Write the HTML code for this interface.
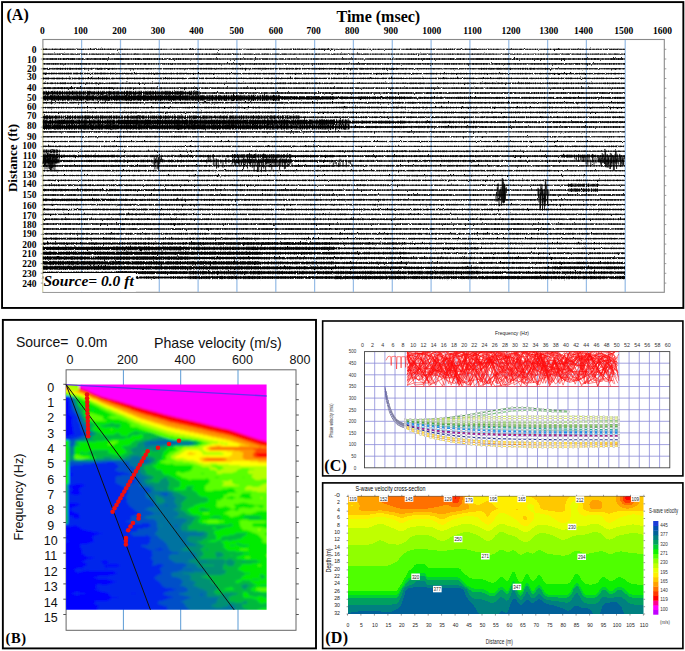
<!DOCTYPE html>
<html><head><meta charset="utf-8"><title>figure</title>
<style>html,body{margin:0;padding:0;background:#fff}body{width:685px;height:651px;overflow:hidden}svg{display:block}</style>
</head><body>
<svg width="685" height="651" viewBox="0 0 685 651">
<rect x="2.05" y="2.1" width="681.3" height="305.85" fill="none" stroke="#000" stroke-width="1.9"/>
<text x="6.5" y="20.3" font-family='"Liberation Serif",serif' font-weight="bold" font-size="16">(A)</text>
<text x="336.5" y="21.9" font-family='"Liberation Serif",serif' font-weight="bold" font-size="16">Time (msec)</text>
<text x="42.3" y="33.8" text-anchor="middle" font-family='"Liberation Serif",serif' font-weight="bold" font-size="9.5">0</text>
<text x="80.5" y="33.8" text-anchor="middle" font-family='"Liberation Serif",serif' font-weight="bold" font-size="9.5">100</text>
<text x="119.4" y="33.8" text-anchor="middle" font-family='"Liberation Serif",serif' font-weight="bold" font-size="9.5">200</text>
<text x="157.9" y="33.8" text-anchor="middle" font-family='"Liberation Serif",serif' font-weight="bold" font-size="9.5">300</text>
<text x="196.3" y="33.8" text-anchor="middle" font-family='"Liberation Serif",serif' font-weight="bold" font-size="9.5">400</text>
<text x="236.5" y="33.8" text-anchor="middle" font-family='"Liberation Serif",serif' font-weight="bold" font-size="9.5">500</text>
<text x="275.9" y="33.8" text-anchor="middle" font-family='"Liberation Serif",serif' font-weight="bold" font-size="9.5">600</text>
<text x="313.7" y="33.8" text-anchor="middle" font-family='"Liberation Serif",serif' font-weight="bold" font-size="9.5">700</text>
<text x="352" y="33.8" text-anchor="middle" font-family='"Liberation Serif",serif' font-weight="bold" font-size="9.5">800</text>
<text x="390.8" y="33.8" text-anchor="middle" font-family='"Liberation Serif",serif' font-weight="bold" font-size="9.5">900</text>
<text x="431.7" y="33.8" text-anchor="middle" font-family='"Liberation Serif",serif' font-weight="bold" font-size="9.5">1000</text>
<text x="472.4" y="33.8" text-anchor="middle" font-family='"Liberation Serif",serif' font-weight="bold" font-size="9.5">1100</text>
<text x="511" y="33.8" text-anchor="middle" font-family='"Liberation Serif",serif' font-weight="bold" font-size="9.5">1200</text>
<text x="548.8" y="33.8" text-anchor="middle" font-family='"Liberation Serif",serif' font-weight="bold" font-size="9.5">1300</text>
<text x="583.5" y="33.8" text-anchor="middle" font-family='"Liberation Serif",serif' font-weight="bold" font-size="9.5">1400</text>
<text x="623.8" y="33.8" text-anchor="middle" font-family='"Liberation Serif",serif' font-weight="bold" font-size="9.5">1500</text>
<text x="662.5" y="33.8" text-anchor="middle" font-family='"Liberation Serif",serif' font-weight="bold" font-size="9.5">1600</text>
<rect x="42.9" y="39.5" width="621.4" height="252.8" fill="#fff" stroke="#8a8a8a" stroke-width="1.1"/>
<line x1="81.6" y1="40" x2="81.6" y2="292" stroke="#98bde6" stroke-width="1.25"/>
<line x1="120.5" y1="40" x2="120.5" y2="292" stroke="#98bde6" stroke-width="1.25"/>
<line x1="159.3" y1="40" x2="159.3" y2="292" stroke="#98bde6" stroke-width="1.25"/>
<line x1="198.1" y1="40" x2="198.1" y2="292" stroke="#98bde6" stroke-width="1.25"/>
<line x1="236.9" y1="40" x2="236.9" y2="292" stroke="#98bde6" stroke-width="1.25"/>
<line x1="275.8" y1="40" x2="275.8" y2="292" stroke="#98bde6" stroke-width="1.25"/>
<line x1="314.6" y1="40" x2="314.6" y2="292" stroke="#98bde6" stroke-width="1.25"/>
<line x1="353.4" y1="40" x2="353.4" y2="292" stroke="#98bde6" stroke-width="1.25"/>
<line x1="392.3" y1="40" x2="392.3" y2="292" stroke="#98bde6" stroke-width="1.25"/>
<line x1="431.1" y1="40" x2="431.1" y2="292" stroke="#98bde6" stroke-width="1.25"/>
<line x1="469.9" y1="40" x2="469.9" y2="292" stroke="#98bde6" stroke-width="1.25"/>
<line x1="508.8" y1="40" x2="508.8" y2="292" stroke="#98bde6" stroke-width="1.25"/>
<line x1="547.6" y1="40" x2="547.6" y2="292" stroke="#98bde6" stroke-width="1.25"/>
<line x1="586.4" y1="40" x2="586.4" y2="292" stroke="#98bde6" stroke-width="1.25"/>
<line x1="625.2" y1="40" x2="625.2" y2="292" stroke="#98bde6" stroke-width="1.25"/>
<line x1="42.9" y1="48" x2="42.9" y2="292" stroke="#f2eeb0" stroke-width="1"/>
<text x="36.5" y="53.2" text-anchor="end" font-family='"Liberation Serif",serif' font-weight="bold" font-size="9.5">0</text>
<line x1="40.8" y1="49.3" x2="42.9" y2="49.3" stroke="#888" stroke-width="0.8"/>
<line x1="664.3" y1="49.3" x2="666.3" y2="49.3" stroke="#888" stroke-width="0.8"/>
<text x="36.5" y="63.3" text-anchor="end" font-family='"Liberation Serif",serif' font-weight="bold" font-size="9.5">10</text>
<line x1="40.8" y1="59" x2="42.9" y2="59" stroke="#888" stroke-width="0.8"/>
<line x1="664.3" y1="59" x2="666.3" y2="59" stroke="#888" stroke-width="0.8"/>
<text x="36.5" y="71.6" text-anchor="end" font-family='"Liberation Serif",serif' font-weight="bold" font-size="9.5">20</text>
<line x1="40.8" y1="68.8" x2="42.9" y2="68.8" stroke="#888" stroke-width="0.8"/>
<line x1="664.3" y1="68.8" x2="666.3" y2="68.8" stroke="#888" stroke-width="0.8"/>
<text x="36.5" y="80.4" text-anchor="end" font-family='"Liberation Serif",serif' font-weight="bold" font-size="9.5">30</text>
<line x1="40.8" y1="78.5" x2="42.9" y2="78.5" stroke="#888" stroke-width="0.8"/>
<line x1="664.3" y1="78.5" x2="666.3" y2="78.5" stroke="#888" stroke-width="0.8"/>
<text x="36.5" y="91" text-anchor="end" font-family='"Liberation Serif",serif' font-weight="bold" font-size="9.5">40</text>
<line x1="40.8" y1="88.3" x2="42.9" y2="88.3" stroke="#888" stroke-width="0.8"/>
<line x1="664.3" y1="88.3" x2="666.3" y2="88.3" stroke="#888" stroke-width="0.8"/>
<text x="36.5" y="100.8" text-anchor="end" font-family='"Liberation Serif",serif' font-weight="bold" font-size="9.5">50</text>
<line x1="40.8" y1="98" x2="42.9" y2="98" stroke="#888" stroke-width="0.8"/>
<line x1="664.3" y1="98" x2="666.3" y2="98" stroke="#888" stroke-width="0.8"/>
<text x="36.5" y="110.1" text-anchor="end" font-family='"Liberation Serif",serif' font-weight="bold" font-size="9.5">60</text>
<line x1="40.8" y1="107.7" x2="42.9" y2="107.7" stroke="#888" stroke-width="0.8"/>
<line x1="664.3" y1="107.7" x2="666.3" y2="107.7" stroke="#888" stroke-width="0.8"/>
<text x="36.5" y="119.3" text-anchor="end" font-family='"Liberation Serif",serif' font-weight="bold" font-size="9.5">70</text>
<line x1="40.8" y1="117.5" x2="42.9" y2="117.5" stroke="#888" stroke-width="0.8"/>
<line x1="664.3" y1="117.5" x2="666.3" y2="117.5" stroke="#888" stroke-width="0.8"/>
<text x="36.5" y="128.5" text-anchor="end" font-family='"Liberation Serif",serif' font-weight="bold" font-size="9.5">80</text>
<line x1="40.8" y1="127.2" x2="42.9" y2="127.2" stroke="#888" stroke-width="0.8"/>
<line x1="664.3" y1="127.2" x2="666.3" y2="127.2" stroke="#888" stroke-width="0.8"/>
<text x="36.5" y="139.6" text-anchor="end" font-family='"Liberation Serif",serif' font-weight="bold" font-size="9.5">90</text>
<line x1="40.8" y1="137" x2="42.9" y2="137" stroke="#888" stroke-width="0.8"/>
<line x1="664.3" y1="137" x2="666.3" y2="137" stroke="#888" stroke-width="0.8"/>
<text x="36.5" y="148.8" text-anchor="end" font-family='"Liberation Serif",serif' font-weight="bold" font-size="9.5">100</text>
<line x1="40.8" y1="146.7" x2="42.9" y2="146.7" stroke="#888" stroke-width="0.8"/>
<line x1="664.3" y1="146.7" x2="666.3" y2="146.7" stroke="#888" stroke-width="0.8"/>
<text x="36.5" y="159.1" text-anchor="end" font-family='"Liberation Serif",serif' font-weight="bold" font-size="9.5">110</text>
<line x1="40.8" y1="156.4" x2="42.9" y2="156.4" stroke="#888" stroke-width="0.8"/>
<line x1="664.3" y1="156.4" x2="666.3" y2="156.4" stroke="#888" stroke-width="0.8"/>
<text x="36.5" y="168.3" text-anchor="end" font-family='"Liberation Serif",serif' font-weight="bold" font-size="9.5">120</text>
<line x1="40.8" y1="166.2" x2="42.9" y2="166.2" stroke="#888" stroke-width="0.8"/>
<line x1="664.3" y1="166.2" x2="666.3" y2="166.2" stroke="#888" stroke-width="0.8"/>
<text x="36.5" y="178" text-anchor="end" font-family='"Liberation Serif",serif' font-weight="bold" font-size="9.5">130</text>
<line x1="40.8" y1="175.9" x2="42.9" y2="175.9" stroke="#888" stroke-width="0.8"/>
<line x1="664.3" y1="175.9" x2="666.3" y2="175.9" stroke="#888" stroke-width="0.8"/>
<text x="36.5" y="187.2" text-anchor="end" font-family='"Liberation Serif",serif' font-weight="bold" font-size="9.5">140</text>
<line x1="40.8" y1="185.7" x2="42.9" y2="185.7" stroke="#888" stroke-width="0.8"/>
<line x1="664.3" y1="185.7" x2="666.3" y2="185.7" stroke="#888" stroke-width="0.8"/>
<text x="36.5" y="198.3" text-anchor="end" font-family='"Liberation Serif",serif' font-weight="bold" font-size="9.5">150</text>
<line x1="40.8" y1="195.4" x2="42.9" y2="195.4" stroke="#888" stroke-width="0.8"/>
<line x1="664.3" y1="195.4" x2="666.3" y2="195.4" stroke="#888" stroke-width="0.8"/>
<text x="36.5" y="209.2" text-anchor="end" font-family='"Liberation Serif",serif' font-weight="bold" font-size="9.5">160</text>
<line x1="40.8" y1="205.1" x2="42.9" y2="205.1" stroke="#888" stroke-width="0.8"/>
<line x1="664.3" y1="205.1" x2="666.3" y2="205.1" stroke="#888" stroke-width="0.8"/>
<text x="36.5" y="218.7" text-anchor="end" font-family='"Liberation Serif",serif' font-weight="bold" font-size="9.5">170</text>
<line x1="40.8" y1="214.9" x2="42.9" y2="214.9" stroke="#888" stroke-width="0.8"/>
<line x1="664.3" y1="214.9" x2="666.3" y2="214.9" stroke="#888" stroke-width="0.8"/>
<text x="36.5" y="228.4" text-anchor="end" font-family='"Liberation Serif",serif' font-weight="bold" font-size="9.5">180</text>
<line x1="40.8" y1="224.6" x2="42.9" y2="224.6" stroke="#888" stroke-width="0.8"/>
<line x1="664.3" y1="224.6" x2="666.3" y2="224.6" stroke="#888" stroke-width="0.8"/>
<text x="36.5" y="237.4" text-anchor="end" font-family='"Liberation Serif",serif' font-weight="bold" font-size="9.5">190</text>
<line x1="40.8" y1="234.4" x2="42.9" y2="234.4" stroke="#888" stroke-width="0.8"/>
<line x1="664.3" y1="234.4" x2="666.3" y2="234.4" stroke="#888" stroke-width="0.8"/>
<text x="36.5" y="247.7" text-anchor="end" font-family='"Liberation Serif",serif' font-weight="bold" font-size="9.5">200</text>
<line x1="40.8" y1="244.1" x2="42.9" y2="244.1" stroke="#888" stroke-width="0.8"/>
<line x1="664.3" y1="244.1" x2="666.3" y2="244.1" stroke="#888" stroke-width="0.8"/>
<text x="36.5" y="256.7" text-anchor="end" font-family='"Liberation Serif",serif' font-weight="bold" font-size="9.5">210</text>
<line x1="40.8" y1="253.8" x2="42.9" y2="253.8" stroke="#888" stroke-width="0.8"/>
<line x1="664.3" y1="253.8" x2="666.3" y2="253.8" stroke="#888" stroke-width="0.8"/>
<text x="36.5" y="267.4" text-anchor="end" font-family='"Liberation Serif",serif' font-weight="bold" font-size="9.5">220</text>
<line x1="40.8" y1="263.6" x2="42.9" y2="263.6" stroke="#888" stroke-width="0.8"/>
<line x1="664.3" y1="263.6" x2="666.3" y2="263.6" stroke="#888" stroke-width="0.8"/>
<text x="36.5" y="276.8" text-anchor="end" font-family='"Liberation Serif",serif' font-weight="bold" font-size="9.5">230</text>
<line x1="40.8" y1="273.3" x2="42.9" y2="273.3" stroke="#888" stroke-width="0.8"/>
<line x1="664.3" y1="273.3" x2="666.3" y2="273.3" stroke="#888" stroke-width="0.8"/>
<text x="36.5" y="286.5" text-anchor="end" font-family='"Liberation Serif",serif' font-weight="bold" font-size="9.5">240</text>
<line x1="40.8" y1="283.1" x2="42.9" y2="283.1" stroke="#888" stroke-width="0.8"/>
<line x1="664.3" y1="283.1" x2="666.3" y2="283.1" stroke="#888" stroke-width="0.8"/>
<text transform="translate(17.2,158) rotate(-90)" text-anchor="middle" font-family='"Liberation Serif",serif' font-weight="bold" font-size="13">Distance (ft)</text>
<style>.tA{stroke-dasharray:0.43 1.03 1.09 0.77 0.50 1.15 1.33 0.81 0.91 0.48 0.20 0.65 1.02 0.28 1.31 0.48 0.53 0.25 1.60 1.09 1.43 0.94 0.25 0.59 0.90 0.34 1.53 0.64 0.42 1.18 0.37 1.31 0.83 0.86 0.68 0.78 0.46 0.24 1.41 0.48 1.29 0.45 1.56 1.27 1.26 1.12 1.01 1.08 0.37 0.77 1.36 0.44 1.49 1.27 0.77 0.64 0.83 0.66 1.59 0.66 0.24 0.31 1.21 1.39 0.89 0.79 0.97 1.10 0.51 0.93 0.98 0.95 0.45 0.40 0.69 1.31 0.69 0.92 0.63 0.32 0.29 1.18 1.29 0.65 1.16 1.01 1.46 1.35 0.77 1.39 1.55 0.91 1.44 0.79 0.73 0.50 1.43 0.39 0.30 1.17}.tB{stroke-dasharray:0.82 1.61 0.87 0.62 0.41 1.17 0.54 0.89 0.26 1.28 0.92 2.76 0.80 1.60 0.40 2.71 0.62 2.18 0.22 0.99 0.87 2.33 0.91 1.88 0.54 1.84 0.88 1.21 0.63 1.13 0.81 0.52 0.75 2.69 0.22 1.87 0.72 2.46 0.67 1.09 0.52 2.71 0.92 0.81 0.28 0.72 0.22 1.53 0.31 2.49 0.72 0.79 0.63 1.25 0.60 1.01 0.33 0.92 0.50 2.13 0.64 0.61 0.77 2.51 0.82 2.32 0.21 1.57 0.25 2.26 0.34 2.14 0.40 2.10 0.45 0.60 0.51 1.21 0.92 1.18 0.60 1.76 0.96 0.73 0.68 1.67 0.79 2.72 0.45 2.11 0.62 1.79 0.25 2.37 0.98 1.32 0.45 2.78 0.29 0.68}.tC{stroke-dasharray:0.27 1.68 0.96 1.06 0.82 0.33 0.84 1.05 0.72 0.96 0.60 0.68 0.25 1.04 0.45 1.50 1.02 1.53 0.66 0.70 0.59 1.13 0.83 1.94 0.29 1.12 0.69 1.52 1.09 1.63 0.83 1.59 0.87 1.76 0.90 1.46 0.45 1.86 0.59 1.35 1.02 1.94 1.19 0.31 0.51 0.83 0.59 0.55 0.75 0.44 0.50 1.90 0.94 1.09 0.31 1.93 0.90 0.65 0.54 1.39 0.88 0.74 1.15 0.85 0.45 1.74 0.35 1.46 0.40 1.32 0.48 0.94 1.14 1.09 0.64 1.35 0.48 0.60 0.58 0.76 0.39 1.93 0.23 1.68 1.13 1.50 0.22 1.15 0.24 1.33 0.90 0.71 0.21 1.23 0.29 0.83 0.65 1.82 0.57 0.53}</style>
<filter id="blA" x="30" y="30" width="650" height="270" filterUnits="userSpaceOnUse"><feTurbulence type="fractalNoise" baseFrequency="0.7 0.25" numOctaves="2" seed="4" result="tb"/><feDisplacementMap in="SourceGraphic" in2="tb" scale="2.0" xChannelSelector="R" yChannelSelector="G" result="dm"/><feGaussianBlur in="dm" stdDeviation="0.35"/></filter>
<g stroke="#000" filter="url(#blA)">
<path d="M42.9 49.30H115.7" stroke-width="0.71"/><path class="tA" d="M42.9 49.30H115.7" stroke-width="0.97" stroke-dashoffset="32.9"/><path class="tB" d="M42.9 49.30H115.7" stroke-width="1.40" stroke-dashoffset="31.8"/>
<path d="M115.7 49.30H188.4" stroke-width="0.60"/><path class="tA" d="M115.7 49.30H188.4" stroke-width="0.79" stroke-dashoffset="7.5"/><path class="tB" d="M115.7 49.30H188.4" stroke-width="1.16" stroke-dashoffset="24.2"/>
<path d="M188.4 49.30H261.2" stroke-width="0.68"/><path class="tA" d="M188.4 49.30H261.2" stroke-width="0.91" stroke-dashoffset="9.0"/><path class="tB" d="M188.4 49.30H261.2" stroke-width="1.33" stroke-dashoffset="48.1"/>
<path d="M261.2 49.30H333.9" stroke-width="0.72"/><path class="tA" d="M261.2 49.30H333.9" stroke-width="0.98" stroke-dashoffset="37.0"/><path class="tB" d="M261.2 49.30H333.9" stroke-width="1.42" stroke-dashoffset="53.0"/>
<path d="M333.9 49.30H406.7" stroke-width="0.60"/><path class="tA" d="M333.9 49.30H406.7" stroke-width="0.78" stroke-dashoffset="23.3"/><path class="tB" d="M333.9 49.30H406.7" stroke-width="1.15" stroke-dashoffset="4.8"/>
<path d="M406.7 49.30H479.5" stroke-width="0.73"/><path class="tA" d="M406.7 49.30H479.5" stroke-width="1.00" stroke-dashoffset="29.9"/><path class="tB" d="M406.7 49.30H479.5" stroke-width="1.44" stroke-dashoffset="45.6"/>
<path d="M479.5 49.30H552.2" stroke-width="0.62"/><path class="tA" d="M479.5 49.30H552.2" stroke-width="0.82" stroke-dashoffset="2.4"/><path class="tB" d="M479.5 49.30H552.2" stroke-width="1.21" stroke-dashoffset="48.9"/>
<path d="M552.2 49.30H625.0" stroke-width="0.69"/><path class="tA" d="M552.2 49.30H625.0" stroke-width="0.93" stroke-dashoffset="24.8"/><path class="tB" d="M552.2 49.30H625.0" stroke-width="1.34" stroke-dashoffset="28.3"/>
<path d="M42.9 54.16H115.7" stroke-width="0.72"/><path class="tA" d="M42.9 54.16H115.7" stroke-width="0.97" stroke-dashoffset="13.5"/><path class="tB" d="M42.9 54.16H115.7" stroke-width="1.41" stroke-dashoffset="16.2"/>
<path d="M115.7 54.16H188.4" stroke-width="0.65"/><path class="tA" d="M115.7 54.16H188.4" stroke-width="0.86" stroke-dashoffset="11.9"/><path class="tB" d="M115.7 54.16H188.4" stroke-width="1.26" stroke-dashoffset="37.6"/>
<path d="M188.4 54.16H261.2" stroke-width="0.73"/><path class="tA" d="M188.4 54.16H261.2" stroke-width="1.00" stroke-dashoffset="2.8"/><path class="tB" d="M188.4 54.16H261.2" stroke-width="1.44" stroke-dashoffset="4.1"/>
<path d="M261.2 54.16H333.9" stroke-width="0.67"/><path class="tA" d="M261.2 54.16H333.9" stroke-width="0.90" stroke-dashoffset="27.1"/><path class="tB" d="M261.2 54.16H333.9" stroke-width="1.31" stroke-dashoffset="11.4"/>
<path d="M333.9 54.16H406.7" stroke-width="0.63"/><path class="tA" d="M333.9 54.16H406.7" stroke-width="0.84" stroke-dashoffset="2.4"/><path class="tB" d="M333.9 54.16H406.7" stroke-width="1.24" stroke-dashoffset="2.2"/>
<path d="M406.7 54.16H479.5" stroke-width="0.67"/><path class="tA" d="M406.7 54.16H479.5" stroke-width="0.90" stroke-dashoffset="27.2"/><path class="tB" d="M406.7 54.16H479.5" stroke-width="1.31" stroke-dashoffset="39.2"/>
<path d="M479.5 54.16H552.2" stroke-width="0.62"/><path class="tA" d="M479.5 54.16H552.2" stroke-width="0.82" stroke-dashoffset="4.2"/><path class="tB" d="M479.5 54.16H552.2" stroke-width="1.20" stroke-dashoffset="55.9"/>
<path d="M552.2 54.16H625.0" stroke-width="0.68"/><path class="tA" d="M552.2 54.16H625.0" stroke-width="0.91" stroke-dashoffset="16.3"/><path class="tB" d="M552.2 54.16H625.0" stroke-width="1.32" stroke-dashoffset="41.5"/>
<path d="M42.9 59.01H115.7" stroke-width="0.93"/><path class="tA" d="M42.9 59.01H115.7" stroke-width="1.31" stroke-dashoffset="21.0"/><path class="tB" d="M42.9 59.01H115.7" stroke-width="1.84" stroke-dashoffset="4.7"/>
<path d="M115.7 59.01H188.4" stroke-width="0.94"/><path class="tA" d="M115.7 59.01H188.4" stroke-width="1.33" stroke-dashoffset="8.5"/><path class="tB" d="M115.7 59.01H188.4" stroke-width="1.88" stroke-dashoffset="2.4"/>
<path d="M188.4 59.01H261.2" stroke-width="0.87"/><path class="tA" d="M188.4 59.01H261.2" stroke-width="1.21" stroke-dashoffset="21.3"/><path class="tB" d="M188.4 59.01H261.2" stroke-width="1.72" stroke-dashoffset="37.7"/>
<path d="M261.2 59.01H333.9" stroke-width="0.84"/><path class="tA" d="M261.2 59.01H333.9" stroke-width="1.17" stroke-dashoffset="28.4"/><path class="tB" d="M261.2 59.01H333.9" stroke-width="1.67" stroke-dashoffset="29.6"/>
<path d="M333.9 59.01H406.7" stroke-width="0.84"/><path class="tA" d="M333.9 59.01H406.7" stroke-width="1.17" stroke-dashoffset="34.0"/><path class="tB" d="M333.9 59.01H406.7" stroke-width="1.66" stroke-dashoffset="48.4"/>
<path d="M406.7 59.01H479.5" stroke-width="0.95"/><path class="tA" d="M406.7 59.01H479.5" stroke-width="1.35" stroke-dashoffset="27.2"/><path class="tB" d="M406.7 59.01H479.5" stroke-width="1.90" stroke-dashoffset="13.0"/>
<path d="M479.5 59.01H552.2" stroke-width="0.93"/><path class="tA" d="M479.5 59.01H552.2" stroke-width="1.32" stroke-dashoffset="36.1"/><path class="tB" d="M479.5 59.01H552.2" stroke-width="1.86" stroke-dashoffset="32.0"/>
<path d="M552.2 59.01H625.0" stroke-width="0.95"/><path class="tA" d="M552.2 59.01H625.0" stroke-width="1.35" stroke-dashoffset="38.8"/><path class="tB" d="M552.2 59.01H625.0" stroke-width="1.90" stroke-dashoffset="23.4"/>
<path d="M42.9 63.86H115.7" stroke-width="0.96"/><path class="tA" d="M42.9 63.86H115.7" stroke-width="1.36" stroke-dashoffset="37.5"/><path class="tB" d="M42.9 63.86H115.7" stroke-width="1.91" stroke-dashoffset="47.6"/>
<path d="M115.7 63.86H188.4" stroke-width="0.81"/><path class="tA" d="M115.7 63.86H188.4" stroke-width="1.13" stroke-dashoffset="14.1"/><path class="tB" d="M115.7 63.86H188.4" stroke-width="1.61" stroke-dashoffset="36.8"/>
<path d="M188.4 63.86H261.2" stroke-width="0.91"/><path class="tA" d="M188.4 63.86H261.2" stroke-width="1.28" stroke-dashoffset="30.2"/><path class="tB" d="M188.4 63.86H261.2" stroke-width="1.80" stroke-dashoffset="38.8"/>
<path d="M261.2 63.86H333.9" stroke-width="0.84"/><path class="tA" d="M261.2 63.86H333.9" stroke-width="1.17" stroke-dashoffset="37.2"/><path class="tB" d="M261.2 63.86H333.9" stroke-width="1.66" stroke-dashoffset="32.2"/>
<path d="M333.9 63.86H406.7" stroke-width="0.95"/><path class="tA" d="M333.9 63.86H406.7" stroke-width="1.34" stroke-dashoffset="8.3"/><path class="tB" d="M333.9 63.86H406.7" stroke-width="1.89" stroke-dashoffset="59.9"/>
<path d="M406.7 63.86H479.5" stroke-width="0.90"/><path class="tA" d="M406.7 63.86H479.5" stroke-width="1.26" stroke-dashoffset="31.0"/><path class="tB" d="M406.7 63.86H479.5" stroke-width="1.79" stroke-dashoffset="44.4"/>
<path d="M479.5 63.86H552.2" stroke-width="0.95"/><path class="tA" d="M479.5 63.86H552.2" stroke-width="1.34" stroke-dashoffset="14.5"/><path class="tB" d="M479.5 63.86H552.2" stroke-width="1.89" stroke-dashoffset="5.0"/>
<path d="M552.2 63.86H625.0" stroke-width="0.88"/><path class="tA" d="M552.2 63.86H625.0" stroke-width="1.23" stroke-dashoffset="7.1"/><path class="tB" d="M552.2 63.86H625.0" stroke-width="1.74" stroke-dashoffset="32.4"/>
<path d="M42.9 68.72H115.7" stroke-width="0.94"/><path class="tA" d="M42.9 68.72H115.7" stroke-width="1.33" stroke-dashoffset="14.5"/><path class="tB" d="M42.9 68.72H115.7" stroke-width="1.87" stroke-dashoffset="7.9"/>
<path d="M115.7 68.72H188.4" stroke-width="0.84"/><path class="tA" d="M115.7 68.72H188.4" stroke-width="1.18" stroke-dashoffset="16.9"/><path class="tB" d="M115.7 68.72H188.4" stroke-width="1.67" stroke-dashoffset="34.8"/>
<path d="M188.4 68.72H261.2" stroke-width="0.90"/><path class="tA" d="M188.4 68.72H261.2" stroke-width="1.26" stroke-dashoffset="26.6"/><path class="tB" d="M188.4 68.72H261.2" stroke-width="1.79" stroke-dashoffset="12.7"/>
<path d="M261.2 68.72H333.9" stroke-width="0.92"/><path class="tA" d="M261.2 68.72H333.9" stroke-width="1.29" stroke-dashoffset="37.1"/><path class="tB" d="M261.2 68.72H333.9" stroke-width="1.82" stroke-dashoffset="31.4"/>
<path d="M333.9 68.72H406.7" stroke-width="0.98"/><path class="tA" d="M333.9 68.72H406.7" stroke-width="1.40" stroke-dashoffset="20.6"/><path class="tB" d="M333.9 68.72H406.7" stroke-width="1.97" stroke-dashoffset="7.4"/>
<path d="M406.7 68.72H479.5" stroke-width="0.85"/><path class="tA" d="M406.7 68.72H479.5" stroke-width="1.19" stroke-dashoffset="17.0"/><path class="tB" d="M406.7 68.72H479.5" stroke-width="1.69" stroke-dashoffset="38.5"/>
<path d="M479.5 68.72H552.2" stroke-width="0.93"/><path class="tA" d="M479.5 68.72H552.2" stroke-width="1.32" stroke-dashoffset="30.1"/><path class="tB" d="M479.5 68.72H552.2" stroke-width="1.86" stroke-dashoffset="39.0"/>
<path d="M552.2 68.72H625.0" stroke-width="0.85"/><path class="tA" d="M552.2 68.72H625.0" stroke-width="1.19" stroke-dashoffset="17.2"/><path class="tB" d="M552.2 68.72H625.0" stroke-width="1.69" stroke-dashoffset="22.7"/>
<path d="M42.9 73.58H115.7" stroke-width="1.00"/><path class="tA" d="M42.9 73.58H115.7" stroke-width="1.42" stroke-dashoffset="10.6"/><path class="tB" d="M42.9 73.58H115.7" stroke-width="2.00" stroke-dashoffset="32.3"/>
<path d="M115.7 73.58H188.4" stroke-width="0.97"/><path class="tA" d="M115.7 73.58H188.4" stroke-width="1.37" stroke-dashoffset="1.4"/><path class="tB" d="M115.7 73.58H188.4" stroke-width="1.93" stroke-dashoffset="49.4"/>
<path d="M188.4 73.58H261.2" stroke-width="0.93"/><path class="tA" d="M188.4 73.58H261.2" stroke-width="1.32" stroke-dashoffset="32.1"/><path class="tB" d="M188.4 73.58H261.2" stroke-width="1.86" stroke-dashoffset="44.2"/>
<path d="M261.2 73.58H333.9" stroke-width="0.93"/><path class="tA" d="M261.2 73.58H333.9" stroke-width="1.31" stroke-dashoffset="39.7"/><path class="tB" d="M261.2 73.58H333.9" stroke-width="1.84" stroke-dashoffset="22.6"/>
<path d="M333.9 73.58H406.7" stroke-width="0.87"/><path class="tA" d="M333.9 73.58H406.7" stroke-width="1.22" stroke-dashoffset="0.1"/><path class="tB" d="M333.9 73.58H406.7" stroke-width="1.74" stroke-dashoffset="39.9"/>
<path d="M406.7 73.58H479.5" stroke-width="0.90"/><path class="tA" d="M406.7 73.58H479.5" stroke-width="1.27" stroke-dashoffset="23.1"/><path class="tB" d="M406.7 73.58H479.5" stroke-width="1.80" stroke-dashoffset="59.9"/>
<path d="M479.5 73.58H552.2" stroke-width="0.84"/><path class="tA" d="M479.5 73.58H552.2" stroke-width="1.18" stroke-dashoffset="9.1"/><path class="tB" d="M479.5 73.58H552.2" stroke-width="1.67" stroke-dashoffset="44.0"/>
<path d="M552.2 73.58H625.0" stroke-width="0.94"/><path class="tA" d="M552.2 73.58H625.0" stroke-width="1.33" stroke-dashoffset="19.3"/><path class="tB" d="M552.2 73.58H625.0" stroke-width="1.87" stroke-dashoffset="3.3"/>
<path d="M42.9 78.43H115.7" stroke-width="0.98"/><path class="tA" d="M42.9 78.43H115.7" stroke-width="1.39" stroke-dashoffset="33.1"/><path class="tB" d="M42.9 78.43H115.7" stroke-width="1.96" stroke-dashoffset="30.0"/>
<path d="M115.7 78.43H188.4" stroke-width="0.97"/><path class="tA" d="M115.7 78.43H188.4" stroke-width="1.37" stroke-dashoffset="15.6"/><path class="tB" d="M115.7 78.43H188.4" stroke-width="1.93" stroke-dashoffset="37.7"/>
<path d="M188.4 78.43H261.2" stroke-width="0.93"/><path class="tA" d="M188.4 78.43H261.2" stroke-width="1.32" stroke-dashoffset="27.7"/><path class="tB" d="M188.4 78.43H261.2" stroke-width="1.86" stroke-dashoffset="51.9"/>
<path d="M261.2 78.43H333.9" stroke-width="0.93"/><path class="tA" d="M261.2 78.43H333.9" stroke-width="1.31" stroke-dashoffset="15.0"/><path class="tB" d="M261.2 78.43H333.9" stroke-width="1.85" stroke-dashoffset="15.0"/>
<path d="M333.9 78.43H406.7" stroke-width="0.93"/><path class="tA" d="M333.9 78.43H406.7" stroke-width="1.32" stroke-dashoffset="31.7"/><path class="tB" d="M333.9 78.43H406.7" stroke-width="1.86" stroke-dashoffset="55.7"/>
<path d="M406.7 78.43H479.5" stroke-width="0.84"/><path class="tA" d="M406.7 78.43H479.5" stroke-width="1.18" stroke-dashoffset="33.9"/><path class="tB" d="M406.7 78.43H479.5" stroke-width="1.67" stroke-dashoffset="53.4"/>
<path d="M479.5 78.43H552.2" stroke-width="0.82"/><path class="tA" d="M479.5 78.43H552.2" stroke-width="1.15" stroke-dashoffset="12.3"/><path class="tB" d="M479.5 78.43H552.2" stroke-width="1.63" stroke-dashoffset="38.0"/>
<path d="M552.2 78.43H625.0" stroke-width="0.84"/><path class="tA" d="M552.2 78.43H625.0" stroke-width="1.16" stroke-dashoffset="33.2"/><path class="tB" d="M552.2 78.43H625.0" stroke-width="1.66" stroke-dashoffset="15.9"/>
<path d="M42.9 83.28H115.7" stroke-width="0.92"/><path class="tA" d="M42.9 83.28H115.7" stroke-width="1.29" stroke-dashoffset="11.8"/><path class="tB" d="M42.9 83.28H115.7" stroke-width="1.83" stroke-dashoffset="13.1"/>
<path d="M115.7 83.28H188.4" stroke-width="0.84"/><path class="tA" d="M115.7 83.28H188.4" stroke-width="1.18" stroke-dashoffset="19.9"/><path class="tB" d="M115.7 83.28H188.4" stroke-width="1.68" stroke-dashoffset="42.8"/>
<path d="M188.4 83.28H261.2" stroke-width="0.85"/><path class="tA" d="M188.4 83.28H261.2" stroke-width="1.18" stroke-dashoffset="27.5"/><path class="tB" d="M188.4 83.28H261.2" stroke-width="1.68" stroke-dashoffset="20.1"/>
<path d="M261.2 83.28H333.9" stroke-width="0.91"/><path class="tA" d="M261.2 83.28H333.9" stroke-width="1.29" stroke-dashoffset="14.7"/><path class="tB" d="M261.2 83.28H333.9" stroke-width="1.82" stroke-dashoffset="11.6"/>
<path d="M333.9 83.28H406.7" stroke-width="0.83"/><path class="tA" d="M333.9 83.28H406.7" stroke-width="1.16" stroke-dashoffset="2.3"/><path class="tB" d="M333.9 83.28H406.7" stroke-width="1.65" stroke-dashoffset="41.8"/>
<path d="M406.7 83.28H479.5" stroke-width="0.88"/><path class="tA" d="M406.7 83.28H479.5" stroke-width="1.23" stroke-dashoffset="4.9"/><path class="tB" d="M406.7 83.28H479.5" stroke-width="1.74" stroke-dashoffset="52.8"/>
<path d="M479.5 83.28H552.2" stroke-width="0.91"/><path class="tA" d="M479.5 83.28H552.2" stroke-width="1.29" stroke-dashoffset="0.8"/><path class="tB" d="M479.5 83.28H552.2" stroke-width="1.82" stroke-dashoffset="43.5"/>
<path d="M552.2 83.28H625.0" stroke-width="0.90"/><path class="tA" d="M552.2 83.28H625.0" stroke-width="1.27" stroke-dashoffset="17.8"/><path class="tB" d="M552.2 83.28H625.0" stroke-width="1.80" stroke-dashoffset="30.0"/>
<path d="M42.9 88.14H115.7" stroke-width="1.07"/><path class="tA" d="M42.9 88.14H115.7" stroke-width="1.54" stroke-dashoffset="15.0"/><path class="tB" d="M42.9 88.14H115.7" stroke-width="2.15" stroke-dashoffset="38.2"/>
<path d="M115.7 88.14H188.4" stroke-width="0.99"/><path class="tA" d="M115.7 88.14H188.4" stroke-width="1.42" stroke-dashoffset="14.6"/><path class="tB" d="M115.7 88.14H188.4" stroke-width="1.99" stroke-dashoffset="20.8"/>
<path d="M188.4 88.14H261.2" stroke-width="0.96"/><path class="tA" d="M188.4 88.14H261.2" stroke-width="1.36" stroke-dashoffset="25.4"/><path class="tB" d="M188.4 88.14H261.2" stroke-width="1.91" stroke-dashoffset="27.4"/>
<path d="M261.2 88.14H333.9" stroke-width="0.92"/><path class="tA" d="M261.2 88.14H333.9" stroke-width="1.29" stroke-dashoffset="8.9"/><path class="tB" d="M261.2 88.14H333.9" stroke-width="1.82" stroke-dashoffset="47.4"/>
<path d="M333.9 88.14H406.7" stroke-width="0.89"/><path class="tA" d="M333.9 88.14H406.7" stroke-width="1.26" stroke-dashoffset="25.7"/><path class="tB" d="M333.9 88.14H406.7" stroke-width="1.78" stroke-dashoffset="27.3"/>
<path d="M406.7 88.14H479.5" stroke-width="0.94"/><path class="tA" d="M406.7 88.14H479.5" stroke-width="1.32" stroke-dashoffset="23.5"/><path class="tB" d="M406.7 88.14H479.5" stroke-width="1.86" stroke-dashoffset="35.0"/>
<path d="M479.5 88.14H552.2" stroke-width="0.86"/><path class="tA" d="M479.5 88.14H552.2" stroke-width="1.20" stroke-dashoffset="19.6"/><path class="tB" d="M479.5 88.14H552.2" stroke-width="1.70" stroke-dashoffset="9.9"/>
<path d="M552.2 88.14H625.0" stroke-width="0.94"/><path class="tA" d="M552.2 88.14H625.0" stroke-width="1.32" stroke-dashoffset="13.1"/><path class="tB" d="M552.2 88.14H625.0" stroke-width="1.87" stroke-dashoffset="19.7"/>
<path d="M42.9 93.00H115.7" stroke-width="1.45"/><path class="tA" d="M42.9 93.00H115.7" stroke-width="1.98" stroke-dashoffset="1.9"/><path class="tB" d="M42.9 93.00H115.7" stroke-width="2.61" stroke-dashoffset="11.2"/>
<path d="M115.7 93.00H188.4" stroke-width="1.26"/><path class="tA" d="M115.7 93.00H188.4" stroke-width="1.77" stroke-dashoffset="25.0"/><path class="tB" d="M115.7 93.00H188.4" stroke-width="2.40" stroke-dashoffset="50.8"/>
<path d="M188.4 93.00H261.2" stroke-width="1.10"/><path class="tA" d="M188.4 93.00H261.2" stroke-width="1.58" stroke-dashoffset="4.5"/><path class="tB" d="M188.4 93.00H261.2" stroke-width="2.20" stroke-dashoffset="32.1"/>
<path d="M261.2 93.00H333.9" stroke-width="1.03"/><path class="tA" d="M261.2 93.00H333.9" stroke-width="1.47" stroke-dashoffset="16.2"/><path class="tB" d="M261.2 93.00H333.9" stroke-width="2.06" stroke-dashoffset="45.7"/>
<path d="M333.9 93.00H406.7" stroke-width="0.99"/><path class="tA" d="M333.9 93.00H406.7" stroke-width="1.40" stroke-dashoffset="28.0"/><path class="tB" d="M333.9 93.00H406.7" stroke-width="1.97" stroke-dashoffset="32.3"/>
<path d="M406.7 93.00H479.5" stroke-width="0.94"/><path class="tA" d="M406.7 93.00H479.5" stroke-width="1.32" stroke-dashoffset="9.7"/><path class="tB" d="M406.7 93.00H479.5" stroke-width="1.87" stroke-dashoffset="36.0"/>
<path d="M479.5 93.00H552.2" stroke-width="0.94"/><path class="tA" d="M479.5 93.00H552.2" stroke-width="1.33" stroke-dashoffset="8.1"/><path class="tB" d="M479.5 93.00H552.2" stroke-width="1.87" stroke-dashoffset="34.6"/>
<path d="M552.2 93.00H625.0" stroke-width="1.05"/><path class="tA" d="M552.2 93.00H625.0" stroke-width="1.50" stroke-dashoffset="20.8"/><path class="tB" d="M552.2 93.00H625.0" stroke-width="2.10" stroke-dashoffset="39.8"/>
<path d="M42.9 97.85H115.7" stroke-width="2.97"/><path class="tA" d="M42.9 97.85H115.7" stroke-width="3.67" stroke-dashoffset="12.1"/><path class="tB" d="M42.9 97.85H115.7" stroke-width="4.32" stroke-dashoffset="19.1"/>
<path d="M115.7 97.85H188.4" stroke-width="3.54"/><path class="tA" d="M115.7 97.85H188.4" stroke-width="4.31" stroke-dashoffset="14.3"/><path class="tB" d="M115.7 97.85H188.4" stroke-width="4.96" stroke-dashoffset="47.1"/>
<path d="M188.4 97.85H261.2" stroke-width="2.58"/><path class="tA" d="M188.4 97.85H261.2" stroke-width="3.24" stroke-dashoffset="19.9"/><path class="tB" d="M188.4 97.85H261.2" stroke-width="3.88" stroke-dashoffset="53.5"/>
<path d="M261.2 97.85H333.9" stroke-width="2.64"/><path class="tA" d="M261.2 97.85H333.9" stroke-width="3.31" stroke-dashoffset="23.2"/><path class="tB" d="M261.2 97.85H333.9" stroke-width="3.95" stroke-dashoffset="10.9"/>
<path d="M333.9 97.85H406.7" stroke-width="1.94"/><path class="tA" d="M333.9 97.85H406.7" stroke-width="2.53" stroke-dashoffset="3.2"/><path class="tB" d="M333.9 97.85H406.7" stroke-width="3.17" stroke-dashoffset="57.9"/>
<path d="M406.7 97.85H479.5" stroke-width="1.33"/><path class="tA" d="M406.7 97.85H479.5" stroke-width="1.84" stroke-dashoffset="28.8"/><path class="tB" d="M406.7 97.85H479.5" stroke-width="2.47" stroke-dashoffset="31.8"/>
<path d="M479.5 97.85H552.2" stroke-width="1.06"/><path class="tA" d="M479.5 97.85H552.2" stroke-width="1.52" stroke-dashoffset="13.6"/><path class="tB" d="M479.5 97.85H552.2" stroke-width="2.12" stroke-dashoffset="39.8"/>
<path d="M552.2 97.85H625.0" stroke-width="1.23"/><path class="tA" d="M552.2 97.85H625.0" stroke-width="1.74" stroke-dashoffset="15.6"/><path class="tB" d="M552.2 97.85H625.0" stroke-width="2.37" stroke-dashoffset="48.1"/>
<path d="M42.9 102.70H115.7" stroke-width="0.93"/><path class="tA" d="M42.9 102.70H115.7" stroke-width="1.32" stroke-dashoffset="11.5"/><path class="tB" d="M42.9 102.70H115.7" stroke-width="1.86" stroke-dashoffset="5.4"/>
<path d="M115.7 102.70H188.4" stroke-width="0.97"/><path class="tA" d="M115.7 102.70H188.4" stroke-width="1.38" stroke-dashoffset="31.7"/><path class="tB" d="M115.7 102.70H188.4" stroke-width="1.94" stroke-dashoffset="45.2"/>
<path d="M188.4 102.70H261.2" stroke-width="0.95"/><path class="tA" d="M188.4 102.70H261.2" stroke-width="1.34" stroke-dashoffset="12.3"/><path class="tB" d="M188.4 102.70H261.2" stroke-width="1.89" stroke-dashoffset="6.7"/>
<path d="M261.2 102.70H333.9" stroke-width="1.02"/><path class="tA" d="M261.2 102.70H333.9" stroke-width="1.46" stroke-dashoffset="17.7"/><path class="tB" d="M261.2 102.70H333.9" stroke-width="2.05" stroke-dashoffset="13.9"/>
<path d="M333.9 102.70H406.7" stroke-width="0.98"/><path class="tA" d="M333.9 102.70H406.7" stroke-width="1.39" stroke-dashoffset="34.6"/><path class="tB" d="M333.9 102.70H406.7" stroke-width="1.96" stroke-dashoffset="25.5"/>
<path d="M406.7 102.70H479.5" stroke-width="1.03"/><path class="tA" d="M406.7 102.70H479.5" stroke-width="1.47" stroke-dashoffset="25.1"/><path class="tB" d="M406.7 102.70H479.5" stroke-width="2.06" stroke-dashoffset="28.4"/>
<path d="M479.5 102.70H552.2" stroke-width="1.01"/><path class="tA" d="M479.5 102.70H552.2" stroke-width="1.44" stroke-dashoffset="14.6"/><path class="tB" d="M479.5 102.70H552.2" stroke-width="2.02" stroke-dashoffset="11.9"/>
<path d="M552.2 102.70H625.0" stroke-width="1.00"/><path class="tA" d="M552.2 102.70H625.0" stroke-width="1.42" stroke-dashoffset="12.2"/><path class="tB" d="M552.2 102.70H625.0" stroke-width="2.00" stroke-dashoffset="19.8"/>
<path d="M42.9 107.56H115.7" stroke-width="0.84"/><path class="tA" d="M42.9 107.56H115.7" stroke-width="1.17" stroke-dashoffset="36.5"/><path class="tB" d="M42.9 107.56H115.7" stroke-width="1.67" stroke-dashoffset="25.5"/>
<path d="M115.7 107.56H188.4" stroke-width="0.84"/><path class="tA" d="M115.7 107.56H188.4" stroke-width="1.18" stroke-dashoffset="1.3"/><path class="tB" d="M115.7 107.56H188.4" stroke-width="1.67" stroke-dashoffset="12.9"/>
<path d="M188.4 107.56H261.2" stroke-width="0.95"/><path class="tA" d="M188.4 107.56H261.2" stroke-width="1.34" stroke-dashoffset="13.5"/><path class="tB" d="M188.4 107.56H261.2" stroke-width="1.89" stroke-dashoffset="40.0"/>
<path d="M261.2 107.56H333.9" stroke-width="0.87"/><path class="tA" d="M261.2 107.56H333.9" stroke-width="1.22" stroke-dashoffset="26.0"/><path class="tB" d="M261.2 107.56H333.9" stroke-width="1.73" stroke-dashoffset="27.0"/>
<path d="M333.9 107.56H406.7" stroke-width="1.00"/><path class="tA" d="M333.9 107.56H406.7" stroke-width="1.43" stroke-dashoffset="21.1"/><path class="tB" d="M333.9 107.56H406.7" stroke-width="2.01" stroke-dashoffset="22.5"/>
<path d="M406.7 107.56H479.5" stroke-width="0.94"/><path class="tA" d="M406.7 107.56H479.5" stroke-width="1.34" stroke-dashoffset="23.8"/><path class="tB" d="M406.7 107.56H479.5" stroke-width="1.88" stroke-dashoffset="49.9"/>
<path d="M479.5 107.56H552.2" stroke-width="0.95"/><path class="tA" d="M479.5 107.56H552.2" stroke-width="1.35" stroke-dashoffset="19.2"/><path class="tB" d="M479.5 107.56H552.2" stroke-width="1.90" stroke-dashoffset="19.7"/>
<path d="M552.2 107.56H625.0" stroke-width="0.95"/><path class="tA" d="M552.2 107.56H625.0" stroke-width="1.35" stroke-dashoffset="33.8"/><path class="tB" d="M552.2 107.56H625.0" stroke-width="1.90" stroke-dashoffset="8.7"/>
<path d="M42.9 112.42H115.7" stroke-width="0.92"/><path class="tA" d="M42.9 112.42H115.7" stroke-width="1.29" stroke-dashoffset="30.9"/><path class="tB" d="M42.9 112.42H115.7" stroke-width="1.83" stroke-dashoffset="40.5"/>
<path d="M115.7 112.42H188.4" stroke-width="0.96"/><path class="tA" d="M115.7 112.42H188.4" stroke-width="1.36" stroke-dashoffset="35.2"/><path class="tB" d="M115.7 112.42H188.4" stroke-width="1.92" stroke-dashoffset="14.8"/>
<path d="M188.4 112.42H261.2" stroke-width="0.97"/><path class="tA" d="M188.4 112.42H261.2" stroke-width="1.37" stroke-dashoffset="13.1"/><path class="tB" d="M188.4 112.42H261.2" stroke-width="1.93" stroke-dashoffset="22.8"/>
<path d="M261.2 112.42H333.9" stroke-width="0.99"/><path class="tA" d="M261.2 112.42H333.9" stroke-width="1.40" stroke-dashoffset="6.7"/><path class="tB" d="M261.2 112.42H333.9" stroke-width="1.97" stroke-dashoffset="23.7"/>
<path d="M333.9 112.42H406.7" stroke-width="0.99"/><path class="tA" d="M333.9 112.42H406.7" stroke-width="1.40" stroke-dashoffset="10.9"/><path class="tB" d="M333.9 112.42H406.7" stroke-width="1.97" stroke-dashoffset="16.0"/>
<path d="M406.7 112.42H479.5" stroke-width="1.02"/><path class="tA" d="M406.7 112.42H479.5" stroke-width="1.46" stroke-dashoffset="24.5"/><path class="tB" d="M406.7 112.42H479.5" stroke-width="2.05" stroke-dashoffset="44.6"/>
<path d="M479.5 112.42H552.2" stroke-width="0.97"/><path class="tA" d="M479.5 112.42H552.2" stroke-width="1.37" stroke-dashoffset="34.9"/><path class="tB" d="M479.5 112.42H552.2" stroke-width="1.93" stroke-dashoffset="53.6"/>
<path d="M552.2 112.42H625.0" stroke-width="0.94"/><path class="tA" d="M552.2 112.42H625.0" stroke-width="1.33" stroke-dashoffset="39.1"/><path class="tB" d="M552.2 112.42H625.0" stroke-width="1.87" stroke-dashoffset="30.0"/>
<path d="M42.9 117.27H115.7" stroke-width="1.03"/><path class="tA" d="M42.9 117.27H115.7" stroke-width="1.47" stroke-dashoffset="20.6"/><path class="tB" d="M42.9 117.27H115.7" stroke-width="2.06" stroke-dashoffset="58.2"/>
<path d="M115.7 117.27H188.4" stroke-width="1.02"/><path class="tA" d="M115.7 117.27H188.4" stroke-width="1.46" stroke-dashoffset="17.2"/><path class="tB" d="M115.7 117.27H188.4" stroke-width="2.05" stroke-dashoffset="39.8"/>
<path d="M188.4 117.27H261.2" stroke-width="0.97"/><path class="tA" d="M188.4 117.27H261.2" stroke-width="1.37" stroke-dashoffset="5.2"/><path class="tB" d="M188.4 117.27H261.2" stroke-width="1.93" stroke-dashoffset="23.2"/>
<path d="M261.2 117.27H333.9" stroke-width="0.94"/><path class="tA" d="M261.2 117.27H333.9" stroke-width="1.34" stroke-dashoffset="0.2"/><path class="tB" d="M261.2 117.27H333.9" stroke-width="1.88" stroke-dashoffset="5.6"/>
<path d="M333.9 117.27H406.7" stroke-width="0.99"/><path class="tA" d="M333.9 117.27H406.7" stroke-width="1.41" stroke-dashoffset="30.5"/><path class="tB" d="M333.9 117.27H406.7" stroke-width="1.99" stroke-dashoffset="2.9"/>
<path d="M406.7 117.27H479.5" stroke-width="1.02"/><path class="tA" d="M406.7 117.27H479.5" stroke-width="1.46" stroke-dashoffset="4.5"/><path class="tB" d="M406.7 117.27H479.5" stroke-width="2.04" stroke-dashoffset="30.6"/>
<path d="M479.5 117.27H552.2" stroke-width="0.97"/><path class="tA" d="M479.5 117.27H552.2" stroke-width="1.37" stroke-dashoffset="17.8"/><path class="tB" d="M479.5 117.27H552.2" stroke-width="1.93" stroke-dashoffset="42.7"/>
<path d="M552.2 117.27H625.0" stroke-width="0.99"/><path class="tA" d="M552.2 117.27H625.0" stroke-width="1.40" stroke-dashoffset="15.7"/><path class="tB" d="M552.2 117.27H625.0" stroke-width="1.97" stroke-dashoffset="43.7"/>
<path d="M42.9 122.12H115.7" stroke-width="2.49"/><path class="tA" d="M42.9 122.12H115.7" stroke-width="3.14" stroke-dashoffset="14.0"/><path class="tB" d="M42.9 122.12H115.7" stroke-width="3.78" stroke-dashoffset="42.1"/>
<path d="M115.7 122.12H188.4" stroke-width="3.05"/><path class="tA" d="M115.7 122.12H188.4" stroke-width="3.77" stroke-dashoffset="39.2"/><path class="tB" d="M115.7 122.12H188.4" stroke-width="4.42" stroke-dashoffset="15.4"/>
<path d="M188.4 122.12H261.2" stroke-width="2.89"/><path class="tA" d="M188.4 122.12H261.2" stroke-width="3.58" stroke-dashoffset="12.5"/><path class="tB" d="M188.4 122.12H261.2" stroke-width="4.23" stroke-dashoffset="42.1"/>
<path d="M261.2 122.12H333.9" stroke-width="2.70"/><path class="tA" d="M261.2 122.12H333.9" stroke-width="3.37" stroke-dashoffset="5.4"/><path class="tB" d="M261.2 122.12H333.9" stroke-width="4.01" stroke-dashoffset="20.7"/>
<path d="M333.9 122.12H406.7" stroke-width="1.95"/><path class="tA" d="M333.9 122.12H406.7" stroke-width="2.54" stroke-dashoffset="14.1"/><path class="tB" d="M333.9 122.12H406.7" stroke-width="3.18" stroke-dashoffset="37.9"/>
<path d="M406.7 122.12H479.5" stroke-width="1.36"/><path class="tA" d="M406.7 122.12H479.5" stroke-width="1.88" stroke-dashoffset="11.1"/><path class="tB" d="M406.7 122.12H479.5" stroke-width="2.51" stroke-dashoffset="47.0"/>
<path d="M479.5 122.12H552.2" stroke-width="1.03"/><path class="tA" d="M479.5 122.12H552.2" stroke-width="1.48" stroke-dashoffset="13.6"/><path class="tB" d="M479.5 122.12H552.2" stroke-width="2.07" stroke-dashoffset="10.0"/>
<path d="M552.2 122.12H625.0" stroke-width="1.09"/><path class="tA" d="M552.2 122.12H625.0" stroke-width="1.56" stroke-dashoffset="8.5"/><path class="tB" d="M552.2 122.12H625.0" stroke-width="2.18" stroke-dashoffset="1.5"/>
<path d="M42.9 126.98H115.7" stroke-width="3.03"/><path class="tA" d="M42.9 126.98H115.7" stroke-width="3.74" stroke-dashoffset="6.9"/><path class="tB" d="M42.9 126.98H115.7" stroke-width="4.39" stroke-dashoffset="34.4"/>
<path d="M115.7 126.98H188.4" stroke-width="2.83"/><path class="tA" d="M115.7 126.98H188.4" stroke-width="3.52" stroke-dashoffset="34.0"/><path class="tB" d="M115.7 126.98H188.4" stroke-width="4.17" stroke-dashoffset="50.8"/>
<path d="M188.4 126.98H261.2" stroke-width="2.89"/><path class="tA" d="M188.4 126.98H261.2" stroke-width="3.58" stroke-dashoffset="6.8"/><path class="tB" d="M188.4 126.98H261.2" stroke-width="4.23" stroke-dashoffset="45.7"/>
<path d="M261.2 126.98H333.9" stroke-width="2.11"/><path class="tA" d="M261.2 126.98H333.9" stroke-width="2.72" stroke-dashoffset="37.1"/><path class="tB" d="M261.2 126.98H333.9" stroke-width="3.35" stroke-dashoffset="18.5"/>
<path d="M333.9 126.98H406.7" stroke-width="1.42"/><path class="tA" d="M333.9 126.98H406.7" stroke-width="1.94" stroke-dashoffset="8.7"/><path class="tB" d="M333.9 126.98H406.7" stroke-width="2.57" stroke-dashoffset="23.8"/>
<path d="M406.7 126.98H479.5" stroke-width="1.23"/><path class="tA" d="M406.7 126.98H479.5" stroke-width="1.73" stroke-dashoffset="34.2"/><path class="tB" d="M406.7 126.98H479.5" stroke-width="2.36" stroke-dashoffset="44.8"/>
<path d="M479.5 126.98H552.2" stroke-width="1.07"/><path class="tA" d="M479.5 126.98H552.2" stroke-width="1.53" stroke-dashoffset="9.8"/><path class="tB" d="M479.5 126.98H552.2" stroke-width="2.14" stroke-dashoffset="19.3"/>
<path d="M552.2 126.98H625.0" stroke-width="0.97"/><path class="tA" d="M552.2 126.98H625.0" stroke-width="1.38" stroke-dashoffset="17.3"/><path class="tB" d="M552.2 126.98H625.0" stroke-width="1.94" stroke-dashoffset="52.5"/>
<path d="M42.9 131.84H115.7" stroke-width="0.97"/><path class="tA" d="M42.9 131.84H115.7" stroke-width="1.37" stroke-dashoffset="3.4"/><path class="tB" d="M42.9 131.84H115.7" stroke-width="1.93" stroke-dashoffset="57.9"/>
<path d="M115.7 131.84H188.4" stroke-width="0.95"/><path class="tA" d="M115.7 131.84H188.4" stroke-width="1.35" stroke-dashoffset="18.4"/><path class="tB" d="M115.7 131.84H188.4" stroke-width="1.90" stroke-dashoffset="41.6"/>
<path d="M188.4 131.84H261.2" stroke-width="0.93"/><path class="tA" d="M188.4 131.84H261.2" stroke-width="1.32" stroke-dashoffset="7.5"/><path class="tB" d="M188.4 131.84H261.2" stroke-width="1.86" stroke-dashoffset="37.0"/>
<path d="M261.2 131.84H333.9" stroke-width="0.94"/><path class="tA" d="M261.2 131.84H333.9" stroke-width="1.33" stroke-dashoffset="35.2"/><path class="tB" d="M261.2 131.84H333.9" stroke-width="1.88" stroke-dashoffset="54.7"/>
<path d="M333.9 131.84H406.7" stroke-width="0.75"/><path class="tA" d="M333.9 131.84H406.7" stroke-width="1.03" stroke-dashoffset="28.6"/><path class="tB" d="M333.9 131.84H406.7" stroke-width="1.47" stroke-dashoffset="29.2"/>
<path d="M406.7 131.84H479.5" stroke-width="0.84"/><path class="tA" d="M406.7 131.84H479.5" stroke-width="1.18" stroke-dashoffset="6.7"/><path class="tB" d="M406.7 131.84H479.5" stroke-width="1.67" stroke-dashoffset="32.9"/>
<path d="M479.5 131.84H552.2" stroke-width="0.72"/><path class="tA" d="M479.5 131.84H552.2" stroke-width="0.98" stroke-dashoffset="32.2"/><path class="tB" d="M479.5 131.84H552.2" stroke-width="1.42" stroke-dashoffset="43.4"/>
<path d="M552.2 131.84H625.0" stroke-width="0.71"/><path class="tA" d="M552.2 131.84H625.0" stroke-width="0.96" stroke-dashoffset="12.4"/><path class="tB" d="M552.2 131.84H625.0" stroke-width="1.39" stroke-dashoffset="8.5"/>
<path d="M42.9 136.69H115.7" stroke-width="0.80"/><path class="tA" d="M42.9 136.69H115.7" stroke-width="1.11" stroke-dashoffset="25.2"/><path class="tB" d="M42.9 136.69H115.7" stroke-width="1.58" stroke-dashoffset="3.8"/>
<path d="M115.7 136.69H188.4" stroke-width="0.85"/><path class="tA" d="M115.7 136.69H188.4" stroke-width="1.19" stroke-dashoffset="38.6"/><path class="tB" d="M115.7 136.69H188.4" stroke-width="1.69" stroke-dashoffset="26.4"/>
<path d="M188.4 136.69H261.2" stroke-width="0.79"/><path class="tA" d="M188.4 136.69H261.2" stroke-width="1.09" stroke-dashoffset="14.5"/><path class="tB" d="M188.4 136.69H261.2" stroke-width="1.56" stroke-dashoffset="36.4"/>
<path d="M261.2 136.69H333.9" stroke-width="0.76"/><path class="tA" d="M261.2 136.69H333.9" stroke-width="1.05" stroke-dashoffset="17.6"/><path class="tB" d="M261.2 136.69H333.9" stroke-width="1.51" stroke-dashoffset="45.0"/>
<path d="M333.9 136.69H406.7" stroke-width="0.73"/><path class="tA" d="M333.9 136.69H406.7" stroke-width="1.00" stroke-dashoffset="11.9"/><path class="tB" d="M333.9 136.69H406.7" stroke-width="1.44" stroke-dashoffset="45.8"/>
<path d="M406.7 136.69H479.5" stroke-width="0.74"/><path class="tA" d="M406.7 136.69H479.5" stroke-width="1.01" stroke-dashoffset="2.8"/><path class="tB" d="M406.7 136.69H479.5" stroke-width="1.45" stroke-dashoffset="54.7"/>
<path d="M479.5 136.69H552.2" stroke-width="0.73"/><path class="tA" d="M479.5 136.69H552.2" stroke-width="0.99" stroke-dashoffset="16.4"/><path class="tB" d="M479.5 136.69H552.2" stroke-width="1.43" stroke-dashoffset="18.8"/>
<path d="M552.2 136.69H625.0" stroke-width="0.74"/><path class="tA" d="M552.2 136.69H625.0" stroke-width="1.02" stroke-dashoffset="14.1"/><path class="tB" d="M552.2 136.69H625.0" stroke-width="1.46" stroke-dashoffset="32.2"/>
<path d="M42.9 141.55H115.7" stroke-width="0.72"/><path class="tA" d="M42.9 141.55H115.7" stroke-width="0.98" stroke-dashoffset="21.3"/><path class="tB" d="M42.9 141.55H115.7" stroke-width="1.42" stroke-dashoffset="3.1"/>
<path d="M115.7 141.55H188.4" stroke-width="0.72"/><path class="tA" d="M115.7 141.55H188.4" stroke-width="0.97" stroke-dashoffset="8.1"/><path class="tB" d="M115.7 141.55H188.4" stroke-width="1.40" stroke-dashoffset="14.4"/>
<path d="M188.4 141.55H261.2" stroke-width="0.76"/><path class="tA" d="M188.4 141.55H261.2" stroke-width="1.04" stroke-dashoffset="11.7"/><path class="tB" d="M188.4 141.55H261.2" stroke-width="1.49" stroke-dashoffset="50.2"/>
<path d="M261.2 141.55H333.9" stroke-width="0.80"/><path class="tA" d="M261.2 141.55H333.9" stroke-width="1.11" stroke-dashoffset="18.9"/><path class="tB" d="M261.2 141.55H333.9" stroke-width="1.59" stroke-dashoffset="46.3"/>
<path d="M333.9 141.55H406.7" stroke-width="0.81"/><path class="tA" d="M333.9 141.55H406.7" stroke-width="1.12" stroke-dashoffset="12.6"/><path class="tB" d="M333.9 141.55H406.7" stroke-width="1.60" stroke-dashoffset="37.0"/>
<path d="M406.7 141.55H479.5" stroke-width="0.82"/><path class="tA" d="M406.7 141.55H479.5" stroke-width="1.14" stroke-dashoffset="21.4"/><path class="tB" d="M406.7 141.55H479.5" stroke-width="1.62" stroke-dashoffset="45.2"/>
<path d="M479.5 141.55H552.2" stroke-width="0.80"/><path class="tA" d="M479.5 141.55H552.2" stroke-width="1.11" stroke-dashoffset="37.1"/><path class="tB" d="M479.5 141.55H552.2" stroke-width="1.58" stroke-dashoffset="15.8"/>
<path d="M552.2 141.55H625.0" stroke-width="0.81"/><path class="tA" d="M552.2 141.55H625.0" stroke-width="1.12" stroke-dashoffset="39.1"/><path class="tB" d="M552.2 141.55H625.0" stroke-width="1.60" stroke-dashoffset="31.7"/>
<path d="M42.9 146.40H115.7" stroke-width="0.84"/><path class="tA" d="M42.9 146.40H115.7" stroke-width="1.17" stroke-dashoffset="3.8"/><path class="tB" d="M42.9 146.40H115.7" stroke-width="1.67" stroke-dashoffset="43.4"/>
<path d="M115.7 146.40H188.4" stroke-width="0.74"/><path class="tA" d="M115.7 146.40H188.4" stroke-width="1.02" stroke-dashoffset="30.0"/><path class="tB" d="M115.7 146.40H188.4" stroke-width="1.46" stroke-dashoffset="25.4"/>
<path d="M188.4 146.40H261.2" stroke-width="0.79"/><path class="tA" d="M188.4 146.40H261.2" stroke-width="1.08" stroke-dashoffset="9.9"/><path class="tB" d="M188.4 146.40H261.2" stroke-width="1.55" stroke-dashoffset="15.4"/>
<path d="M261.2 146.40H333.9" stroke-width="0.84"/><path class="tA" d="M261.2 146.40H333.9" stroke-width="1.16" stroke-dashoffset="25.7"/><path class="tB" d="M261.2 146.40H333.9" stroke-width="1.66" stroke-dashoffset="37.7"/>
<path d="M333.9 146.40H406.7" stroke-width="0.72"/><path class="tA" d="M333.9 146.40H406.7" stroke-width="0.98" stroke-dashoffset="11.7"/><path class="tB" d="M333.9 146.40H406.7" stroke-width="1.42" stroke-dashoffset="58.1"/>
<path d="M406.7 146.40H479.5" stroke-width="0.73"/><path class="tA" d="M406.7 146.40H479.5" stroke-width="1.00" stroke-dashoffset="21.5"/><path class="tB" d="M406.7 146.40H479.5" stroke-width="1.44" stroke-dashoffset="41.8"/>
<path d="M479.5 146.40H552.2" stroke-width="0.78"/><path class="tA" d="M479.5 146.40H552.2" stroke-width="1.08" stroke-dashoffset="22.2"/><path class="tB" d="M479.5 146.40H552.2" stroke-width="1.54" stroke-dashoffset="58.2"/>
<path d="M552.2 146.40H625.0" stroke-width="0.82"/><path class="tA" d="M552.2 146.40H625.0" stroke-width="1.14" stroke-dashoffset="9.5"/><path class="tB" d="M552.2 146.40H625.0" stroke-width="1.63" stroke-dashoffset="25.8"/>
<path d="M42.9 151.25H115.7" stroke-width="0.88"/><path class="tA" d="M42.9 151.25H115.7" stroke-width="1.23" stroke-dashoffset="27.4"/><path class="tB" d="M42.9 151.25H115.7" stroke-width="1.74" stroke-dashoffset="40.5"/>
<path d="M115.7 151.25H188.4" stroke-width="0.85"/><path class="tA" d="M115.7 151.25H188.4" stroke-width="1.19" stroke-dashoffset="27.7"/><path class="tB" d="M115.7 151.25H188.4" stroke-width="1.69" stroke-dashoffset="25.9"/>
<path d="M188.4 151.25H261.2" stroke-width="0.82"/><path class="tA" d="M188.4 151.25H261.2" stroke-width="1.13" stroke-dashoffset="11.7"/><path class="tB" d="M188.4 151.25H261.2" stroke-width="1.61" stroke-dashoffset="22.6"/>
<path d="M261.2 151.25H333.9" stroke-width="0.84"/><path class="tA" d="M261.2 151.25H333.9" stroke-width="1.18" stroke-dashoffset="26.8"/><path class="tB" d="M261.2 151.25H333.9" stroke-width="1.67" stroke-dashoffset="59.5"/>
<path d="M333.9 151.25H406.7" stroke-width="0.96"/><path class="tA" d="M333.9 151.25H406.7" stroke-width="1.36" stroke-dashoffset="25.2"/><path class="tB" d="M333.9 151.25H406.7" stroke-width="1.91" stroke-dashoffset="51.4"/>
<path d="M406.7 151.25H479.5" stroke-width="0.89"/><path class="tA" d="M406.7 151.25H479.5" stroke-width="1.25" stroke-dashoffset="23.5"/><path class="tB" d="M406.7 151.25H479.5" stroke-width="1.77" stroke-dashoffset="53.6"/>
<path d="M479.5 151.25H552.2" stroke-width="0.82"/><path class="tA" d="M479.5 151.25H552.2" stroke-width="1.14" stroke-dashoffset="14.5"/><path class="tB" d="M479.5 151.25H552.2" stroke-width="1.63" stroke-dashoffset="22.4"/>
<path d="M552.2 151.25H625.0" stroke-width="0.87"/><path class="tA" d="M552.2 151.25H625.0" stroke-width="1.21" stroke-dashoffset="17.1"/><path class="tB" d="M552.2 151.25H625.0" stroke-width="1.72" stroke-dashoffset="3.4"/>
<path d="M42.9 156.11H115.7" stroke-width="1.81"/><path class="tA" d="M42.9 156.11H115.7" stroke-width="2.38" stroke-dashoffset="38.3"/><path class="tB" d="M42.9 156.11H115.7" stroke-width="3.02" stroke-dashoffset="14.1"/>
<path d="M115.7 156.11H188.4" stroke-width="1.42"/><path class="tA" d="M115.7 156.11H188.4" stroke-width="1.95" stroke-dashoffset="13.4"/><path class="tB" d="M115.7 156.11H188.4" stroke-width="2.58" stroke-dashoffset="47.8"/>
<path d="M188.4 156.11H261.2" stroke-width="1.46"/><path class="tA" d="M188.4 156.11H261.2" stroke-width="1.99" stroke-dashoffset="30.8"/><path class="tB" d="M188.4 156.11H261.2" stroke-width="2.62" stroke-dashoffset="10.4"/>
<path d="M261.2 156.11H333.9" stroke-width="1.62"/><path class="tA" d="M261.2 156.11H333.9" stroke-width="2.17" stroke-dashoffset="28.8"/><path class="tB" d="M261.2 156.11H333.9" stroke-width="2.81" stroke-dashoffset="40.4"/>
<path d="M333.9 156.11H406.7" stroke-width="1.08"/><path class="tA" d="M333.9 156.11H406.7" stroke-width="1.55" stroke-dashoffset="38.3"/><path class="tB" d="M333.9 156.11H406.7" stroke-width="2.16" stroke-dashoffset="50.9"/>
<path d="M406.7 156.11H479.5" stroke-width="1.11"/><path class="tA" d="M406.7 156.11H479.5" stroke-width="1.60" stroke-dashoffset="34.4"/><path class="tB" d="M406.7 156.11H479.5" stroke-width="2.22" stroke-dashoffset="36.1"/>
<path d="M479.5 156.11H552.2" stroke-width="1.06"/><path class="tA" d="M479.5 156.11H552.2" stroke-width="1.52" stroke-dashoffset="15.9"/><path class="tB" d="M479.5 156.11H552.2" stroke-width="2.12" stroke-dashoffset="49.2"/>
<path d="M552.2 156.11H625.0" stroke-width="1.10"/><path class="tA" d="M552.2 156.11H625.0" stroke-width="1.59" stroke-dashoffset="1.7"/><path class="tB" d="M552.2 156.11H625.0" stroke-width="2.22" stroke-dashoffset="9.9"/>
<path d="M42.9 160.97H115.7" stroke-width="1.42"/><path class="tA" d="M42.9 160.97H115.7" stroke-width="1.95" stroke-dashoffset="23.4"/><path class="tB" d="M42.9 160.97H115.7" stroke-width="2.58" stroke-dashoffset="38.6"/>
<path d="M115.7 160.97H188.4" stroke-width="1.63"/><path class="tA" d="M115.7 160.97H188.4" stroke-width="2.18" stroke-dashoffset="16.2"/><path class="tB" d="M115.7 160.97H188.4" stroke-width="2.81" stroke-dashoffset="57.8"/>
<path d="M188.4 160.97H261.2" stroke-width="1.55"/><path class="tA" d="M188.4 160.97H261.2" stroke-width="2.09" stroke-dashoffset="26.9"/><path class="tB" d="M188.4 160.97H261.2" stroke-width="2.72" stroke-dashoffset="12.3"/>
<path d="M261.2 160.97H333.9" stroke-width="1.56"/><path class="tA" d="M261.2 160.97H333.9" stroke-width="2.10" stroke-dashoffset="7.2"/><path class="tB" d="M261.2 160.97H333.9" stroke-width="2.74" stroke-dashoffset="6.8"/>
<path d="M333.9 160.97H406.7" stroke-width="1.15"/><path class="tA" d="M333.9 160.97H406.7" stroke-width="1.64" stroke-dashoffset="4.6"/><path class="tB" d="M333.9 160.97H406.7" stroke-width="2.27" stroke-dashoffset="22.9"/>
<path d="M406.7 160.97H479.5" stroke-width="1.23"/><path class="tA" d="M406.7 160.97H479.5" stroke-width="1.73" stroke-dashoffset="22.0"/><path class="tB" d="M406.7 160.97H479.5" stroke-width="2.36" stroke-dashoffset="47.7"/>
<path d="M479.5 160.97H552.2" stroke-width="1.11"/><path class="tA" d="M479.5 160.97H552.2" stroke-width="1.59" stroke-dashoffset="3.4"/><path class="tB" d="M479.5 160.97H552.2" stroke-width="2.22" stroke-dashoffset="43.6"/>
<path d="M552.2 160.97H625.0" stroke-width="1.09"/><path class="tA" d="M552.2 160.97H625.0" stroke-width="1.58" stroke-dashoffset="30.1"/><path class="tB" d="M552.2 160.97H625.0" stroke-width="2.20" stroke-dashoffset="58.5"/>
<path d="M42.9 165.82H115.7" stroke-width="1.13"/><path class="tA" d="M42.9 165.82H115.7" stroke-width="1.62" stroke-dashoffset="10.0"/><path class="tB" d="M42.9 165.82H115.7" stroke-width="2.25" stroke-dashoffset="21.5"/>
<path d="M115.7 165.82H188.4" stroke-width="1.11"/><path class="tA" d="M115.7 165.82H188.4" stroke-width="1.60" stroke-dashoffset="12.8"/><path class="tB" d="M115.7 165.82H188.4" stroke-width="2.23" stroke-dashoffset="6.1"/>
<path d="M188.4 165.82H261.2" stroke-width="1.09"/><path class="tA" d="M188.4 165.82H261.2" stroke-width="1.58" stroke-dashoffset="26.2"/><path class="tB" d="M188.4 165.82H261.2" stroke-width="2.20" stroke-dashoffset="49.0"/>
<path d="M261.2 165.82H333.9" stroke-width="1.19"/><path class="tA" d="M261.2 165.82H333.9" stroke-width="1.69" stroke-dashoffset="35.4"/><path class="tB" d="M261.2 165.82H333.9" stroke-width="2.32" stroke-dashoffset="48.1"/>
<path d="M333.9 165.82H406.7" stroke-width="1.02"/><path class="tA" d="M333.9 165.82H406.7" stroke-width="1.46" stroke-dashoffset="25.8"/><path class="tB" d="M333.9 165.82H406.7" stroke-width="2.04" stroke-dashoffset="3.2"/>
<path d="M406.7 165.82H479.5" stroke-width="1.02"/><path class="tA" d="M406.7 165.82H479.5" stroke-width="1.46" stroke-dashoffset="28.3"/><path class="tB" d="M406.7 165.82H479.5" stroke-width="2.05" stroke-dashoffset="15.9"/>
<path d="M479.5 165.82H552.2" stroke-width="0.92"/><path class="tA" d="M479.5 165.82H552.2" stroke-width="1.29" stroke-dashoffset="10.9"/><path class="tB" d="M479.5 165.82H552.2" stroke-width="1.83" stroke-dashoffset="47.7"/>
<path d="M552.2 165.82H625.0" stroke-width="0.88"/><path class="tA" d="M552.2 165.82H625.0" stroke-width="1.23" stroke-dashoffset="31.2"/><path class="tB" d="M552.2 165.82H625.0" stroke-width="1.75" stroke-dashoffset="55.4"/>
<path d="M42.9 170.68H115.7" stroke-width="0.93"/><path class="tA" d="M42.9 170.68H115.7" stroke-width="1.32" stroke-dashoffset="15.2"/><path class="tB" d="M42.9 170.68H115.7" stroke-width="1.86" stroke-dashoffset="20.5"/>
<path d="M115.7 170.68H188.4" stroke-width="0.96"/><path class="tA" d="M115.7 170.68H188.4" stroke-width="1.36" stroke-dashoffset="36.2"/><path class="tB" d="M115.7 170.68H188.4" stroke-width="1.91" stroke-dashoffset="11.4"/>
<path d="M188.4 170.68H261.2" stroke-width="0.87"/><path class="tA" d="M188.4 170.68H261.2" stroke-width="1.22" stroke-dashoffset="31.5"/><path class="tB" d="M188.4 170.68H261.2" stroke-width="1.73" stroke-dashoffset="45.4"/>
<path d="M261.2 170.68H333.9" stroke-width="0.86"/><path class="tA" d="M261.2 170.68H333.9" stroke-width="1.20" stroke-dashoffset="17.9"/><path class="tB" d="M261.2 170.68H333.9" stroke-width="1.70" stroke-dashoffset="57.7"/>
<path d="M333.9 170.68H406.7" stroke-width="0.83"/><path class="tA" d="M333.9 170.68H406.7" stroke-width="1.15" stroke-dashoffset="11.0"/><path class="tB" d="M333.9 170.68H406.7" stroke-width="1.64" stroke-dashoffset="39.9"/>
<path d="M406.7 170.68H479.5" stroke-width="0.93"/><path class="tA" d="M406.7 170.68H479.5" stroke-width="1.32" stroke-dashoffset="37.9"/><path class="tB" d="M406.7 170.68H479.5" stroke-width="1.86" stroke-dashoffset="28.2"/>
<path d="M479.5 170.68H552.2" stroke-width="0.86"/><path class="tA" d="M479.5 170.68H552.2" stroke-width="1.20" stroke-dashoffset="38.9"/><path class="tB" d="M479.5 170.68H552.2" stroke-width="1.70" stroke-dashoffset="19.8"/>
<path d="M552.2 170.68H625.0" stroke-width="0.74"/><path class="tA" d="M552.2 170.68H625.0" stroke-width="1.01" stroke-dashoffset="10.4"/><path class="tB" d="M552.2 170.68H625.0" stroke-width="1.45" stroke-dashoffset="46.9"/>
<path d="M42.9 175.53H115.7" stroke-width="0.72"/><path class="tA" d="M42.9 175.53H115.7" stroke-width="0.99" stroke-dashoffset="21.9"/><path class="tB" d="M42.9 175.53H115.7" stroke-width="1.42" stroke-dashoffset="55.8"/>
<path d="M115.7 175.53H188.4" stroke-width="0.73"/><path class="tA" d="M115.7 175.53H188.4" stroke-width="1.00" stroke-dashoffset="25.2"/><path class="tB" d="M115.7 175.53H188.4" stroke-width="1.44" stroke-dashoffset="31.8"/>
<path d="M188.4 175.53H261.2" stroke-width="0.85"/><path class="tA" d="M188.4 175.53H261.2" stroke-width="1.19" stroke-dashoffset="20.5"/><path class="tB" d="M188.4 175.53H261.2" stroke-width="1.69" stroke-dashoffset="29.5"/>
<path d="M261.2 175.53H333.9" stroke-width="0.84"/><path class="tA" d="M261.2 175.53H333.9" stroke-width="1.17" stroke-dashoffset="30.1"/><path class="tB" d="M261.2 175.53H333.9" stroke-width="1.67" stroke-dashoffset="8.7"/>
<path d="M333.9 175.53H406.7" stroke-width="0.83"/><path class="tA" d="M333.9 175.53H406.7" stroke-width="1.15" stroke-dashoffset="16.0"/><path class="tB" d="M333.9 175.53H406.7" stroke-width="1.64" stroke-dashoffset="58.1"/>
<path d="M406.7 175.53H479.5" stroke-width="0.85"/><path class="tA" d="M406.7 175.53H479.5" stroke-width="1.19" stroke-dashoffset="19.7"/><path class="tB" d="M406.7 175.53H479.5" stroke-width="1.69" stroke-dashoffset="25.0"/>
<path d="M479.5 175.53H552.2" stroke-width="0.74"/><path class="tA" d="M479.5 175.53H552.2" stroke-width="1.01" stroke-dashoffset="11.0"/><path class="tB" d="M479.5 175.53H552.2" stroke-width="1.45" stroke-dashoffset="12.4"/>
<path d="M552.2 175.53H625.0" stroke-width="0.73"/><path class="tA" d="M552.2 175.53H625.0" stroke-width="0.99" stroke-dashoffset="29.2"/><path class="tB" d="M552.2 175.53H625.0" stroke-width="1.43" stroke-dashoffset="3.1"/>
<path d="M42.9 180.38H115.7" stroke-width="0.84"/><path class="tA" d="M42.9 180.38H115.7" stroke-width="1.17" stroke-dashoffset="23.9"/><path class="tB" d="M42.9 180.38H115.7" stroke-width="1.66" stroke-dashoffset="44.1"/>
<path d="M115.7 180.38H188.4" stroke-width="0.83"/><path class="tA" d="M115.7 180.38H188.4" stroke-width="1.16" stroke-dashoffset="37.1"/><path class="tB" d="M115.7 180.38H188.4" stroke-width="1.65" stroke-dashoffset="16.9"/>
<path d="M188.4 180.38H261.2" stroke-width="0.76"/><path class="tA" d="M188.4 180.38H261.2" stroke-width="1.05" stroke-dashoffset="23.3"/><path class="tB" d="M188.4 180.38H261.2" stroke-width="1.50" stroke-dashoffset="16.2"/>
<path d="M261.2 180.38H333.9" stroke-width="0.90"/><path class="tA" d="M261.2 180.38H333.9" stroke-width="1.26" stroke-dashoffset="36.9"/><path class="tB" d="M261.2 180.38H333.9" stroke-width="1.79" stroke-dashoffset="41.3"/>
<path d="M333.9 180.38H406.7" stroke-width="0.88"/><path class="tA" d="M333.9 180.38H406.7" stroke-width="1.23" stroke-dashoffset="9.8"/><path class="tB" d="M333.9 180.38H406.7" stroke-width="1.74" stroke-dashoffset="29.1"/>
<path d="M406.7 180.38H479.5" stroke-width="0.81"/><path class="tA" d="M406.7 180.38H479.5" stroke-width="1.12" stroke-dashoffset="13.8"/><path class="tB" d="M406.7 180.38H479.5" stroke-width="1.59" stroke-dashoffset="22.4"/>
<path d="M479.5 180.38H552.2" stroke-width="0.82"/><path class="tA" d="M479.5 180.38H552.2" stroke-width="1.14" stroke-dashoffset="26.2"/><path class="tB" d="M479.5 180.38H552.2" stroke-width="1.62" stroke-dashoffset="1.5"/>
<path d="M552.2 180.38H625.0" stroke-width="0.83"/><path class="tA" d="M552.2 180.38H625.0" stroke-width="1.15" stroke-dashoffset="5.1"/><path class="tB" d="M552.2 180.38H625.0" stroke-width="1.64" stroke-dashoffset="58.1"/>
<path d="M42.9 185.24H115.7" stroke-width="0.94"/><path class="tA" d="M42.9 185.24H115.7" stroke-width="1.33" stroke-dashoffset="23.6"/><path class="tB" d="M42.9 185.24H115.7" stroke-width="1.88" stroke-dashoffset="18.9"/>
<path d="M115.7 185.24H188.4" stroke-width="0.97"/><path class="tA" d="M115.7 185.24H188.4" stroke-width="1.37" stroke-dashoffset="28.4"/><path class="tB" d="M115.7 185.24H188.4" stroke-width="1.93" stroke-dashoffset="54.6"/>
<path d="M188.4 185.24H261.2" stroke-width="0.95"/><path class="tA" d="M188.4 185.24H261.2" stroke-width="1.34" stroke-dashoffset="10.8"/><path class="tB" d="M188.4 185.24H261.2" stroke-width="1.89" stroke-dashoffset="37.7"/>
<path d="M261.2 185.24H333.9" stroke-width="0.84"/><path class="tA" d="M261.2 185.24H333.9" stroke-width="1.17" stroke-dashoffset="29.8"/><path class="tB" d="M261.2 185.24H333.9" stroke-width="1.67" stroke-dashoffset="18.4"/>
<path d="M333.9 185.24H406.7" stroke-width="0.89"/><path class="tA" d="M333.9 185.24H406.7" stroke-width="1.25" stroke-dashoffset="5.3"/><path class="tB" d="M333.9 185.24H406.7" stroke-width="1.77" stroke-dashoffset="35.9"/>
<path d="M406.7 185.24H479.5" stroke-width="0.77"/><path class="tA" d="M406.7 185.24H479.5" stroke-width="1.06" stroke-dashoffset="1.5"/><path class="tB" d="M406.7 185.24H479.5" stroke-width="1.53" stroke-dashoffset="15.8"/>
<path d="M479.5 185.24H552.2" stroke-width="0.88"/><path class="tA" d="M479.5 185.24H552.2" stroke-width="1.23" stroke-dashoffset="15.5"/><path class="tB" d="M479.5 185.24H552.2" stroke-width="1.74" stroke-dashoffset="31.4"/>
<path d="M552.2 185.24H625.0" stroke-width="0.87"/><path class="tA" d="M552.2 185.24H625.0" stroke-width="1.22" stroke-dashoffset="39.1"/><path class="tB" d="M552.2 185.24H625.0" stroke-width="1.73" stroke-dashoffset="15.5"/>
<path d="M42.9 190.10H115.7" stroke-width="1.49"/><path class="tA" d="M42.9 190.10H115.7" stroke-width="2.02" stroke-dashoffset="31.3"/><path class="tB" d="M42.9 190.10H115.7" stroke-width="2.65" stroke-dashoffset="47.6"/>
<path d="M115.7 190.10H188.4" stroke-width="1.10"/><path class="tA" d="M115.7 190.10H188.4" stroke-width="1.59" stroke-dashoffset="19.0"/><path class="tB" d="M115.7 190.10H188.4" stroke-width="2.22" stroke-dashoffset="47.0"/>
<path d="M188.4 190.10H261.2" stroke-width="1.04"/><path class="tA" d="M188.4 190.10H261.2" stroke-width="1.48" stroke-dashoffset="19.4"/><path class="tB" d="M188.4 190.10H261.2" stroke-width="2.07" stroke-dashoffset="38.0"/>
<path d="M261.2 190.10H333.9" stroke-width="1.07"/><path class="tA" d="M261.2 190.10H333.9" stroke-width="1.54" stroke-dashoffset="9.8"/><path class="tB" d="M261.2 190.10H333.9" stroke-width="2.16" stroke-dashoffset="39.9"/>
<path d="M333.9 190.10H406.7" stroke-width="0.92"/><path class="tA" d="M333.9 190.10H406.7" stroke-width="1.30" stroke-dashoffset="6.3"/><path class="tB" d="M333.9 190.10H406.7" stroke-width="1.84" stroke-dashoffset="28.6"/>
<path d="M406.7 190.10H479.5" stroke-width="0.96"/><path class="tA" d="M406.7 190.10H479.5" stroke-width="1.36" stroke-dashoffset="25.6"/><path class="tB" d="M406.7 190.10H479.5" stroke-width="1.91" stroke-dashoffset="56.9"/>
<path d="M479.5 190.10H552.2" stroke-width="0.88"/><path class="tA" d="M479.5 190.10H552.2" stroke-width="1.24" stroke-dashoffset="21.2"/><path class="tB" d="M479.5 190.10H552.2" stroke-width="1.75" stroke-dashoffset="28.8"/>
<path d="M552.2 190.10H625.0" stroke-width="0.90"/><path class="tA" d="M552.2 190.10H625.0" stroke-width="1.26" stroke-dashoffset="36.7"/><path class="tB" d="M552.2 190.10H625.0" stroke-width="1.78" stroke-dashoffset="8.6"/>
<path d="M42.9 194.95H115.7" stroke-width="1.01"/><path class="tA" d="M42.9 194.95H115.7" stroke-width="1.44" stroke-dashoffset="1.6"/><path class="tB" d="M42.9 194.95H115.7" stroke-width="2.01" stroke-dashoffset="38.6"/>
<path d="M115.7 194.95H188.4" stroke-width="1.07"/><path class="tA" d="M115.7 194.95H188.4" stroke-width="1.53" stroke-dashoffset="8.9"/><path class="tB" d="M115.7 194.95H188.4" stroke-width="2.14" stroke-dashoffset="55.3"/>
<path d="M188.4 194.95H261.2" stroke-width="1.06"/><path class="tA" d="M188.4 194.95H261.2" stroke-width="1.53" stroke-dashoffset="8.1"/><path class="tB" d="M188.4 194.95H261.2" stroke-width="2.14" stroke-dashoffset="56.5"/>
<path d="M261.2 194.95H333.9" stroke-width="1.07"/><path class="tA" d="M261.2 194.95H333.9" stroke-width="1.54" stroke-dashoffset="12.6"/><path class="tB" d="M261.2 194.95H333.9" stroke-width="2.16" stroke-dashoffset="51.9"/>
<path d="M333.9 194.95H406.7" stroke-width="0.91"/><path class="tA" d="M333.9 194.95H406.7" stroke-width="1.28" stroke-dashoffset="13.9"/><path class="tB" d="M333.9 194.95H406.7" stroke-width="1.81" stroke-dashoffset="25.1"/>
<path d="M406.7 194.95H479.5" stroke-width="1.00"/><path class="tA" d="M406.7 194.95H479.5" stroke-width="1.43" stroke-dashoffset="11.9"/><path class="tB" d="M406.7 194.95H479.5" stroke-width="2.01" stroke-dashoffset="23.1"/>
<path d="M479.5 194.95H552.2" stroke-width="0.89"/><path class="tA" d="M479.5 194.95H552.2" stroke-width="1.25" stroke-dashoffset="32.8"/><path class="tB" d="M479.5 194.95H552.2" stroke-width="1.77" stroke-dashoffset="11.0"/>
<path d="M552.2 194.95H625.0" stroke-width="0.99"/><path class="tA" d="M552.2 194.95H625.0" stroke-width="1.41" stroke-dashoffset="13.6"/><path class="tB" d="M552.2 194.95H625.0" stroke-width="1.97" stroke-dashoffset="33.0"/>
<path d="M42.9 199.81H115.7" stroke-width="1.63"/><path class="tA" d="M42.9 199.81H115.7" stroke-width="2.18" stroke-dashoffset="10.7"/><path class="tB" d="M42.9 199.81H115.7" stroke-width="2.81" stroke-dashoffset="31.7"/>
<path d="M115.7 199.81H188.4" stroke-width="1.31"/><path class="tA" d="M115.7 199.81H188.4" stroke-width="1.82" stroke-dashoffset="23.1"/><path class="tB" d="M115.7 199.81H188.4" stroke-width="2.45" stroke-dashoffset="24.4"/>
<path d="M188.4 199.81H261.2" stroke-width="1.10"/><path class="tA" d="M188.4 199.81H261.2" stroke-width="1.58" stroke-dashoffset="12.6"/><path class="tB" d="M188.4 199.81H261.2" stroke-width="2.20" stroke-dashoffset="9.3"/>
<path d="M261.2 199.81H333.9" stroke-width="0.94"/><path class="tA" d="M261.2 199.81H333.9" stroke-width="1.34" stroke-dashoffset="24.2"/><path class="tB" d="M261.2 199.81H333.9" stroke-width="1.88" stroke-dashoffset="34.5"/>
<path d="M333.9 199.81H406.7" stroke-width="1.01"/><path class="tA" d="M333.9 199.81H406.7" stroke-width="1.45" stroke-dashoffset="6.3"/><path class="tB" d="M333.9 199.81H406.7" stroke-width="2.03" stroke-dashoffset="40.4"/>
<path d="M406.7 199.81H479.5" stroke-width="0.93"/><path class="tA" d="M406.7 199.81H479.5" stroke-width="1.31" stroke-dashoffset="21.0"/><path class="tB" d="M406.7 199.81H479.5" stroke-width="1.85" stroke-dashoffset="49.9"/>
<path d="M479.5 199.81H552.2" stroke-width="0.94"/><path class="tA" d="M479.5 199.81H552.2" stroke-width="1.32" stroke-dashoffset="17.4"/><path class="tB" d="M479.5 199.81H552.2" stroke-width="1.87" stroke-dashoffset="38.7"/>
<path d="M552.2 199.81H625.0" stroke-width="0.88"/><path class="tA" d="M552.2 199.81H625.0" stroke-width="1.23" stroke-dashoffset="34.9"/><path class="tB" d="M552.2 199.81H625.0" stroke-width="1.75" stroke-dashoffset="31.0"/>
<path d="M42.9 204.66H115.7" stroke-width="0.86"/><path class="tA" d="M42.9 204.66H115.7" stroke-width="1.21" stroke-dashoffset="19.3"/><path class="tB" d="M42.9 204.66H115.7" stroke-width="1.71" stroke-dashoffset="56.7"/>
<path d="M115.7 204.66H188.4" stroke-width="1.01"/><path class="tA" d="M115.7 204.66H188.4" stroke-width="1.44" stroke-dashoffset="17.1"/><path class="tB" d="M115.7 204.66H188.4" stroke-width="2.02" stroke-dashoffset="15.9"/>
<path d="M188.4 204.66H261.2" stroke-width="1.00"/><path class="tA" d="M188.4 204.66H261.2" stroke-width="1.43" stroke-dashoffset="11.4"/><path class="tB" d="M188.4 204.66H261.2" stroke-width="2.00" stroke-dashoffset="1.1"/>
<path d="M261.2 204.66H333.9" stroke-width="0.90"/><path class="tA" d="M261.2 204.66H333.9" stroke-width="1.26" stroke-dashoffset="18.8"/><path class="tB" d="M261.2 204.66H333.9" stroke-width="1.78" stroke-dashoffset="40.4"/>
<path d="M333.9 204.66H406.7" stroke-width="0.87"/><path class="tA" d="M333.9 204.66H406.7" stroke-width="1.21" stroke-dashoffset="13.4"/><path class="tB" d="M333.9 204.66H406.7" stroke-width="1.72" stroke-dashoffset="43.7"/>
<path d="M406.7 204.66H479.5" stroke-width="0.91"/><path class="tA" d="M406.7 204.66H479.5" stroke-width="1.28" stroke-dashoffset="7.0"/><path class="tB" d="M406.7 204.66H479.5" stroke-width="1.81" stroke-dashoffset="42.7"/>
<path d="M479.5 204.66H552.2" stroke-width="0.92"/><path class="tA" d="M479.5 204.66H552.2" stroke-width="1.30" stroke-dashoffset="27.8"/><path class="tB" d="M479.5 204.66H552.2" stroke-width="1.84" stroke-dashoffset="29.1"/>
<path d="M552.2 204.66H625.0" stroke-width="0.98"/><path class="tA" d="M552.2 204.66H625.0" stroke-width="1.40" stroke-dashoffset="20.5"/><path class="tB" d="M552.2 204.66H625.0" stroke-width="1.96" stroke-dashoffset="58.5"/>
<path d="M42.9 209.51H115.7" stroke-width="0.98"/><path class="tA" d="M42.9 209.51H115.7" stroke-width="1.40" stroke-dashoffset="28.9"/><path class="tB" d="M42.9 209.51H115.7" stroke-width="1.96" stroke-dashoffset="29.4"/>
<path d="M115.7 209.51H188.4" stroke-width="0.95"/><path class="tA" d="M115.7 209.51H188.4" stroke-width="1.35" stroke-dashoffset="15.1"/><path class="tB" d="M115.7 209.51H188.4" stroke-width="1.90" stroke-dashoffset="4.6"/>
<path d="M188.4 209.51H261.2" stroke-width="0.99"/><path class="tA" d="M188.4 209.51H261.2" stroke-width="1.41" stroke-dashoffset="32.3"/><path class="tB" d="M188.4 209.51H261.2" stroke-width="1.99" stroke-dashoffset="46.0"/>
<path d="M261.2 209.51H333.9" stroke-width="0.99"/><path class="tA" d="M261.2 209.51H333.9" stroke-width="1.41" stroke-dashoffset="22.0"/><path class="tB" d="M261.2 209.51H333.9" stroke-width="1.98" stroke-dashoffset="59.7"/>
<path d="M333.9 209.51H406.7" stroke-width="0.93"/><path class="tA" d="M333.9 209.51H406.7" stroke-width="1.31" stroke-dashoffset="39.2"/><path class="tB" d="M333.9 209.51H406.7" stroke-width="1.85" stroke-dashoffset="4.8"/>
<path d="M406.7 209.51H479.5" stroke-width="0.92"/><path class="tA" d="M406.7 209.51H479.5" stroke-width="1.29" stroke-dashoffset="22.8"/><path class="tB" d="M406.7 209.51H479.5" stroke-width="1.82" stroke-dashoffset="49.1"/>
<path d="M479.5 209.51H552.2" stroke-width="0.94"/><path class="tA" d="M479.5 209.51H552.2" stroke-width="1.33" stroke-dashoffset="31.6"/><path class="tB" d="M479.5 209.51H552.2" stroke-width="1.87" stroke-dashoffset="22.4"/>
<path d="M552.2 209.51H625.0" stroke-width="0.96"/><path class="tA" d="M552.2 209.51H625.0" stroke-width="1.36" stroke-dashoffset="31.9"/><path class="tB" d="M552.2 209.51H625.0" stroke-width="1.92" stroke-dashoffset="36.0"/>
<path d="M42.9 214.37H115.7" stroke-width="0.97"/><path class="tA" d="M42.9 214.37H115.7" stroke-width="1.38" stroke-dashoffset="26.3"/><path class="tB" d="M42.9 214.37H115.7" stroke-width="1.94" stroke-dashoffset="0.0"/>
<path d="M115.7 214.37H188.4" stroke-width="1.01"/><path class="tA" d="M115.7 214.37H188.4" stroke-width="1.45" stroke-dashoffset="4.6"/><path class="tB" d="M115.7 214.37H188.4" stroke-width="2.03" stroke-dashoffset="45.8"/>
<path d="M188.4 214.37H261.2" stroke-width="0.99"/><path class="tA" d="M188.4 214.37H261.2" stroke-width="1.41" stroke-dashoffset="28.8"/><path class="tB" d="M188.4 214.37H261.2" stroke-width="1.99" stroke-dashoffset="4.3"/>
<path d="M261.2 214.37H333.9" stroke-width="0.97"/><path class="tA" d="M261.2 214.37H333.9" stroke-width="1.39" stroke-dashoffset="27.8"/><path class="tB" d="M261.2 214.37H333.9" stroke-width="1.95" stroke-dashoffset="55.5"/>
<path d="M333.9 214.37H406.7" stroke-width="0.90"/><path class="tA" d="M333.9 214.37H406.7" stroke-width="1.27" stroke-dashoffset="24.6"/><path class="tB" d="M333.9 214.37H406.7" stroke-width="1.79" stroke-dashoffset="23.8"/>
<path d="M406.7 214.37H479.5" stroke-width="0.95"/><path class="tA" d="M406.7 214.37H479.5" stroke-width="1.35" stroke-dashoffset="3.1"/><path class="tB" d="M406.7 214.37H479.5" stroke-width="1.90" stroke-dashoffset="1.0"/>
<path d="M479.5 214.37H552.2" stroke-width="0.87"/><path class="tA" d="M479.5 214.37H552.2" stroke-width="1.22" stroke-dashoffset="35.6"/><path class="tB" d="M479.5 214.37H552.2" stroke-width="1.73" stroke-dashoffset="29.4"/>
<path d="M552.2 214.37H625.0" stroke-width="0.95"/><path class="tA" d="M552.2 214.37H625.0" stroke-width="1.35" stroke-dashoffset="5.3"/><path class="tB" d="M552.2 214.37H625.0" stroke-width="1.90" stroke-dashoffset="41.1"/>
<path d="M42.9 219.23H115.7" stroke-width="1.00"/><path class="tA" d="M42.9 219.23H115.7" stroke-width="1.42" stroke-dashoffset="7.9"/><path class="tB" d="M42.9 219.23H115.7" stroke-width="1.99" stroke-dashoffset="46.8"/>
<path d="M115.7 219.23H188.4" stroke-width="0.99"/><path class="tA" d="M115.7 219.23H188.4" stroke-width="1.41" stroke-dashoffset="39.7"/><path class="tB" d="M115.7 219.23H188.4" stroke-width="1.97" stroke-dashoffset="33.9"/>
<path d="M188.4 219.23H261.2" stroke-width="0.96"/><path class="tA" d="M188.4 219.23H261.2" stroke-width="1.36" stroke-dashoffset="13.8"/><path class="tB" d="M188.4 219.23H261.2" stroke-width="1.91" stroke-dashoffset="46.9"/>
<path d="M261.2 219.23H333.9" stroke-width="0.90"/><path class="tA" d="M261.2 219.23H333.9" stroke-width="1.27" stroke-dashoffset="24.9"/><path class="tB" d="M261.2 219.23H333.9" stroke-width="1.80" stroke-dashoffset="37.6"/>
<path d="M333.9 219.23H406.7" stroke-width="1.01"/><path class="tA" d="M333.9 219.23H406.7" stroke-width="1.44" stroke-dashoffset="31.5"/><path class="tB" d="M333.9 219.23H406.7" stroke-width="2.02" stroke-dashoffset="5.8"/>
<path d="M406.7 219.23H479.5" stroke-width="0.88"/><path class="tA" d="M406.7 219.23H479.5" stroke-width="1.24" stroke-dashoffset="14.3"/><path class="tB" d="M406.7 219.23H479.5" stroke-width="1.76" stroke-dashoffset="23.8"/>
<path d="M479.5 219.23H552.2" stroke-width="0.97"/><path class="tA" d="M479.5 219.23H552.2" stroke-width="1.37" stroke-dashoffset="10.4"/><path class="tB" d="M479.5 219.23H552.2" stroke-width="1.93" stroke-dashoffset="33.5"/>
<path d="M552.2 219.23H625.0" stroke-width="0.93"/><path class="tA" d="M552.2 219.23H625.0" stroke-width="1.31" stroke-dashoffset="12.2"/><path class="tB" d="M552.2 219.23H625.0" stroke-width="1.85" stroke-dashoffset="38.5"/>
<path d="M42.9 224.08H115.7" stroke-width="1.03"/><path class="tA" d="M42.9 224.08H115.7" stroke-width="1.48" stroke-dashoffset="39.2"/><path class="tB" d="M42.9 224.08H115.7" stroke-width="2.07" stroke-dashoffset="7.8"/>
<path d="M115.7 224.08H188.4" stroke-width="1.11"/><path class="tA" d="M115.7 224.08H188.4" stroke-width="1.59" stroke-dashoffset="25.5"/><path class="tB" d="M115.7 224.08H188.4" stroke-width="2.22" stroke-dashoffset="27.5"/>
<path d="M188.4 224.08H261.2" stroke-width="0.98"/><path class="tA" d="M188.4 224.08H261.2" stroke-width="1.39" stroke-dashoffset="25.9"/><path class="tB" d="M188.4 224.08H261.2" stroke-width="1.96" stroke-dashoffset="48.2"/>
<path d="M261.2 224.08H333.9" stroke-width="1.00"/><path class="tA" d="M261.2 224.08H333.9" stroke-width="1.42" stroke-dashoffset="28.5"/><path class="tB" d="M261.2 224.08H333.9" stroke-width="1.99" stroke-dashoffset="31.9"/>
<path d="M333.9 224.08H406.7" stroke-width="0.90"/><path class="tA" d="M333.9 224.08H406.7" stroke-width="1.27" stroke-dashoffset="34.4"/><path class="tB" d="M333.9 224.08H406.7" stroke-width="1.80" stroke-dashoffset="18.7"/>
<path d="M406.7 224.08H479.5" stroke-width="0.93"/><path class="tA" d="M406.7 224.08H479.5" stroke-width="1.32" stroke-dashoffset="30.5"/><path class="tB" d="M406.7 224.08H479.5" stroke-width="1.86" stroke-dashoffset="52.6"/>
<path d="M479.5 224.08H552.2" stroke-width="0.99"/><path class="tA" d="M479.5 224.08H552.2" stroke-width="1.41" stroke-dashoffset="14.7"/><path class="tB" d="M479.5 224.08H552.2" stroke-width="1.98" stroke-dashoffset="50.8"/>
<path d="M552.2 224.08H625.0" stroke-width="0.88"/><path class="tA" d="M552.2 224.08H625.0" stroke-width="1.23" stroke-dashoffset="22.1"/><path class="tB" d="M552.2 224.08H625.0" stroke-width="1.75" stroke-dashoffset="25.9"/>
<path d="M42.9 228.94H115.7" stroke-width="0.99"/><path class="tA" d="M42.9 228.94H115.7" stroke-width="1.41" stroke-dashoffset="28.9"/><path class="tB" d="M42.9 228.94H115.7" stroke-width="1.98" stroke-dashoffset="39.5"/>
<path d="M115.7 228.94H188.4" stroke-width="1.01"/><path class="tA" d="M115.7 228.94H188.4" stroke-width="1.44" stroke-dashoffset="13.9"/><path class="tB" d="M115.7 228.94H188.4" stroke-width="2.02" stroke-dashoffset="26.6"/>
<path d="M188.4 228.94H261.2" stroke-width="0.95"/><path class="tA" d="M188.4 228.94H261.2" stroke-width="1.35" stroke-dashoffset="14.0"/><path class="tB" d="M188.4 228.94H261.2" stroke-width="1.90" stroke-dashoffset="12.0"/>
<path d="M261.2 228.94H333.9" stroke-width="1.06"/><path class="tA" d="M261.2 228.94H333.9" stroke-width="1.51" stroke-dashoffset="5.2"/><path class="tB" d="M261.2 228.94H333.9" stroke-width="2.12" stroke-dashoffset="54.9"/>
<path d="M333.9 228.94H406.7" stroke-width="0.98"/><path class="tA" d="M333.9 228.94H406.7" stroke-width="1.40" stroke-dashoffset="17.8"/><path class="tB" d="M333.9 228.94H406.7" stroke-width="1.96" stroke-dashoffset="7.2"/>
<path d="M406.7 228.94H479.5" stroke-width="0.93"/><path class="tA" d="M406.7 228.94H479.5" stroke-width="1.31" stroke-dashoffset="22.6"/><path class="tB" d="M406.7 228.94H479.5" stroke-width="1.84" stroke-dashoffset="8.6"/>
<path d="M479.5 228.94H552.2" stroke-width="1.01"/><path class="tA" d="M479.5 228.94H552.2" stroke-width="1.44" stroke-dashoffset="14.4"/><path class="tB" d="M479.5 228.94H552.2" stroke-width="2.02" stroke-dashoffset="26.1"/>
<path d="M552.2 228.94H625.0" stroke-width="0.90"/><path class="tA" d="M552.2 228.94H625.0" stroke-width="1.27" stroke-dashoffset="14.9"/><path class="tB" d="M552.2 228.94H625.0" stroke-width="1.79" stroke-dashoffset="16.6"/>
<path d="M42.9 233.79H115.7" stroke-width="0.99"/><path class="tA" d="M42.9 233.79H115.7" stroke-width="1.41" stroke-dashoffset="2.9"/><path class="tB" d="M42.9 233.79H115.7" stroke-width="1.98" stroke-dashoffset="21.9"/>
<path d="M115.7 233.79H188.4" stroke-width="0.98"/><path class="tA" d="M115.7 233.79H188.4" stroke-width="1.39" stroke-dashoffset="19.2"/><path class="tB" d="M115.7 233.79H188.4" stroke-width="1.95" stroke-dashoffset="19.5"/>
<path d="M188.4 233.79H261.2" stroke-width="1.01"/><path class="tA" d="M188.4 233.79H261.2" stroke-width="1.44" stroke-dashoffset="2.5"/><path class="tB" d="M188.4 233.79H261.2" stroke-width="2.02" stroke-dashoffset="18.4"/>
<path d="M261.2 233.79H333.9" stroke-width="1.03"/><path class="tA" d="M261.2 233.79H333.9" stroke-width="1.48" stroke-dashoffset="30.7"/><path class="tB" d="M261.2 233.79H333.9" stroke-width="2.07" stroke-dashoffset="25.8"/>
<path d="M333.9 233.79H406.7" stroke-width="1.03"/><path class="tA" d="M333.9 233.79H406.7" stroke-width="1.47" stroke-dashoffset="26.2"/><path class="tB" d="M333.9 233.79H406.7" stroke-width="2.06" stroke-dashoffset="16.6"/>
<path d="M406.7 233.79H479.5" stroke-width="1.03"/><path class="tA" d="M406.7 233.79H479.5" stroke-width="1.47" stroke-dashoffset="7.8"/><path class="tB" d="M406.7 233.79H479.5" stroke-width="2.06" stroke-dashoffset="37.0"/>
<path d="M479.5 233.79H552.2" stroke-width="0.97"/><path class="tA" d="M479.5 233.79H552.2" stroke-width="1.38" stroke-dashoffset="26.2"/><path class="tB" d="M479.5 233.79H552.2" stroke-width="1.94" stroke-dashoffset="52.5"/>
<path d="M552.2 233.79H625.0" stroke-width="0.98"/><path class="tA" d="M552.2 233.79H625.0" stroke-width="1.39" stroke-dashoffset="39.5"/><path class="tB" d="M552.2 233.79H625.0" stroke-width="1.96" stroke-dashoffset="14.0"/>
<path d="M42.9 238.65H115.7" stroke-width="1.13"/><path class="tA" d="M42.9 238.65H115.7" stroke-width="1.62" stroke-dashoffset="17.8"/><path class="tB" d="M42.9 238.65H115.7" stroke-width="2.25" stroke-dashoffset="22.0"/>
<path d="M115.7 238.65H188.4" stroke-width="1.04"/><path class="tA" d="M115.7 238.65H188.4" stroke-width="1.48" stroke-dashoffset="36.9"/><path class="tB" d="M115.7 238.65H188.4" stroke-width="2.08" stroke-dashoffset="57.3"/>
<path d="M188.4 238.65H261.2" stroke-width="1.09"/><path class="tA" d="M188.4 238.65H261.2" stroke-width="1.57" stroke-dashoffset="12.1"/><path class="tB" d="M188.4 238.65H261.2" stroke-width="2.19" stroke-dashoffset="7.1"/>
<path d="M261.2 238.65H333.9" stroke-width="1.00"/><path class="tA" d="M261.2 238.65H333.9" stroke-width="1.42" stroke-dashoffset="26.9"/><path class="tB" d="M261.2 238.65H333.9" stroke-width="2.00" stroke-dashoffset="42.1"/>
<path d="M333.9 238.65H406.7" stroke-width="0.98"/><path class="tA" d="M333.9 238.65H406.7" stroke-width="1.39" stroke-dashoffset="0.1"/><path class="tB" d="M333.9 238.65H406.7" stroke-width="1.95" stroke-dashoffset="59.7"/>
<path d="M406.7 238.65H479.5" stroke-width="1.00"/><path class="tA" d="M406.7 238.65H479.5" stroke-width="1.42" stroke-dashoffset="1.7"/><path class="tB" d="M406.7 238.65H479.5" stroke-width="1.99" stroke-dashoffset="27.9"/>
<path d="M479.5 238.65H552.2" stroke-width="0.90"/><path class="tA" d="M479.5 238.65H552.2" stroke-width="1.27" stroke-dashoffset="32.6"/><path class="tB" d="M479.5 238.65H552.2" stroke-width="1.80" stroke-dashoffset="31.8"/>
<path d="M552.2 238.65H625.0" stroke-width="0.95"/><path class="tA" d="M552.2 238.65H625.0" stroke-width="1.35" stroke-dashoffset="37.1"/><path class="tB" d="M552.2 238.65H625.0" stroke-width="1.90" stroke-dashoffset="7.5"/>
<path d="M42.9 243.50H115.7" stroke-width="1.45"/><path class="tA" d="M42.9 243.50H115.7" stroke-width="1.98" stroke-dashoffset="31.5"/><path class="tB" d="M42.9 243.50H115.7" stroke-width="2.61" stroke-dashoffset="36.4"/>
<path d="M115.7 243.50H188.4" stroke-width="1.62"/><path class="tA" d="M115.7 243.50H188.4" stroke-width="2.17" stroke-dashoffset="14.2"/><path class="tB" d="M115.7 243.50H188.4" stroke-width="2.81" stroke-dashoffset="37.2"/>
<path d="M188.4 243.50H261.2" stroke-width="2.02"/><path class="tA" d="M188.4 243.50H261.2" stroke-width="2.61" stroke-dashoffset="37.9"/><path class="tB" d="M188.4 243.50H261.2" stroke-width="3.25" stroke-dashoffset="55.0"/>
<path d="M261.2 243.50H333.9" stroke-width="1.92"/><path class="tA" d="M261.2 243.50H333.9" stroke-width="2.51" stroke-dashoffset="5.3"/><path class="tB" d="M261.2 243.50H333.9" stroke-width="3.15" stroke-dashoffset="1.7"/>
<path d="M333.9 243.50H406.7" stroke-width="1.53"/><path class="tA" d="M333.9 243.50H406.7" stroke-width="2.07" stroke-dashoffset="9.9"/><path class="tB" d="M333.9 243.50H406.7" stroke-width="2.71" stroke-dashoffset="31.3"/>
<path d="M406.7 243.50H479.5" stroke-width="1.08"/><path class="tA" d="M406.7 243.50H479.5" stroke-width="1.56" stroke-dashoffset="38.9"/><path class="tB" d="M406.7 243.50H479.5" stroke-width="2.17" stroke-dashoffset="26.6"/>
<path d="M479.5 243.50H552.2" stroke-width="0.98"/><path class="tA" d="M479.5 243.50H552.2" stroke-width="1.39" stroke-dashoffset="8.2"/><path class="tB" d="M479.5 243.50H552.2" stroke-width="1.95" stroke-dashoffset="54.2"/>
<path d="M552.2 243.50H625.0" stroke-width="1.05"/><path class="tA" d="M552.2 243.50H625.0" stroke-width="1.50" stroke-dashoffset="5.6"/><path class="tB" d="M552.2 243.50H625.0" stroke-width="2.10" stroke-dashoffset="57.8"/>
<path d="M42.9 248.36H115.7" stroke-width="2.69"/><path class="tA" d="M42.9 248.36H115.7" stroke-width="3.36" stroke-dashoffset="29.1"/><path class="tB" d="M42.9 248.36H115.7" stroke-width="4.01" stroke-dashoffset="33.9"/>
<path d="M115.7 248.36H188.4" stroke-width="2.94"/><path class="tA" d="M115.7 248.36H188.4" stroke-width="3.64" stroke-dashoffset="19.6"/><path class="tB" d="M115.7 248.36H188.4" stroke-width="4.28" stroke-dashoffset="1.8"/>
<path d="M188.4 248.36H261.2" stroke-width="2.43"/><path class="tA" d="M188.4 248.36H261.2" stroke-width="3.07" stroke-dashoffset="34.1"/><path class="tB" d="M188.4 248.36H261.2" stroke-width="3.71" stroke-dashoffset="24.6"/>
<path d="M261.2 248.36H333.9" stroke-width="2.24"/><path class="tA" d="M261.2 248.36H333.9" stroke-width="2.86" stroke-dashoffset="17.9"/><path class="tB" d="M261.2 248.36H333.9" stroke-width="3.50" stroke-dashoffset="21.5"/>
<path d="M333.9 248.36H406.7" stroke-width="1.33"/><path class="tA" d="M333.9 248.36H406.7" stroke-width="1.85" stroke-dashoffset="9.1"/><path class="tB" d="M333.9 248.36H406.7" stroke-width="2.48" stroke-dashoffset="30.0"/>
<path d="M406.7 248.36H479.5" stroke-width="1.36"/><path class="tA" d="M406.7 248.36H479.5" stroke-width="1.88" stroke-dashoffset="23.6"/><path class="tB" d="M406.7 248.36H479.5" stroke-width="2.51" stroke-dashoffset="46.1"/>
<path d="M479.5 248.36H552.2" stroke-width="0.98"/><path class="tA" d="M479.5 248.36H552.2" stroke-width="1.40" stroke-dashoffset="14.8"/><path class="tB" d="M479.5 248.36H552.2" stroke-width="1.96" stroke-dashoffset="34.8"/>
<path d="M552.2 248.36H625.0" stroke-width="0.98"/><path class="tA" d="M552.2 248.36H625.0" stroke-width="1.40" stroke-dashoffset="0.3"/><path class="tB" d="M552.2 248.36H625.0" stroke-width="1.96" stroke-dashoffset="52.1"/>
<path d="M42.9 253.21H115.7" stroke-width="2.50"/><path class="tA" d="M42.9 253.21H115.7" stroke-width="3.15" stroke-dashoffset="26.4"/><path class="tB" d="M42.9 253.21H115.7" stroke-width="3.79" stroke-dashoffset="58.8"/>
<path d="M115.7 253.21H188.4" stroke-width="2.49"/><path class="tA" d="M115.7 253.21H188.4" stroke-width="3.14" stroke-dashoffset="10.8"/><path class="tB" d="M115.7 253.21H188.4" stroke-width="3.78" stroke-dashoffset="19.9"/>
<path d="M188.4 253.21H261.2" stroke-width="2.41"/><path class="tA" d="M188.4 253.21H261.2" stroke-width="3.06" stroke-dashoffset="39.2"/><path class="tB" d="M188.4 253.21H261.2" stroke-width="3.70" stroke-dashoffset="8.7"/>
<path d="M261.2 253.21H333.9" stroke-width="1.79"/><path class="tA" d="M261.2 253.21H333.9" stroke-width="2.36" stroke-dashoffset="35.8"/><path class="tB" d="M261.2 253.21H333.9" stroke-width="2.99" stroke-dashoffset="16.6"/>
<path d="M333.9 253.21H406.7" stroke-width="1.57"/><path class="tA" d="M333.9 253.21H406.7" stroke-width="2.12" stroke-dashoffset="28.9"/><path class="tB" d="M333.9 253.21H406.7" stroke-width="2.75" stroke-dashoffset="0.0"/>
<path d="M406.7 253.21H479.5" stroke-width="1.02"/><path class="tA" d="M406.7 253.21H479.5" stroke-width="1.45" stroke-dashoffset="30.4"/><path class="tB" d="M406.7 253.21H479.5" stroke-width="2.03" stroke-dashoffset="55.1"/>
<path d="M479.5 253.21H552.2" stroke-width="1.06"/><path class="tA" d="M479.5 253.21H552.2" stroke-width="1.52" stroke-dashoffset="18.7"/><path class="tB" d="M479.5 253.21H552.2" stroke-width="2.13" stroke-dashoffset="6.1"/>
<path d="M552.2 253.21H625.0" stroke-width="1.00"/><path class="tA" d="M552.2 253.21H625.0" stroke-width="1.43" stroke-dashoffset="4.4"/><path class="tB" d="M552.2 253.21H625.0" stroke-width="2.01" stroke-dashoffset="19.5"/>
<path d="M42.9 258.06H115.7" stroke-width="2.43"/><path class="tA" d="M42.9 258.06H115.7" stroke-width="3.07" stroke-dashoffset="20.6"/><path class="tB" d="M42.9 258.06H115.7" stroke-width="3.71" stroke-dashoffset="28.0"/>
<path d="M115.7 258.06H188.4" stroke-width="2.49"/><path class="tA" d="M115.7 258.06H188.4" stroke-width="3.14" stroke-dashoffset="8.9"/><path class="tB" d="M115.7 258.06H188.4" stroke-width="3.78" stroke-dashoffset="4.0"/>
<path d="M188.4 258.06H261.2" stroke-width="2.01"/><path class="tA" d="M188.4 258.06H261.2" stroke-width="2.61" stroke-dashoffset="5.1"/><path class="tB" d="M188.4 258.06H261.2" stroke-width="3.24" stroke-dashoffset="59.0"/>
<path d="M261.2 258.06H333.9" stroke-width="1.62"/><path class="tA" d="M261.2 258.06H333.9" stroke-width="2.17" stroke-dashoffset="28.7"/><path class="tB" d="M261.2 258.06H333.9" stroke-width="2.80" stroke-dashoffset="27.4"/>
<path d="M333.9 258.06H406.7" stroke-width="1.51"/><path class="tA" d="M333.9 258.06H406.7" stroke-width="2.05" stroke-dashoffset="12.2"/><path class="tB" d="M333.9 258.06H406.7" stroke-width="2.68" stroke-dashoffset="58.9"/>
<path d="M406.7 258.06H479.5" stroke-width="1.35"/><path class="tA" d="M406.7 258.06H479.5" stroke-width="1.87" stroke-dashoffset="16.2"/><path class="tB" d="M406.7 258.06H479.5" stroke-width="2.50" stroke-dashoffset="25.9"/>
<path d="M479.5 258.06H552.2" stroke-width="1.44"/><path class="tA" d="M479.5 258.06H552.2" stroke-width="1.97" stroke-dashoffset="6.3"/><path class="tB" d="M479.5 258.06H552.2" stroke-width="2.60" stroke-dashoffset="52.4"/>
<path d="M552.2 258.06H625.0" stroke-width="1.20"/><path class="tA" d="M552.2 258.06H625.0" stroke-width="1.70" stroke-dashoffset="22.7"/><path class="tB" d="M552.2 258.06H625.0" stroke-width="2.34" stroke-dashoffset="32.0"/>
<path d="M42.9 262.92H115.7" stroke-width="2.86"/><path class="tA" d="M42.9 262.92H115.7" stroke-width="3.55" stroke-dashoffset="3.6"/><path class="tB" d="M42.9 262.92H115.7" stroke-width="4.20" stroke-dashoffset="14.9"/>
<path d="M115.7 262.92H188.4" stroke-width="2.54"/><path class="tA" d="M115.7 262.92H188.4" stroke-width="3.20" stroke-dashoffset="8.9"/><path class="tB" d="M115.7 262.92H188.4" stroke-width="3.84" stroke-dashoffset="5.1"/>
<path d="M188.4 262.92H261.2" stroke-width="2.55"/><path class="tA" d="M188.4 262.92H261.2" stroke-width="3.21" stroke-dashoffset="16.9"/><path class="tB" d="M188.4 262.92H261.2" stroke-width="3.85" stroke-dashoffset="44.5"/>
<path d="M261.2 262.92H333.9" stroke-width="1.90"/><path class="tA" d="M261.2 262.92H333.9" stroke-width="2.48" stroke-dashoffset="37.7"/><path class="tB" d="M261.2 262.92H333.9" stroke-width="3.12" stroke-dashoffset="14.7"/>
<path d="M333.9 262.92H406.7" stroke-width="1.45"/><path class="tA" d="M333.9 262.92H406.7" stroke-width="1.98" stroke-dashoffset="16.9"/><path class="tB" d="M333.9 262.92H406.7" stroke-width="2.62" stroke-dashoffset="47.5"/>
<path d="M406.7 262.92H479.5" stroke-width="1.05"/><path class="tA" d="M406.7 262.92H479.5" stroke-width="1.51" stroke-dashoffset="21.8"/><path class="tB" d="M406.7 262.92H479.5" stroke-width="2.11" stroke-dashoffset="27.2"/>
<path d="M479.5 262.92H552.2" stroke-width="1.21"/><path class="tA" d="M479.5 262.92H552.2" stroke-width="1.71" stroke-dashoffset="9.3"/><path class="tB" d="M479.5 262.92H552.2" stroke-width="2.34" stroke-dashoffset="32.6"/>
<path d="M552.2 262.92H625.0" stroke-width="1.49"/><path class="tA" d="M552.2 262.92H625.0" stroke-width="2.02" stroke-dashoffset="4.1"/><path class="tB" d="M552.2 262.92H625.0" stroke-width="2.66" stroke-dashoffset="58.3"/>
<path d="M42.9 267.78H115.7" stroke-width="3.16"/><path class="tA" d="M42.9 267.78H115.7" stroke-width="3.88" stroke-dashoffset="17.9"/><path class="tB" d="M42.9 267.78H115.7" stroke-width="4.53" stroke-dashoffset="4.9"/>
<path d="M115.7 267.78H188.4" stroke-width="2.65"/><path class="tA" d="M115.7 267.78H188.4" stroke-width="3.32" stroke-dashoffset="38.5"/><path class="tB" d="M115.7 267.78H188.4" stroke-width="3.97" stroke-dashoffset="0.1"/>
<path d="M188.4 267.78H261.2" stroke-width="2.58"/><path class="tA" d="M188.4 267.78H261.2" stroke-width="3.24" stroke-dashoffset="31.2"/><path class="tB" d="M188.4 267.78H261.2" stroke-width="3.88" stroke-dashoffset="6.9"/>
<path d="M261.2 267.78H333.9" stroke-width="2.19"/><path class="tA" d="M261.2 267.78H333.9" stroke-width="2.80" stroke-dashoffset="5.9"/><path class="tB" d="M261.2 267.78H333.9" stroke-width="3.44" stroke-dashoffset="6.0"/>
<path d="M333.9 267.78H406.7" stroke-width="1.85"/><path class="tA" d="M333.9 267.78H406.7" stroke-width="2.43" stroke-dashoffset="11.9"/><path class="tB" d="M333.9 267.78H406.7" stroke-width="3.07" stroke-dashoffset="39.5"/>
<path d="M406.7 267.78H479.5" stroke-width="1.69"/><path class="tA" d="M406.7 267.78H479.5" stroke-width="2.25" stroke-dashoffset="9.2"/><path class="tB" d="M406.7 267.78H479.5" stroke-width="2.88" stroke-dashoffset="55.2"/>
<path d="M479.5 267.78H552.2" stroke-width="1.28"/><path class="tA" d="M479.5 267.78H552.2" stroke-width="1.79" stroke-dashoffset="32.1"/><path class="tB" d="M479.5 267.78H552.2" stroke-width="2.42" stroke-dashoffset="16.9"/>
<path d="M552.2 267.78H625.0" stroke-width="1.98"/><path class="tA" d="M552.2 267.78H625.0" stroke-width="2.57" stroke-dashoffset="24.3"/><path class="tB" d="M552.2 267.78H625.0" stroke-width="3.21" stroke-dashoffset="27.5"/>
<path d="M42.9 272.63H115.7" stroke-width="1.45"/><path class="tA" d="M42.9 272.63H115.7" stroke-width="1.98" stroke-dashoffset="34.3"/><path class="tB" d="M42.9 272.63H115.7" stroke-width="2.61" stroke-dashoffset="51.5"/>
<path d="M115.7 272.63H188.4" stroke-width="2.17"/><path class="tA" d="M115.7 272.63H188.4" stroke-width="2.78" stroke-dashoffset="23.6"/><path class="tB" d="M115.7 272.63H188.4" stroke-width="3.42" stroke-dashoffset="55.5"/>
<path d="M188.4 272.63H261.2" stroke-width="2.39"/><path class="tA" d="M188.4 272.63H261.2" stroke-width="3.03" stroke-dashoffset="26.7"/><path class="tB" d="M188.4 272.63H261.2" stroke-width="3.67" stroke-dashoffset="20.3"/>
<path d="M261.2 272.63H333.9" stroke-width="2.31"/><path class="tA" d="M261.2 272.63H333.9" stroke-width="2.94" stroke-dashoffset="13.7"/><path class="tB" d="M261.2 272.63H333.9" stroke-width="3.58" stroke-dashoffset="48.8"/>
<path d="M333.9 272.63H406.7" stroke-width="2.27"/><path class="tA" d="M333.9 272.63H406.7" stroke-width="2.90" stroke-dashoffset="34.7"/><path class="tB" d="M333.9 272.63H406.7" stroke-width="3.54" stroke-dashoffset="53.5"/>
<path d="M406.7 272.63H479.5" stroke-width="2.39"/><path class="tA" d="M406.7 272.63H479.5" stroke-width="3.02" stroke-dashoffset="8.1"/><path class="tB" d="M406.7 272.63H479.5" stroke-width="3.66" stroke-dashoffset="20.1"/>
<path d="M479.5 272.63H552.2" stroke-width="1.75"/><path class="tA" d="M479.5 272.63H552.2" stroke-width="2.31" stroke-dashoffset="13.4"/><path class="tB" d="M479.5 272.63H552.2" stroke-width="2.95" stroke-dashoffset="9.4"/>
<path d="M552.2 272.63H625.0" stroke-width="1.85"/><path class="tA" d="M552.2 272.63H625.0" stroke-width="2.42" stroke-dashoffset="31.8"/><path class="tB" d="M552.2 272.63H625.0" stroke-width="3.06" stroke-dashoffset="7.2"/>
<path d="M42.9 277.49H115.7" stroke-width="2.00"/><path class="tA" d="M42.9 277.49H115.7" stroke-width="2.59" stroke-dashoffset="36.9"/><path class="tB" d="M42.9 277.49H115.7" stroke-width="3.23" stroke-dashoffset="46.3"/>
<path d="M115.7 277.49H188.4" stroke-width="1.60"/><path class="tA" d="M115.7 277.49H188.4" stroke-width="2.15" stroke-dashoffset="11.6"/><path class="tB" d="M115.7 277.49H188.4" stroke-width="2.78" stroke-dashoffset="27.4"/>
<path d="M188.4 277.49H261.2" stroke-width="2.17"/><path class="tA" d="M188.4 277.49H261.2" stroke-width="2.78" stroke-dashoffset="37.0"/><path class="tB" d="M188.4 277.49H261.2" stroke-width="3.42" stroke-dashoffset="1.2"/>
<path d="M261.2 277.49H333.9" stroke-width="1.91"/><path class="tA" d="M261.2 277.49H333.9" stroke-width="2.49" stroke-dashoffset="32.9"/><path class="tB" d="M261.2 277.49H333.9" stroke-width="3.12" stroke-dashoffset="1.3"/>
<path d="M333.9 277.49H406.7" stroke-width="2.54"/><path class="tA" d="M333.9 277.49H406.7" stroke-width="3.19" stroke-dashoffset="7.5"/><path class="tB" d="M333.9 277.49H406.7" stroke-width="3.84" stroke-dashoffset="58.6"/>
<path d="M406.7 277.49H479.5" stroke-width="2.16"/><path class="tA" d="M406.7 277.49H479.5" stroke-width="2.78" stroke-dashoffset="24.2"/><path class="tB" d="M406.7 277.49H479.5" stroke-width="3.41" stroke-dashoffset="49.5"/>
<path d="M479.5 277.49H552.2" stroke-width="2.32"/><path class="tA" d="M479.5 277.49H552.2" stroke-width="2.96" stroke-dashoffset="16.6"/><path class="tB" d="M479.5 277.49H552.2" stroke-width="3.60" stroke-dashoffset="27.6"/>
<path d="M552.2 277.49H625.0" stroke-width="2.23"/><path class="tA" d="M552.2 277.49H625.0" stroke-width="2.85" stroke-dashoffset="10.3"/><path class="tB" d="M552.2 277.49H625.0" stroke-width="3.49" stroke-dashoffset="18.3"/>
<path class="tA" d="M43 97.85H280" stroke-width="5.15" stroke-dashoffset="34.8"/><path class="tC" d="M43 97.85H280" stroke-width="6.12" stroke-dashoffset="35.3"/>
<path class="tA" d="M43 93.00H200" stroke-width="3.46" stroke-dashoffset="33.1"/><path class="tC" d="M43 93.00H200" stroke-width="4.37" stroke-dashoffset="13.8"/>
<path class="tA" d="M43 122.12H350" stroke-width="4.76" stroke-dashoffset="13.7"/><path class="tC" d="M43 122.12H350" stroke-width="5.72" stroke-dashoffset="4.2"/>
<path class="tA" d="M43 126.98H350" stroke-width="4.76" stroke-dashoffset="33.3"/><path class="tC" d="M43 126.98H350" stroke-width="5.72" stroke-dashoffset="1.9"/>
<path class="tA" d="M43 117.27H300" stroke-width="3.20" stroke-dashoffset="7.3"/><path class="tC" d="M43 117.27H300" stroke-width="4.10" stroke-dashoffset="1.0"/>
<path class="tA" d="M568 185.24H598" stroke-width="2.68" stroke-dashoffset="18.3"/><path class="tC" d="M568 185.24H598" stroke-width="3.56" stroke-dashoffset="39.8"/>
<path class="tA" d="M568 190.10H598" stroke-width="2.68" stroke-dashoffset="2.8"/><path class="tC" d="M568 190.10H598" stroke-width="3.56" stroke-dashoffset="10.1"/>
<path class="tA" d="M232 156.11H292" stroke-width="3.46" stroke-dashoffset="10.7"/><path class="tC" d="M232 156.11H292" stroke-width="4.37" stroke-dashoffset="28.1"/>
<path class="tA" d="M232 160.97H292" stroke-width="3.46" stroke-dashoffset="14.3"/><path class="tC" d="M232 160.97H292" stroke-width="4.37" stroke-dashoffset="7.0"/>
<path class="tA" d="M560 156.11H598" stroke-width="2.42" stroke-dashoffset="27.7"/><path class="tC" d="M560 156.11H598" stroke-width="3.29" stroke-dashoffset="36.0"/>
<path class="tA" d="M43 156.11H60" stroke-width="4.50" stroke-dashoffset="6.6"/><path class="tC" d="M43 156.11H60" stroke-width="5.45" stroke-dashoffset="2.5"/>
<path class="tA" d="M43 160.97H60" stroke-width="4.50" stroke-dashoffset="16.3"/><path class="tC" d="M43 160.97H60" stroke-width="5.45" stroke-dashoffset="37.4"/>
<path class="tA" d="M43 151.25H60" stroke-width="3.20" stroke-dashoffset="2.4"/><path class="tC" d="M43 151.25H60" stroke-width="4.10" stroke-dashoffset="5.5"/>
</g>
<path d="M43.0 161.5V164.1M43.4 156.5V161.1M44.1 157.9V162.2M44.5 156.2V164.9M45.0 157.6V169.3M45.6 156.6V166.3M46.1 158.0V163.3M47.0 159.6V169.3M47.6 152.6V161.6M48.1 153.0V166.4M48.8 157.9V168.7M49.6 157.8V169.4M50.5 156.6V169.9M51.0 153.9V168.4M51.6 161.3V171.5M52.4 154.2V167.9M53.1 157.9V169.6M54.1 154.2V165.3M54.9 158.9V171.4M55.4 155.6V163.6M56.0 157.3V160.6M56.9 160.2V162.7" fill="none" stroke="#000" stroke-width="0.85"/>
<path d="M153.0 161.6V163.6M154.2 156.9V165.1M154.9 161.3V169.5M155.5 158.5V163.3M156.3 154.7V162.6M157.1 160.3V169.3M158.1 157.9V168.4M158.6 156.5V170.3M159.7 156.3V163.9M160.6 159.0V162.2M161.2 156.9V161.0M161.7 158.4V162.1M162.9 159.0V161.7" fill="none" stroke="#000" stroke-width="0.85"/>
<path d="M232.0 162.6V164.7M234.0 157.8V161.8M234.8 162.0V165.4M235.7 161.2V166.2M236.6 159.3V163.1M238.6 156.1V164.6M239.8 160.3V166.7M241.5 160.9V166.0M243.5 157.9V169.3M245.1 158.5V165.5M245.9 159.1V163.7M247.5 157.1V168.6M249.5 152.9V164.4M250.4 159.8V165.6M252.3 155.5V167.7M254.1 161.9V170.4M255.8 153.3V165.3M257.5 160.4V172.0M258.7 158.6V171.8M259.6 161.5V167.1M261.4 161.7V172.3M262.9 155.7V165.8M263.7 153.4V168.6M265.6 158.9V171.8M266.5 157.0V164.4M268.0 156.4V164.7M269.9 158.3V167.3M271.8 157.5V169.8M273.2 156.6V163.4M274.1 158.6V166.9M275.4 155.0V166.1M276.8 155.1V166.1M278.2 160.6V166.5M279.6 159.8V169.8M280.8 157.6V166.0M282.4 158.5V165.7M284.4 160.2V169.3M285.4 160.5V168.8M286.3 158.2V162.4M287.3 162.4V166.9M289.2 161.6V165.8M290.1 157.3V163.9M292.0 163.2V166.2" fill="none" stroke="#000" stroke-width="0.85"/>
<path d="M205.0 160.4V162.2M206.9 160.7V163.5M208.1 156.3V161.2M210.0 155.6V162.3M213.3 154.1V165.5M215.0 158.5V165.5M216.5 158.6V168.7M218.2 159.1V167.8M220.9 159.9V163.5M223.0 159.9V167.7M225.9 157.7V164.1M228.9 158.9V163.1" fill="none" stroke="#000" stroke-width="0.85"/>
<path d="M330.0 162.5V163.5M331.7 160.9V162.5M333.3 162.3V165.2M335.1 160.1V163.9M336.3 162.0V164.6M338.6 162.6V167.1M340.0 158.7V165.7M343.0 161.1V166.5M346.3 161.6V167.2M348.9 160.0V163.2M350.3 161.6V164.2M351.8 163.7V165.5" fill="none" stroke="#000" stroke-width="0.85"/>
<path d="M575.0 157.9V159.5M576.4 157.6V160.3M578.6 154.2V161.3M580.8 155.1V160.2M582.1 154.9V161.8M583.6 156.6V160.5M585.0 157.2V160.1M586.1 156.1V164.5M587.8 154.1V164.9M589.1 154.2V162.4M590.8 159.6V166.1M592.5 153.9V162.6M594.0 157.9V164.7M596.0 157.9V163.3M597.7 157.2V158.6" fill="none" stroke="#000" stroke-width="0.85"/>
<path d="M598.0 159.0V162.3M598.8 156.9V162.1M599.1 156.2V162.6M599.8 157.6V162.0M600.3 159.5V162.8M600.8 155.2V164.7M601.4 157.6V165.3M602.2 153.0V159.1M602.7 154.6V162.8M603.0 158.8V163.3M603.8 154.1V162.8M604.5 157.3V164.0M605.0 148.9V164.3M605.6 152.2V167.2M606.1 154.7V165.9M606.9 159.3V167.5M607.3 154.1V167.1M608.1 155.9V167.8M608.5 157.4V164.7M609.0 155.6V162.9M609.9 159.5V169.0M610.3 152.9V169.1M610.9 157.6V167.2M611.6 153.6V163.4M612.0 155.6V166.5M613.0 155.8V163.5M613.4 157.0V170.7M614.3 155.5V170.6M615.0 153.8V163.0M615.7 151.2V164.6M616.0 151.1V162.0M616.6 158.5V169.0M617.1 153.8V163.5M617.7 155.1V160.5M618.7 157.3V164.7M619.7 153.8V159.9M620.1 154.8V159.9M620.6 156.7V166.8M621.2 155.6V162.6M621.8 160.8V164.5M622.2 158.4V165.3M622.7 156.9V160.9M623.3 157.4V165.5M623.7 160.8V164.9M624.4 156.6V159.6" fill="none" stroke="#000" stroke-width="0.85"/>
<path d="M496.0 193.8V201.5M496.5 191.9V195.7M497.3 186.6V201.5M498.2 183.4V196.4M499.0 190.0V206.4M499.6 190.7V200.0M500.4 189.6V197.3M501.1 187.0V199.9M501.4 191.1V205.7M502.2 178.2V199.5M502.7 178.3V202.5M503.1 184.6V202.9M503.6 181.6V203.4M504.0 189.2V201.8M504.5 183.8V202.7M504.9 186.0V201.0M505.4 188.2V199.2M506.4 187.3V193.3" fill="none" stroke="#000" stroke-width="0.85"/>
<path d="M538.0 187.8V195.7M538.6 188.6V198.0M539.0 196.2V202.4M539.9 189.9V209.4M540.5 192.5V208.4M540.8 183.8V199.9M541.4 187.8V195.3M542.0 184.7V203.2M542.5 190.2V210.5M543.1 189.6V202.3M544.1 192.7V205.8M544.4 188.9V209.9M544.8 195.0V202.1M545.3 181.6V206.2M545.8 179.2V201.7M546.7 184.5V194.9M547.5 189.5V205.5M547.9 195.4V203.8M548.8 191.1V196.0" fill="none" stroke="#000" stroke-width="0.85"/>
<rect x="43.4" y="273" width="92.5" height="18.8" fill="#fff"/>
<text x="43.5" y="286.4" font-family='"Liberation Serif",serif' font-weight="bold" font-style="italic" font-size="15.5">Source= 0.0 ft</text>
<rect x="2.85" y="319.9" width="313.15" height="328.5" fill="none" stroke="#000" stroke-width="1.9"/>
<text x="15.9" y="346.7" font-family='"Liberation Sans",sans-serif' font-size="14" fill="#111">Source=&#160; 0.0m</text>
<text x="154" y="348.1" font-family='"Liberation Sans",sans-serif' font-size="14.2" fill="#111">Phase velocity (m/s)</text>
<rect x="66.1" y="369.8" width="229.9" height="260.5" fill="#fff" stroke="#666" stroke-width="1"/>
<line x1="123.4" y1="370" x2="123.4" y2="630" stroke="#5b9bd5" stroke-width="1"/>
<line x1="180.7" y1="370" x2="180.7" y2="630" stroke="#5b9bd5" stroke-width="1"/>
<line x1="238" y1="370" x2="238" y2="630" stroke="#5b9bd5" stroke-width="1"/>
<text x="70" y="363.8" text-anchor="middle" font-family='"Liberation Sans",sans-serif' font-size="12.5" fill="#111">0</text>
<text x="127.5" y="363.8" text-anchor="middle" font-family='"Liberation Sans",sans-serif' font-size="12.5" fill="#111">200</text>
<text x="185" y="363.8" text-anchor="middle" font-family='"Liberation Sans",sans-serif' font-size="12.5" fill="#111">400</text>
<text x="242.5" y="363.8" text-anchor="middle" font-family='"Liberation Sans",sans-serif' font-size="12.5" fill="#111">600</text>
<text x="300" y="363.8" text-anchor="middle" font-family='"Liberation Sans",sans-serif' font-size="12.5" fill="#111">800</text>
<line x1="63.3" y1="384.3" x2="66.1" y2="384.3" stroke="#555" stroke-width="1"/>
<line x1="296" y1="384.3" x2="298.8" y2="384.3" stroke="#555" stroke-width="1"/>
<text x="50.7" y="391.6" text-anchor="middle" font-family='"Liberation Sans",sans-serif' font-size="12.5" fill="#111">0</text>
<line x1="63.3" y1="399.7" x2="66.1" y2="399.7" stroke="#555" stroke-width="1"/>
<line x1="296" y1="399.7" x2="298.8" y2="399.7" stroke="#555" stroke-width="1"/>
<text x="50.7" y="407" text-anchor="middle" font-family='"Liberation Sans",sans-serif' font-size="12.5" fill="#111">1</text>
<line x1="63.3" y1="415" x2="66.1" y2="415" stroke="#555" stroke-width="1"/>
<line x1="296" y1="415" x2="298.8" y2="415" stroke="#555" stroke-width="1"/>
<text x="50.7" y="422.3" text-anchor="middle" font-family='"Liberation Sans",sans-serif' font-size="12.5" fill="#111">2</text>
<line x1="63.3" y1="430.4" x2="66.1" y2="430.4" stroke="#555" stroke-width="1"/>
<line x1="296" y1="430.4" x2="298.8" y2="430.4" stroke="#555" stroke-width="1"/>
<text x="50.7" y="437.7" text-anchor="middle" font-family='"Liberation Sans",sans-serif' font-size="12.5" fill="#111">3</text>
<line x1="63.3" y1="445.7" x2="66.1" y2="445.7" stroke="#555" stroke-width="1"/>
<line x1="296" y1="445.7" x2="298.8" y2="445.7" stroke="#555" stroke-width="1"/>
<text x="50.7" y="453" text-anchor="middle" font-family='"Liberation Sans",sans-serif' font-size="12.5" fill="#111">4</text>
<line x1="63.3" y1="461.1" x2="66.1" y2="461.1" stroke="#555" stroke-width="1"/>
<line x1="296" y1="461.1" x2="298.8" y2="461.1" stroke="#555" stroke-width="1"/>
<text x="50.7" y="468.4" text-anchor="middle" font-family='"Liberation Sans",sans-serif' font-size="12.5" fill="#111">5</text>
<line x1="63.3" y1="476.4" x2="66.1" y2="476.4" stroke="#555" stroke-width="1"/>
<line x1="296" y1="476.4" x2="298.8" y2="476.4" stroke="#555" stroke-width="1"/>
<text x="50.7" y="483.7" text-anchor="middle" font-family='"Liberation Sans",sans-serif' font-size="12.5" fill="#111">6</text>
<line x1="63.3" y1="491.8" x2="66.1" y2="491.8" stroke="#555" stroke-width="1"/>
<line x1="296" y1="491.8" x2="298.8" y2="491.8" stroke="#555" stroke-width="1"/>
<text x="50.7" y="499.1" text-anchor="middle" font-family='"Liberation Sans",sans-serif' font-size="12.5" fill="#111">7</text>
<line x1="63.3" y1="507.1" x2="66.1" y2="507.1" stroke="#555" stroke-width="1"/>
<line x1="296" y1="507.1" x2="298.8" y2="507.1" stroke="#555" stroke-width="1"/>
<text x="50.7" y="514.4" text-anchor="middle" font-family='"Liberation Sans",sans-serif' font-size="12.5" fill="#111">8</text>
<line x1="63.3" y1="522.5" x2="66.1" y2="522.5" stroke="#555" stroke-width="1"/>
<line x1="296" y1="522.5" x2="298.8" y2="522.5" stroke="#555" stroke-width="1"/>
<text x="50.7" y="529.8" text-anchor="middle" font-family='"Liberation Sans",sans-serif' font-size="12.5" fill="#111">9</text>
<line x1="63.3" y1="537.8" x2="66.1" y2="537.8" stroke="#555" stroke-width="1"/>
<line x1="296" y1="537.8" x2="298.8" y2="537.8" stroke="#555" stroke-width="1"/>
<text x="50.7" y="545.1" text-anchor="middle" font-family='"Liberation Sans",sans-serif' font-size="12.5" fill="#111">10</text>
<line x1="63.3" y1="553.1" x2="66.1" y2="553.1" stroke="#555" stroke-width="1"/>
<line x1="296" y1="553.1" x2="298.8" y2="553.1" stroke="#555" stroke-width="1"/>
<text x="50.7" y="560.4" text-anchor="middle" font-family='"Liberation Sans",sans-serif' font-size="12.5" fill="#111">11</text>
<line x1="63.3" y1="568.5" x2="66.1" y2="568.5" stroke="#555" stroke-width="1"/>
<line x1="296" y1="568.5" x2="298.8" y2="568.5" stroke="#555" stroke-width="1"/>
<text x="50.7" y="575.8" text-anchor="middle" font-family='"Liberation Sans",sans-serif' font-size="12.5" fill="#111">12</text>
<line x1="63.3" y1="583.9" x2="66.1" y2="583.9" stroke="#555" stroke-width="1"/>
<line x1="296" y1="583.9" x2="298.8" y2="583.9" stroke="#555" stroke-width="1"/>
<text x="50.7" y="591.1" text-anchor="middle" font-family='"Liberation Sans",sans-serif' font-size="12.5" fill="#111">13</text>
<line x1="63.3" y1="599.2" x2="66.1" y2="599.2" stroke="#555" stroke-width="1"/>
<line x1="296" y1="599.2" x2="298.8" y2="599.2" stroke="#555" stroke-width="1"/>
<text x="50.7" y="606.5" text-anchor="middle" font-family='"Liberation Sans",sans-serif' font-size="12.5" fill="#111">14</text>
<line x1="63.3" y1="614.5" x2="66.1" y2="614.5" stroke="#555" stroke-width="1"/>
<line x1="296" y1="614.5" x2="298.8" y2="614.5" stroke="#555" stroke-width="1"/>
<text x="50.7" y="621.8" text-anchor="middle" font-family='"Liberation Sans",sans-serif' font-size="12.5" fill="#111">15</text>
<text transform="translate(23.2,497) rotate(-90)" text-anchor="middle" font-family='"Liberation Sans",sans-serif' font-size="12.6" fill="#111">Frequency (Hz)</text>
<clipPath id="cpB"><rect x="66.1" y="384.5" width="200.5" height="225.3"/></clipPath>
<g clip-path="url(#cpB)"><filter id="blB" x="-5%" y="-5%" width="110%" height="110%"><feGaussianBlur stdDeviation="0.8"/></filter><g filter="url(#blB)"><g transform="translate(66.1,384.5) scale(0.9975,0.9969)" shape-rendering="crispEdges"><path fill="rgb(0,0,255)" d="M-3 12h5v1h-5zM-3 13h5v1h-5zM-3 14h5v1h-5zM-3 15h5v1h-5zM-3 16h5v1h-5zM-3 17h6v1h-6zM-3 18h6v1h-6zM-3 19h6v1h-6zM-3 20h6v1h-6zM-3 21h6v1h-6zM-3 22h6v1h-6zM-3 23h6v1h-6zM-3 24h6v1h-6zM-3 25h6v1h-6zM-3 26h6v1h-6zM-3 27h6v1h-6zM-3 28h6v1h-6zM-3 29h6v1h-6zM-3 30h7v1h-7zM-3 31h8v1h-8zM-3 32h9v1h-9zM-3 33h10v1h-10zM-3 34h9v1h-9zM-3 35h9v1h-9zM-3 36h9v1h-9zM-3 37h9v1h-9zM-3 38h9v1h-9zM-3 39h9v1h-9zM-3 40h9v1h-9zM-3 41h10v1h-10zM-3 42h9v1h-9zM-3 43h10v1h-10zM-3 44h10v1h-10zM-3 45h10v1h-10zM-3 46h10v1h-10zM-3 47h10v1h-10zM-3 48h11v1h-11zM-3 49h11v1h-11zM-3 50h11v1h-11zM-3 51h7v1h-7zM-3 52h5v1h-5zM3 88h1v1h-1zM3 89h3v1h-3zM3 90h4v1h-4zM3 91h3v1h-3zM9 100h8v1h-8zM5 101h14v1h-14zM2 102h15v1h-15zM5 103h10v1h-10zM6 104h8v1h-8zM7 105h6v1h-6zM6 106h7v1h-7zM5 107h9v1h-9zM4 108h10v1h-10zM4 109h11v1h-11zM7 110h6v1h-6zM2 119h10v1h-10zM2 120h12v1h-12zM2 121h11v1h-11zM2 122h8v1h-8zM2 123h5v1h-5zM2 124h3v1h-3zM2 125h2v1h-2zM2 126h3v1h-3zM2 127h5v1h-5zM2 128h7v1h-7zM2 129h10v1h-10zM2 130h11v1h-11zM2 131h11v1h-11zM7 132h7v1h-7zM7 133h7v1h-7zM9 134h3v1h-3zM2 137h1v1h-1zM2 138h1v1h-1zM-3 140h4v1h-4zM8 141h2v1h-2zM0 142h1v1h-1zM4 142h8v1h-8zM-1 143h15v1h-15zM-2 144h17v1h-17zM-1 145h18v1h-18zM0 146h21v1h-21zM0 147h26v1h-26zM0 148h32v1h-32zM0 149h36v1h-36zM1 150h31v1h-31zM0 151h29v1h-29zM-1 152h28v1h-28zM-3 153h29v1h-29zM-1 154h28v1h-28zM0 155h27v1h-27zM1 156h27v1h-27zM3 157h25v1h-25zM0 158h25v1h-25zM-3 159h25v1h-25zM-3 160h18v1h-18zM-3 161h17v1h-17zM-3 162h17v1h-17zM-3 163h18v1h-18zM-3 164h18v1h-18zM-3 165h19v1h-19zM-3 166h19v1h-19zM-3 167h19v1h-19zM-3 168h19v1h-19zM-3 169h19v1h-19zM-3 170h21v1h-21zM-3 171h22v1h-22zM-3 172h24v1h-24zM-3 173h31v1h-31zM-3 174h29v1h-29zM-3 175h24v1h-24zM-3 176h22v1h-22zM38 176h2v1h-2zM-3 177h19v1h-19zM35 177h7v1h-7zM-3 178h21v1h-21zM36 178h6v1h-6zM-3 179h23v1h-23zM37 179h5v1h-5zM-3 180h24v1h-24zM43 180h9v1h-9zM-3 181h23v1h-23zM38 181h16v1h-16zM-3 182h21v1h-21zM39 182h13v1h-13zM-3 183h20v1h-20zM39 183h2v1h-2zM-3 184h14v1h-14zM-3 185h11v1h-11zM-3 186h12v1h-12zM21 186h1v1h-1zM-3 187h13v1h-13zM16 187h32v1h-32zM-3 188h14v1h-14zM12 188h38v1h-38zM-3 189h54v1h-54zM-3 190h51v1h-51zM-3 191h46v1h-46zM-3 192h35v1h-35zM-3 193h31v1h-31zM-3 194h34v1h-34zM-3 195h45v1h-45zM-3 196h49v1h-49zM-3 197h53v1h-53zM-3 198h51v1h-51zM-3 199h48v1h-48zM-3 200h35v1h-35zM35 200h7v1h-7zM-3 201h33v1h-33zM-3 202h33v1h-33zM-3 203h33v1h-33zM-3 204h36v1h-36zM-3 205h32v1h-32zM-3 206h35v1h-35zM-3 207h38v1h-38zM-3 208h12v1h-12zM13 208h27v1h-27zM-3 209h9v1h-9zM19 209h24v1h-24zM66 209h3v1h-3zM-3 210h12v1h-12zM13 210h30v1h-30zM-3 211h47v1h-47zM-3 212h48v1h-48zM-3 213h55v1h-55zM-3 214h48v1h-48zM-3 215h47v1h-47zM-3 216h45v1h-45zM-3 217h32v1h-32zM-3 218h32v1h-32zM-3 219h31v1h-31zM-3 220h33v1h-33zM-3 221h35v1h-35zM-3 222h36v1h-36zM-3 223h35v1h-35zM0 224h31v1h-31zM1 225h30v1h-30zM-3 226h35v1h-35zM-3 227h37v1h-37zM-3 228h54v1h-54z"/><path fill="rgb(0,40,235)" d="M2 12h2v1h-2zM2 13h2v1h-2zM2 14h3v1h-3zM2 15h3v1h-3zM2 16h3v1h-3zM3 17h2v1h-2zM3 18h2v1h-2zM3 19h2v1h-2zM3 20h2v1h-2zM3 21h3v1h-3zM3 22h3v1h-3zM3 23h3v1h-3zM3 24h3v1h-3zM3 25h3v1h-3zM3 26h4v1h-4zM3 27h4v1h-4zM3 28h5v1h-5zM3 29h6v1h-6zM4 30h6v1h-6zM5 31h6v1h-6zM6 32h5v1h-5zM7 33h5v1h-5zM6 34h6v1h-6zM6 35h6v1h-6zM6 36h6v1h-6zM6 37h6v1h-6zM6 38h7v1h-7zM6 39h7v1h-7zM6 40h8v1h-8zM7 41h7v1h-7zM6 42h8v1h-8zM7 43h7v1h-7zM7 44h8v1h-8zM7 45h8v1h-8zM7 46h8v1h-8zM7 47h9v1h-9zM8 48h8v1h-8zM8 49h10v1h-10zM8 50h10v1h-10zM4 51h12v1h-12zM2 52h12v1h-12zM-3 53h14v1h-14zM-3 54h11v1h-11zM-3 55h8v1h-8zM41 78h7v1h-7zM25 79h25v1h-25zM17 80h34v1h-34zM7 81h45v1h-45zM3 82h50v1h-50zM3 83h49v1h-49zM3 84h48v1h-48zM3 85h46v1h-46zM3 86h47v1h-47zM3 87h49v1h-49zM4 88h54v1h-54zM6 89h56v1h-56zM7 90h57v1h-57zM6 91h49v1h-49zM3 92h48v1h-48zM3 93h46v1h-46zM3 94h47v1h-47zM3 95h47v1h-47zM3 96h47v1h-47zM63 96h5v1h-5zM3 97h46v1h-46zM61 97h8v1h-8zM3 98h47v1h-47zM63 98h5v1h-5zM3 99h48v1h-48zM2 100h7v1h-7zM17 100h36v1h-36zM2 101h3v1h-3zM19 101h36v1h-36zM17 102h40v1h-40zM2 103h3v1h-3zM15 103h44v1h-44zM2 104h4v1h-4zM14 104h47v1h-47zM2 105h5v1h-5zM13 105h49v1h-49zM80 105h2v1h-2zM2 106h4v1h-4zM13 106h49v1h-49zM2 107h3v1h-3zM14 107h48v1h-48zM2 108h2v1h-2zM14 108h48v1h-48zM2 109h2v1h-2zM15 109h47v1h-47zM2 110h5v1h-5zM13 110h48v1h-48zM2 111h59v1h-59zM2 112h58v1h-58zM2 113h58v1h-58zM2 114h59v1h-59zM2 115h59v1h-59zM2 116h59v1h-59zM2 117h59v1h-59zM2 118h59v1h-59zM12 119h50v1h-50zM14 120h49v1h-49zM13 121h50v1h-50zM10 122h54v1h-54zM7 123h59v1h-59zM5 124h62v1h-62zM4 125h64v1h-64zM5 126h64v1h-64zM7 127h64v1h-64zM9 128h64v1h-64zM12 129h62v1h-62zM13 130h59v1h-59zM13 131h55v1h-55zM2 132h5v1h-5zM14 132h51v1h-51zM2 133h5v1h-5zM14 133h51v1h-51zM2 134h7v1h-7zM12 134h53v1h-53zM2 135h63v1h-63zM2 136h62v1h-62zM3 137h57v1h-57zM3 138h61v1h-61zM2 139h67v1h-67zM76 139h7v1h-7zM1 140h83v1h-83zM-3 141h11v1h-11zM10 141h75v1h-75zM-3 142h3v1h-3zM1 142h3v1h-3zM12 142h72v1h-72zM-3 143h2v1h-2zM14 143h68v1h-68zM-3 144h1v1h-1zM15 144h62v1h-62zM-3 145h2v1h-2zM17 145h55v1h-55zM-3 146h3v1h-3zM21 146h50v1h-50zM-3 147h3v1h-3zM26 147h45v1h-45zM-3 148h3v1h-3zM32 148h33v1h-33zM-3 149h3v1h-3zM36 149h28v1h-28zM-3 150h4v1h-4zM32 150h34v1h-34zM-3 151h3v1h-3zM29 151h38v1h-38zM80 151h2v1h-2zM-3 152h2v1h-2zM27 152h56v1h-56zM26 153h59v1h-59zM-3 154h2v1h-2zM27 154h58v1h-58zM-3 155h3v1h-3zM27 155h57v1h-57zM-3 156h4v1h-4zM28 156h56v1h-56zM-3 157h6v1h-6zM28 157h56v1h-56zM-3 158h3v1h-3zM25 158h59v1h-59zM22 159h61v1h-61zM15 160h67v1h-67zM14 161h61v1h-61zM14 162h62v1h-62zM15 163h64v1h-64zM15 164h66v1h-66zM93 164h2v1h-2zM16 165h67v1h-67zM89 165h8v1h-8zM16 166h70v1h-70zM93 166h1v1h-1zM16 167h70v1h-70zM16 168h70v1h-70zM16 169h70v1h-70zM18 170h68v1h-68zM19 171h68v1h-68zM21 172h65v1h-65zM28 173h57v1h-57zM26 174h59v1h-59zM21 175h65v1h-65zM19 176h19v1h-19zM40 176h47v1h-47zM16 177h19v1h-19zM42 177h45v1h-45zM18 178h18v1h-18zM42 178h45v1h-45zM20 179h17v1h-17zM42 179h45v1h-45zM21 180h22v1h-22zM52 180h34v1h-34zM91 180h5v1h-5zM20 181h18v1h-18zM54 181h33v1h-33zM88 181h10v1h-10zM18 182h21v1h-21zM52 182h44v1h-44zM17 183h22v1h-22zM41 183h54v1h-54zM11 184h83v1h-83zM8 185h86v1h-86zM9 186h12v1h-12zM22 186h73v1h-73zM10 187h6v1h-6zM48 187h47v1h-47zM11 188h1v1h-1zM50 188h45v1h-45zM51 189h45v1h-45zM48 190h45v1h-45zM43 191h48v1h-48zM32 192h58v1h-58zM28 193h60v1h-60zM31 194h58v1h-58zM42 195h48v1h-48zM46 196h45v1h-45zM50 197h43v1h-43zM48 198h46v1h-46zM45 199h50v1h-50zM32 200h3v1h-3zM42 200h53v1h-53zM30 201h66v1h-66zM30 202h67v1h-67zM30 203h69v1h-69zM33 204h73v1h-73zM29 205h81v1h-81zM32 206h75v1h-75zM35 207h67v1h-67zM9 208h4v1h-4zM40 208h59v1h-59zM6 209h13v1h-13zM43 209h23v1h-23zM69 209h28v1h-28zM9 210h4v1h-4zM43 210h55v1h-55zM44 211h57v1h-57zM45 212h60v1h-60zM52 213h55v1h-55zM45 214h58v1h-58zM44 215h56v1h-56zM42 216h55v1h-55zM29 217h64v1h-64zM29 218h63v1h-63zM28 219h64v1h-64zM30 220h64v1h-64zM32 221h65v1h-65zM33 222h68v1h-68zM32 223h69v1h-69zM-3 224h3v1h-3zM31 224h70v1h-70zM-3 225h4v1h-4zM31 225h70v1h-70zM32 226h71v1h-71zM34 227h71v1h-71zM51 228h61v1h-61z"/><path fill="rgb(0,80,200)" d="M4 13h2v1h-2zM5 14h1v1h-1zM5 15h1v1h-1zM5 16h2v1h-2zM5 17h2v1h-2zM5 18h2v1h-2zM5 19h2v1h-2zM5 20h2v1h-2zM6 21h1v1h-1zM6 22h2v1h-2zM6 23h2v1h-2zM6 24h3v1h-3zM6 25h3v1h-3zM7 26h3v1h-3zM7 27h3v1h-3zM8 28h3v1h-3zM9 29h2v1h-2zM10 30h2v1h-2zM11 31h2v1h-2zM11 32h3v1h-3zM12 33h2v1h-2zM12 34h2v1h-2zM12 35h3v1h-3zM12 36h3v1h-3zM12 37h3v1h-3zM13 38h3v1h-3zM13 39h3v1h-3zM14 40h3v1h-3zM14 41h4v1h-4zM14 42h4v1h-4zM14 43h4v1h-4zM15 44h3v1h-3zM15 45h3v1h-3zM15 46h4v1h-4zM16 47h4v1h-4zM16 48h6v1h-6zM18 49h6v1h-6zM18 50h5v1h-5zM16 51h4v1h-4zM14 52h4v1h-4zM11 53h5v1h-5zM8 54h6v1h-6zM5 55h8v1h-8zM3 56h6v1h-6zM6 57h2v1h-2zM103 57h9v1h-9zM6 58h2v1h-2zM83 58h32v1h-32zM6 59h2v1h-2zM4 60h4v1h-4zM4 61h3v1h-3zM6 77h2v1h-2zM36 77h20v1h-20zM77 77h5v1h-5zM3 78h38v1h-38zM48 78h15v1h-15zM3 79h22v1h-22zM50 79h13v1h-13zM3 80h14v1h-14zM51 80h12v1h-12zM3 81h4v1h-4zM52 81h12v1h-12zM53 82h14v1h-14zM52 83h16v1h-16zM51 84h18v1h-18zM49 85h20v1h-20zM50 86h19v1h-19zM52 87h17v1h-17zM58 88h11v1h-11zM62 89h7v1h-7zM64 90h6v1h-6zM55 91h16v1h-16zM51 92h20v1h-20zM49 93h23v1h-23zM50 94h23v1h-23zM50 95h24v1h-24zM50 96h13v1h-13zM68 96h6v1h-6zM49 97h12v1h-12zM69 97h5v1h-5zM50 98h13v1h-13zM68 98h6v1h-6zM51 99h24v1h-24zM53 100h21v1h-21zM55 101h18v1h-18zM57 102h20v1h-20zM59 103h23v1h-23zM61 104h23v1h-23zM62 105h18v1h-18zM82 105h3v1h-3zM62 106h23v1h-23zM62 107h23v1h-23zM62 108h23v1h-23zM62 109h17v1h-17zM94 109h8v1h-8zM61 110h19v1h-19zM96 110h6v1h-6zM61 111h19v1h-19zM99 111h2v1h-2zM60 112h20v1h-20zM60 113h20v1h-20zM61 114h21v1h-21zM61 115h23v1h-23zM61 116h24v1h-24zM61 117h25v1h-25zM61 118h26v1h-26zM62 119h26v1h-26zM63 120h25v1h-25zM63 121h26v1h-26zM99 121h3v1h-3zM64 122h24v1h-24zM66 123h17v1h-17zM67 124h14v1h-14zM68 125h11v1h-11zM69 126h13v1h-13zM71 127h14v1h-14zM73 128h14v1h-14zM74 129h16v1h-16zM91 129h3v1h-3zM72 130h15v1h-15zM68 131h16v1h-16zM65 132h15v1h-15zM65 133h13v1h-13zM65 134h16v1h-16zM65 135h23v1h-23zM64 136h26v1h-26zM60 137h30v1h-30zM64 138h27v1h-27zM69 139h7v1h-7zM83 139h8v1h-8zM84 140h7v1h-7zM85 141h6v1h-6zM109 141h2v1h-2zM84 142h7v1h-7zM109 142h2v1h-2zM82 143h9v1h-9zM77 144h15v1h-15zM72 145h20v1h-20zM71 146h20v1h-20zM71 147h20v1h-20zM65 148h25v1h-25zM64 149h25v1h-25zM66 150h23v1h-23zM67 151h13v1h-13zM82 151h9v1h-9zM83 152h9v1h-9zM85 153h8v1h-8zM85 154h9v1h-9zM84 155h11v1h-11zM84 156h13v1h-13zM84 157h14v1h-14zM84 158h15v1h-15zM83 159h17v1h-17zM82 160h19v1h-19zM75 161h26v1h-26zM76 162h26v1h-26zM79 163h23v1h-23zM81 164h12v1h-12zM95 164h8v1h-8zM83 165h6v1h-6zM97 165h6v1h-6zM86 166h7v1h-7zM94 166h10v1h-10zM86 167h20v1h-20zM86 168h26v1h-26zM86 169h27v1h-27zM86 170h19v1h-19zM87 171h16v1h-16zM86 172h17v1h-17zM85 173h18v1h-18zM85 174h18v1h-18zM86 175h18v1h-18zM87 176h19v1h-19zM87 177h20v1h-20zM87 178h22v1h-22zM87 179h31v1h-31zM86 180h5v1h-5zM96 180h24v1h-24zM87 181h1v1h-1zM98 181h23v1h-23zM96 182h24v1h-24zM95 183h22v1h-22zM94 184h23v1h-23zM94 185h23v1h-23zM118 185h8v1h-8zM95 186h20v1h-20zM95 187h17v1h-17zM95 188h12v1h-12zM96 189h9v1h-9zM93 190h12v1h-12zM91 191h15v1h-15zM90 192h16v1h-16zM88 193h23v1h-23zM89 194h25v1h-25zM90 195h25v1h-25zM91 196h25v1h-25zM93 197h24v1h-24zM94 198h22v1h-22zM95 199h21v1h-21zM95 200h20v1h-20zM96 201h18v1h-18zM97 202h21v1h-21zM99 203h21v1h-21zM106 204h15v1h-15zM110 205h12v1h-12zM107 206h15v1h-15zM102 207h19v1h-19zM99 208h19v1h-19zM97 209h16v1h-16zM98 210h16v1h-16zM134 210h3v1h-3zM101 211h17v1h-17zM135 211h1v1h-1zM105 212h17v1h-17zM107 213h18v1h-18zM103 214h20v1h-20zM100 215h20v1h-20zM97 216h21v1h-21zM93 217h22v1h-22zM92 218h25v1h-25zM92 219h26v1h-26zM94 220h25v1h-25zM97 221h22v1h-22zM101 222h19v1h-19zM101 223h20v1h-20zM101 224h21v1h-21zM101 225h22v1h-22zM103 226h21v1h-21zM105 227h20v1h-20zM112 228h14v1h-14z"/><path fill="rgb(0,115,160)" d="M6 13h2v1h-2zM6 14h2v1h-2zM6 15h2v1h-2zM7 16h1v1h-1zM7 17h2v1h-2zM7 18h2v1h-2zM7 19h2v1h-2zM7 20h2v1h-2zM7 21h3v1h-3zM8 22h2v1h-2zM8 23h3v1h-3zM9 24h2v1h-2zM9 25h2v1h-2zM10 26h2v1h-2zM10 27h2v1h-2zM11 28h2v1h-2zM11 29h2v1h-2zM12 30h2v1h-2zM13 31h2v1h-2zM14 32h1v1h-1zM14 33h2v1h-2zM14 34h2v1h-2zM15 35h2v1h-2zM15 36h2v1h-2zM15 37h2v1h-2zM16 38h2v1h-2zM16 39h3v1h-3zM17 40h4v1h-4zM18 41h4v1h-4zM18 42h4v1h-4zM18 43h4v1h-4zM18 44h3v1h-3zM18 45h3v1h-3zM19 46h3v1h-3zM20 47h4v1h-4zM22 48h4v1h-4zM24 49h3v1h-3zM23 50h3v1h-3zM20 51h4v1h-4zM18 52h5v1h-5zM16 53h4v1h-4zM14 54h5v1h-5zM13 55h5v1h-5zM97 55h6v1h-6zM9 56h2v1h-2zM90 56h17v1h-17zM3 57h3v1h-3zM8 57h1v1h-1zM81 57h22v1h-22zM3 58h3v1h-3zM8 58h1v1h-1zM78 58h5v1h-5zM115 58h11v1h-11zM3 59h3v1h-3zM8 59h1v1h-1zM78 59h49v1h-49zM3 60h1v1h-1zM8 60h1v1h-1zM78 60h47v1h-47zM3 61h1v1h-1zM7 61h1v1h-1zM79 61h17v1h-17zM3 62h5v1h-5zM79 62h5v1h-5zM5 63h2v1h-2zM79 63h3v1h-3zM5 64h2v1h-2zM5 65h2v1h-2zM5 66h2v1h-2zM5 67h2v1h-2zM5 68h2v1h-2zM5 69h2v1h-2zM6 70h1v1h-1zM6 71h1v1h-1zM67 72h6v1h-6zM65 73h9v1h-9zM65 74h16v1h-16zM6 75h1v1h-1zM63 75h21v1h-21zM4 76h4v1h-4zM30 76h55v1h-55zM3 77h3v1h-3zM8 77h28v1h-28zM56 77h21v1h-21zM82 77h3v1h-3zM63 78h20v1h-20zM63 79h18v1h-18zM63 80h10v1h-10zM64 81h8v1h-8zM67 82h5v1h-5zM68 83h5v1h-5zM69 84h4v1h-4zM69 85h5v1h-5zM69 86h5v1h-5zM69 87h5v1h-5zM69 88h5v1h-5zM69 89h6v1h-6zM70 90h6v1h-6zM71 91h7v1h-7zM71 92h9v1h-9zM72 93h11v1h-11zM73 94h8v1h-8zM74 95h5v1h-5zM74 96h4v1h-4zM74 97h4v1h-4zM74 98h5v1h-5zM75 99h5v1h-5zM74 100h7v1h-7zM73 101h12v1h-12zM77 102h10v1h-10zM82 103h6v1h-6zM84 104h4v1h-4zM85 105h3v1h-3zM85 106h4v1h-4zM85 107h17v1h-17zM85 108h20v1h-20zM79 109h15v1h-15zM102 109h5v1h-5zM80 110h16v1h-16zM102 110h5v1h-5zM80 111h9v1h-9zM91 111h8v1h-8zM101 111h5v1h-5zM80 112h9v1h-9zM93 112h15v1h-15zM80 113h9v1h-9zM96 113h14v1h-14zM82 114h8v1h-8zM97 114h12v1h-12zM84 115h6v1h-6zM98 115h11v1h-11zM85 116h5v1h-5zM99 116h9v1h-9zM86 117h4v1h-4zM99 117h9v1h-9zM87 118h3v1h-3zM98 118h11v1h-11zM88 119h4v1h-4zM96 119h13v1h-13zM88 120h22v1h-22zM89 121h10v1h-10zM102 121h9v1h-9zM88 122h23v1h-23zM83 123h28v1h-28zM81 124h28v1h-28zM79 125h28v1h-28zM82 126h27v1h-27zM85 127h26v1h-26zM87 128h25v1h-25zM90 129h1v1h-1zM94 129h19v1h-19zM87 130h26v1h-26zM84 131h28v1h-28zM80 132h31v1h-31zM78 133h30v1h-30zM81 134h37v1h-37zM88 135h33v1h-33zM90 136h31v1h-31zM90 137h30v1h-30zM91 138h28v1h-28zM91 139h26v1h-26zM91 140h25v1h-25zM91 141h4v1h-4zM96 141h13v1h-13zM111 141h5v1h-5zM91 142h18v1h-18zM111 142h4v1h-4zM91 143h24v1h-24zM92 144h23v1h-23zM92 145h23v1h-23zM91 146h25v1h-25zM91 147h29v1h-29zM90 148h41v1h-41zM89 149h49v1h-49zM89 150h49v1h-49zM91 151h45v1h-45zM92 152h31v1h-31zM93 153h28v1h-28zM94 154h27v1h-27zM95 155h26v1h-26zM97 156h25v1h-25zM98 157h24v1h-24zM99 158h25v1h-25zM100 159h27v1h-27zM101 160h29v1h-29zM101 161h29v1h-29zM102 162h18v1h-18zM102 163h17v1h-17zM103 164h14v1h-14zM103 165h12v1h-12zM104 166h13v1h-13zM106 167h20v1h-20zM112 168h16v1h-16zM113 169h17v1h-17zM105 170h25v1h-25zM103 171h28v1h-28zM103 172h27v1h-27zM103 173h27v1h-27zM103 174h25v1h-25zM104 175h21v1h-21zM106 176h17v1h-17zM107 177h15v1h-15zM134 177h7v1h-7zM109 178h15v1h-15zM118 179h10v1h-10zM120 180h11v1h-11zM121 181h9v1h-9zM120 182h11v1h-11zM117 183h15v1h-15zM117 184h19v1h-19zM117 185h1v1h-1zM126 185h13v1h-13zM115 186h24v1h-24zM112 187h25v1h-25zM107 188h21v1h-21zM105 189h12v1h-12zM105 190h18v1h-18zM106 191h18v1h-18zM106 192h19v1h-19zM111 193h14v1h-14zM114 194h10v1h-10zM115 195h9v1h-9zM116 196h10v1h-10zM117 197h11v1h-11zM116 198h14v1h-14zM116 199h13v1h-13zM115 200h13v1h-13zM114 201h13v1h-13zM118 202h12v1h-12zM120 203h12v1h-12zM121 204h13v1h-13zM122 205h15v1h-15zM122 206h17v1h-17zM121 207h20v1h-20zM118 208h23v1h-23zM113 209h28v1h-28zM114 210h20v1h-20zM137 210h4v1h-4zM118 211h17v1h-17zM136 211h5v1h-5zM122 212h19v1h-19zM125 213h28v1h-28zM123 214h29v1h-29zM120 215h31v1h-31zM118 216h33v1h-33zM115 217h36v1h-36zM117 218h33v1h-33zM118 219h32v1h-32zM119 220h28v1h-28zM119 221h26v1h-26zM162 221h5v1h-5zM120 222h26v1h-26zM161 222h7v1h-7zM121 223h28v1h-28zM157 223h12v1h-12zM122 224h47v1h-47zM123 225h47v1h-47zM124 226h38v1h-38zM125 227h28v1h-28zM126 228h20v1h-20zM151 228h1v1h-1z"/><path fill="rgb(0,145,115)" d="M8 14h2v1h-2zM8 15h2v1h-2zM8 16h2v1h-2zM9 17h1v1h-1zM9 18h2v1h-2zM9 19h2v1h-2zM9 20h2v1h-2zM10 21h2v1h-2zM10 22h2v1h-2zM11 23h2v1h-2zM11 24h3v1h-3zM11 25h3v1h-3zM12 26h3v1h-3zM12 27h3v1h-3zM13 28h2v1h-2zM13 29h3v1h-3zM14 30h2v1h-2zM15 31h2v1h-2zM15 32h2v1h-2zM16 33h2v1h-2zM16 34h2v1h-2zM17 35h2v1h-2zM17 36h2v1h-2zM17 37h3v1h-3zM18 38h3v1h-3zM19 39h4v1h-4zM21 40h3v1h-3zM22 41h3v1h-3zM22 42h3v1h-3zM22 43h2v1h-2zM21 44h3v1h-3zM21 45h2v1h-2zM22 46h3v1h-3zM24 47h3v1h-3zM26 48h3v1h-3zM27 49h3v1h-3zM26 50h4v1h-4zM24 51h4v1h-4zM23 52h4v1h-4zM20 53h5v1h-5zM92 53h5v1h-5zM19 54h7v1h-7zM86 54h14v1h-14zM18 55h9v1h-9zM84 55h13v1h-13zM11 56h8v1h-8zM79 56h11v1h-11zM9 57h1v1h-1zM76 57h5v1h-5zM112 57h15v1h-15zM9 58h1v1h-1zM73 58h5v1h-5zM126 58h4v1h-4zM9 59h1v1h-1zM72 59h6v1h-6zM127 59h3v1h-3zM9 60h1v1h-1zM71 60h7v1h-7zM125 60h3v1h-3zM8 61h1v1h-1zM71 61h8v1h-8zM96 61h13v1h-13zM8 62h1v1h-1zM71 62h8v1h-8zM84 62h15v1h-15zM3 63h2v1h-2zM7 63h1v1h-1zM68 63h11v1h-11zM82 63h10v1h-10zM3 64h2v1h-2zM7 64h1v1h-1zM66 64h26v1h-26zM3 65h2v1h-2zM7 65h1v1h-1zM64 65h28v1h-28zM3 66h2v1h-2zM7 66h1v1h-1zM65 66h16v1h-16zM86 66h7v1h-7zM3 67h2v1h-2zM7 67h1v1h-1zM66 67h13v1h-13zM3 68h2v1h-2zM7 68h1v1h-1zM67 68h10v1h-10zM3 69h2v1h-2zM7 69h1v1h-1zM67 69h2v1h-2zM70 69h6v1h-6zM3 70h3v1h-3zM7 70h1v1h-1zM64 70h13v1h-13zM3 71h3v1h-3zM63 71h16v1h-16zM3 72h4v1h-4zM61 72h6v1h-6zM73 72h11v1h-11zM3 73h4v1h-4zM37 73h8v1h-8zM59 73h6v1h-6zM74 73h13v1h-13zM4 74h3v1h-3zM38 74h8v1h-8zM58 74h7v1h-7zM81 74h8v1h-8zM3 75h3v1h-3zM7 75h1v1h-1zM29 75h34v1h-34zM84 75h5v1h-5zM3 76h1v1h-1zM8 76h22v1h-22zM85 76h4v1h-4zM85 77h3v1h-3zM83 78h4v1h-4zM81 79h4v1h-4zM73 80h11v1h-11zM72 81h8v1h-8zM72 82h6v1h-6zM73 83h5v1h-5zM73 84h5v1h-5zM74 85h5v1h-5zM74 86h5v1h-5zM74 87h6v1h-6zM74 88h6v1h-6zM75 89h5v1h-5zM76 90h6v1h-6zM78 91h7v1h-7zM80 92h7v1h-7zM83 93h5v1h-5zM99 93h1v1h-1zM81 94h6v1h-6zM97 94h4v1h-4zM79 95h7v1h-7zM95 95h6v1h-6zM78 96h6v1h-6zM94 96h8v1h-8zM78 97h3v1h-3zM94 97h9v1h-9zM79 98h9v1h-9zM93 98h10v1h-10zM80 99h23v1h-23zM81 100h22v1h-22zM85 101h18v1h-18zM87 102h15v1h-15zM88 103h14v1h-14zM88 104h14v1h-14zM88 105h7v1h-7zM96 105h6v1h-6zM89 106h16v1h-16zM102 107h6v1h-6zM105 108h6v1h-6zM107 109h7v1h-7zM107 110h8v1h-8zM89 111h2v1h-2zM106 111h11v1h-11zM89 112h4v1h-4zM108 112h11v1h-11zM89 113h7v1h-7zM110 113h11v1h-11zM90 114h7v1h-7zM109 114h11v1h-11zM90 115h8v1h-8zM109 115h10v1h-10zM90 116h9v1h-9zM108 116h10v1h-10zM90 117h9v1h-9zM108 117h9v1h-9zM90 118h8v1h-8zM109 118h7v1h-7zM92 119h4v1h-4zM109 119h6v1h-6zM110 120h5v1h-5zM111 121h5v1h-5zM111 122h5v1h-5zM111 123h4v1h-4zM109 124h6v1h-6zM107 125h7v1h-7zM109 126h7v1h-7zM111 127h7v1h-7zM112 128h7v1h-7zM113 129h7v1h-7zM113 130h8v1h-8zM112 131h11v1h-11zM111 132h15v1h-15zM108 133h22v1h-22zM118 134h11v1h-11zM121 135h7v1h-7zM121 136h6v1h-6zM120 137h7v1h-7zM119 138h7v1h-7zM117 139h8v1h-8zM116 140h9v1h-9zM95 141h1v1h-1zM116 141h6v1h-6zM115 142h7v1h-7zM115 143h7v1h-7zM115 144h7v1h-7zM115 145h7v1h-7zM116 146h15v1h-15zM120 147h19v1h-19zM131 148h10v1h-10zM138 149h4v1h-4zM138 150h4v1h-4zM136 151h5v1h-5zM123 152h18v1h-18zM121 153h20v1h-20zM121 154h18v1h-18zM121 155h16v1h-16zM122 156h14v1h-14zM122 157h9v1h-9zM124 158h9v1h-9zM127 159h7v1h-7zM130 160h5v1h-5zM130 161h9v1h-9zM120 162h17v1h-17zM119 163h18v1h-18zM117 164h18v1h-18zM115 165h19v1h-19zM140 165h2v1h-2zM117 166h18v1h-18zM126 167h10v1h-10zM128 168h9v1h-9zM150 168h5v1h-5zM130 169h7v1h-7zM149 169h8v1h-8zM130 170h7v1h-7zM150 170h7v1h-7zM131 171h6v1h-6zM150 171h8v1h-8zM130 172h5v1h-5zM150 172h6v1h-6zM130 173h4v1h-4zM151 173h2v1h-2zM128 174h6v1h-6zM125 175h33v1h-33zM162 175h4v1h-4zM123 176h36v1h-36zM160 176h7v1h-7zM122 177h12v1h-12zM141 177h28v1h-28zM176 177h3v1h-3zM124 178h35v1h-35zM160 178h9v1h-9zM128 179h31v1h-31zM160 179h8v1h-8zM131 180h27v1h-27zM160 180h8v1h-8zM130 181h7v1h-7zM148 181h9v1h-9zM162 181h5v1h-5zM131 182h26v1h-26zM132 183h25v1h-25zM136 184h21v1h-21zM139 185h18v1h-18zM139 186h21v1h-21zM137 187h23v1h-23zM128 188h31v1h-31zM117 189h42v1h-42zM123 190h33v1h-33zM124 191h15v1h-15zM125 192h10v1h-10zM125 193h12v1h-12zM124 194h17v1h-17zM124 195h22v1h-22zM126 196h19v1h-19zM128 197h17v1h-17zM130 198h15v1h-15zM129 199h18v1h-18zM128 200h20v1h-20zM178 200h3v1h-3zM127 201h24v1h-24zM175 201h9v1h-9zM130 202h21v1h-21zM176 202h6v1h-6zM132 203h19v1h-19zM176 203h5v1h-5zM134 204h18v1h-18zM177 204h3v1h-3zM137 205h13v1h-13zM179 205h1v1h-1zM139 206h10v1h-10zM141 207h7v1h-7zM141 208h7v1h-7zM165 208h1v1h-1zM141 209h8v1h-8zM157 209h15v1h-15zM141 210h10v1h-10zM154 210h16v1h-16zM141 211h25v1h-25zM141 212h23v1h-23zM153 213h9v1h-9zM152 214h11v1h-11zM151 215h12v1h-12zM151 216h12v1h-12zM151 217h12v1h-12zM178 217h3v1h-3zM150 218h19v1h-19zM176 218h5v1h-5zM150 219h31v1h-31zM147 220h29v1h-29zM145 221h17v1h-17zM167 221h9v1h-9zM146 222h15v1h-15zM168 222h8v1h-8zM149 223h8v1h-8zM169 223h8v1h-8zM169 224h9v1h-9zM170 225h12v1h-12zM162 226h18v1h-18zM153 227h17v1h-17zM146 228h5v1h-5zM152 228h10v1h-10z"/><path fill="rgb(0,185,60)" d="M10 14h2v1h-2zM10 15h2v1h-2zM10 16h3v1h-3zM10 17h3v1h-3zM11 18h2v1h-2zM11 19h2v1h-2zM11 20h2v1h-2zM12 21h2v1h-2zM12 22h3v1h-3zM13 23h4v1h-4zM14 24h4v1h-4zM14 25h4v1h-4zM26 25h2v1h-2zM15 26h3v1h-3zM15 27h3v1h-3zM15 28h3v1h-3zM16 29h2v1h-2zM16 30h2v1h-2zM17 31h2v1h-2zM17 32h2v1h-2zM18 33h2v1h-2zM18 34h2v1h-2zM19 35h2v1h-2zM19 36h3v1h-3zM20 37h3v1h-3zM21 38h5v1h-5zM23 39h5v1h-5zM44 39h4v1h-4zM24 40h4v1h-4zM40 40h14v1h-14zM25 41h7v1h-7zM34 41h21v1h-21zM25 42h3v1h-3zM36 42h18v1h-18zM24 43h3v1h-3zM39 43h1v1h-1zM49 43h4v1h-4zM24 44h3v1h-3zM23 45h3v1h-3zM25 46h3v1h-3zM27 47h4v1h-4zM68 47h4v1h-4zM29 48h4v1h-4zM66 48h11v1h-11zM30 49h5v1h-5zM50 49h3v1h-3zM64 49h22v1h-22zM30 50h6v1h-6zM48 50h6v1h-6zM63 50h10v1h-10zM77 50h12v1h-12zM28 51h27v1h-27zM62 51h4v1h-4zM69 51h1v1h-1zM77 51h15v1h-15zM27 52h33v1h-33zM61 52h4v1h-4zM77 52h17v1h-17zM25 53h39v1h-39zM77 53h15v1h-15zM26 54h33v1h-33zM76 54h10v1h-10zM27 55h18v1h-18zM74 55h10v1h-10zM19 56h19v1h-19zM69 56h10v1h-10zM107 56h18v1h-18zM10 57h20v1h-20zM68 57h8v1h-8zM127 57h4v1h-4zM10 58h2v1h-2zM66 58h7v1h-7zM130 58h3v1h-3zM10 59h2v1h-2zM65 59h7v1h-7zM130 59h3v1h-3zM10 60h3v1h-3zM65 60h6v1h-6zM128 60h4v1h-4zM9 61h5v1h-5zM62 61h9v1h-9zM109 61h19v1h-19zM9 62h1v1h-1zM57 62h14v1h-14zM99 62h9v1h-9zM8 63h1v1h-1zM56 63h12v1h-12zM92 63h10v1h-10zM8 64h1v1h-1zM58 64h8v1h-8zM92 64h9v1h-9zM8 65h1v1h-1zM59 65h5v1h-5zM92 65h9v1h-9zM8 66h1v1h-1zM27 66h16v1h-16zM60 66h5v1h-5zM81 66h5v1h-5zM93 66h6v1h-6zM8 67h1v1h-1zM24 67h18v1h-18zM60 67h6v1h-6zM79 67h19v1h-19zM8 68h1v1h-1zM15 68h2v1h-2zM22 68h20v1h-20zM61 68h6v1h-6zM77 68h20v1h-20zM8 69h1v1h-1zM14 69h30v1h-30zM59 69h8v1h-8zM69 69h1v1h-1zM76 69h5v1h-5zM84 69h13v1h-13zM8 70h1v1h-1zM23 70h25v1h-25zM57 70h7v1h-7zM77 70h20v1h-20zM7 71h1v1h-1zM25 71h27v1h-27zM55 71h8v1h-8zM79 71h17v1h-17zM7 72h1v1h-1zM29 72h32v1h-32zM84 72h12v1h-12zM7 73h1v1h-1zM30 73h7v1h-7zM45 73h14v1h-14zM87 73h9v1h-9zM3 74h1v1h-1zM7 74h1v1h-1zM29 74h9v1h-9zM46 74h12v1h-12zM89 74h7v1h-7zM8 75h3v1h-3zM16 75h13v1h-13zM89 75h6v1h-6zM89 76h4v1h-4zM88 77h4v1h-4zM87 78h4v1h-4zM85 79h6v1h-6zM84 80h6v1h-6zM80 81h7v1h-7zM78 82h9v1h-9zM78 83h11v1h-11zM78 84h12v1h-12zM79 85h11v1h-11zM79 86h16v1h-16zM80 87h16v1h-16zM80 88h16v1h-16zM80 89h17v1h-17zM82 90h16v1h-16zM85 91h18v1h-18zM87 92h18v1h-18zM88 93h11v1h-11zM100 93h7v1h-7zM87 94h10v1h-10zM101 94h8v1h-8zM86 95h9v1h-9zM101 95h9v1h-9zM84 96h10v1h-10zM102 96h10v1h-10zM81 97h13v1h-13zM103 97h11v1h-11zM88 98h5v1h-5zM103 98h11v1h-11zM103 99h11v1h-11zM-3 100h5v1h-5zM103 100h11v1h-11zM-3 101h5v1h-5zM103 101h11v1h-11zM-3 102h5v1h-5zM102 102h12v1h-12zM121 102h7v1h-7zM-3 103h5v1h-5zM102 103h10v1h-10zM120 103h6v1h-6zM-3 104h5v1h-5zM102 104h6v1h-6zM120 104h6v1h-6zM-3 105h5v1h-5zM95 105h1v1h-1zM102 105h6v1h-6zM120 105h6v1h-6zM-3 106h5v1h-5zM105 106h10v1h-10zM116 106h11v1h-11zM-3 107h5v1h-5zM108 107h21v1h-21zM-3 108h5v1h-5zM111 108h20v1h-20zM-3 109h5v1h-5zM114 109h17v1h-17zM-3 110h5v1h-5zM115 110h17v1h-17zM-3 111h5v1h-5zM117 111h16v1h-16zM-3 112h5v1h-5zM119 112h16v1h-16zM-3 113h5v1h-5zM121 113h19v1h-19zM-3 114h5v1h-5zM120 114h22v1h-22zM-3 115h5v1h-5zM119 115h23v1h-23zM-3 116h5v1h-5zM118 116h24v1h-24zM-3 117h5v1h-5zM117 117h25v1h-25zM-3 118h5v1h-5zM116 118h23v1h-23zM-3 119h5v1h-5zM115 119h19v1h-19zM-3 120h5v1h-5zM115 120h16v1h-16zM-3 121h5v1h-5zM116 121h12v1h-12zM-3 122h5v1h-5zM116 122h12v1h-12zM-3 123h5v1h-5zM115 123h10v1h-10zM-3 124h5v1h-5zM115 124h8v1h-8zM134 124h5v1h-5zM-3 125h5v1h-5zM114 125h7v1h-7zM133 125h11v1h-11zM-3 126h5v1h-5zM116 126h6v1h-6zM134 126h8v1h-8zM-3 127h5v1h-5zM118 127h5v1h-5zM-3 128h5v1h-5zM119 128h5v1h-5zM-3 129h5v1h-5zM120 129h5v1h-5zM-3 130h5v1h-5zM121 130h6v1h-6zM-3 131h5v1h-5zM123 131h9v1h-9zM-3 132h5v1h-5zM126 132h8v1h-8zM147 132h7v1h-7zM179 132h15v1h-15zM-3 133h5v1h-5zM130 133h5v1h-5zM144 133h12v1h-12zM177 133h19v1h-19zM-3 134h5v1h-5zM129 134h5v1h-5zM183 134h11v1h-11zM-3 135h5v1h-5zM128 135h5v1h-5zM-3 136h5v1h-5zM127 136h6v1h-6zM-3 137h5v1h-5zM127 137h5v1h-5zM-3 138h5v1h-5zM126 138h7v1h-7zM-3 139h5v1h-5zM125 139h10v1h-10zM125 140h15v1h-15zM163 140h3v1h-3zM122 141h45v1h-45zM122 142h42v1h-42zM122 143h25v1h-25zM149 143h10v1h-10zM122 144h24v1h-24zM151 144h5v1h-5zM122 145h31v1h-31zM131 146h18v1h-18zM139 147h9v1h-9zM141 148h7v1h-7zM142 149h6v1h-6zM170 149h11v1h-11zM142 150h7v1h-7zM168 150h12v1h-12zM141 151h9v1h-9zM163 151h16v1h-16zM141 152h9v1h-9zM157 152h20v1h-20zM141 153h9v1h-9zM155 153h21v1h-21zM139 154h11v1h-11zM155 154h20v1h-20zM137 155h13v1h-13zM155 155h16v1h-16zM136 156h9v1h-9zM152 156h7v1h-7zM162 156h4v1h-4zM131 157h11v1h-11zM150 157h5v1h-5zM133 158h23v1h-23zM134 159h23v1h-23zM170 159h3v1h-3zM135 160h23v1h-23zM171 160h5v1h-5zM139 161h19v1h-19zM164 161h5v1h-5zM173 161h10v1h-10zM137 162h20v1h-20zM177 162h2v1h-2zM137 163h21v1h-21zM135 164h24v1h-24zM134 165h6v1h-6zM142 165h18v1h-18zM135 166h27v1h-27zM136 167h34v1h-34zM137 168h13v1h-13zM155 168h22v1h-22zM137 169h12v1h-12zM157 169h26v1h-26zM137 170h13v1h-13zM157 170h20v1h-20zM137 171h13v1h-13zM158 171h7v1h-7zM166 171h9v1h-9zM135 172h15v1h-15zM156 172h16v1h-16zM134 173h17v1h-17zM153 173h17v1h-17zM134 174h37v1h-37zM158 175h4v1h-4zM166 175h10v1h-10zM159 176h1v1h-1zM167 176h24v1h-24zM169 177h7v1h-7zM179 177h15v1h-15zM203 177h1v1h-1zM159 178h1v1h-1zM169 178h22v1h-22zM159 179h1v1h-1zM168 179h18v1h-18zM158 180h2v1h-2zM168 180h8v1h-8zM137 181h11v1h-11zM157 181h5v1h-5zM167 181h8v1h-8zM157 182h18v1h-18zM157 183h16v1h-16zM157 184h15v1h-15zM157 185h15v1h-15zM160 186h14v1h-14zM160 187h16v1h-16zM159 188h19v1h-19zM159 189h25v1h-25zM156 190h23v1h-23zM195 190h1v1h-1zM139 191h39v1h-39zM194 191h4v1h-4zM135 192h41v1h-41zM194 192h5v1h-5zM203 192h1v1h-1zM137 193h39v1h-39zM195 193h4v1h-4zM202 193h2v1h-2zM141 194h34v1h-34zM195 194h2v1h-2zM203 194h1v1h-1zM146 195h28v1h-28zM186 195h7v1h-7zM145 196h26v1h-26zM176 196h4v1h-4zM181 196h3v1h-3zM145 197h24v1h-24zM175 197h9v1h-9zM145 198h25v1h-25zM173 198h13v1h-13zM147 199h40v1h-40zM148 200h30v1h-30zM181 200h8v1h-8zM202 200h2v1h-2zM151 201h24v1h-24zM184 201h7v1h-7zM194 201h10v1h-10zM151 202h25v1h-25zM182 202h6v1h-6zM151 203h13v1h-13zM166 203h10v1h-10zM181 203h6v1h-6zM152 204h8v1h-8zM167 204h10v1h-10zM180 204h5v1h-5zM150 205h8v1h-8zM168 205h11v1h-11zM180 205h5v1h-5zM149 206h36v1h-36zM148 207h40v1h-40zM148 208h17v1h-17zM166 208h11v1h-11zM181 208h14v1h-14zM149 209h8v1h-8zM172 209h5v1h-5zM182 209h22v1h-22zM151 210h3v1h-3zM170 210h7v1h-7zM183 210h21v1h-21zM166 211h11v1h-11zM183 211h21v1h-21zM164 212h13v1h-13zM187 212h5v1h-5zM197 212h7v1h-7zM162 213h16v1h-16zM199 213h5v1h-5zM163 214h24v1h-24zM202 214h2v1h-2zM163 215h27v1h-27zM163 216h29v1h-29zM163 217h15v1h-15zM181 217h11v1h-11zM169 218h7v1h-7zM181 218h12v1h-12zM181 219h14v1h-14zM197 219h6v1h-6zM176 220h28v1h-28zM176 221h28v1h-28zM176 222h28v1h-28zM177 223h26v1h-26zM178 224h17v1h-17zM182 225h10v1h-10zM180 226h12v1h-12zM170 227h21v1h-21zM201 227h3v1h-3zM162 228h27v1h-27zM195 228h9v1h-9z"/><path fill="rgb(0,235,0)" d="M-3 11h5v1h-5zM4 12h2v1h-2zM8 13h2v1h-2zM12 14h2v1h-2zM12 15h4v1h-4zM13 16h5v1h-5zM13 17h8v1h-8zM13 18h10v1h-10zM13 19h12v1h-12zM13 20h14v1h-14zM14 21h15v1h-15zM15 22h16v1h-16zM17 23h16v1h-16zM18 24h16v1h-16zM18 25h8v1h-8zM28 25h8v1h-8zM18 26h20v1h-20zM18 27h22v1h-22zM18 28h24v1h-24zM18 29h3v1h-3zM27 29h17v1h-17zM18 30h3v1h-3zM30 30h16v1h-16zM19 31h2v1h-2zM33 31h16v1h-16zM19 32h3v1h-3zM36 32h8v1h-8zM20 33h2v1h-2zM37 33h5v1h-5zM20 34h4v1h-4zM37 34h8v1h-8zM21 35h4v1h-4zM37 35h17v1h-17zM22 36h5v1h-5zM40 36h17v1h-17zM23 37h38v1h-38zM26 38h36v1h-36zM28 39h16v1h-16zM48 39h16v1h-16zM28 40h12v1h-12zM54 40h11v1h-11zM32 41h2v1h-2zM55 41h9v1h-9zM28 42h8v1h-8zM54 42h11v1h-11zM27 43h12v1h-12zM40 43h9v1h-9zM53 43h19v1h-19zM27 44h47v1h-47zM26 45h19v1h-19zM46 45h31v1h-31zM28 46h52v1h-52zM31 47h37v1h-37zM72 47h11v1h-11zM33 48h33v1h-33zM77 48h9v1h-9zM35 49h15v1h-15zM53 49h11v1h-11zM86 49h3v1h-3zM36 50h12v1h-12zM54 50h9v1h-9zM73 50h4v1h-4zM89 50h2v1h-2zM55 51h7v1h-7zM66 51h3v1h-3zM70 51h7v1h-7zM92 51h2v1h-2zM60 52h1v1h-1zM65 52h12v1h-12zM94 52h3v1h-3zM64 53h13v1h-13zM97 53h4v1h-4zM59 54h17v1h-17zM100 54h7v1h-7zM45 55h29v1h-29zM103 55h20v1h-20zM-3 56h6v1h-6zM38 56h31v1h-31zM125 56h6v1h-6zM-3 57h6v1h-6zM30 57h16v1h-16zM52 57h16v1h-16zM131 57h3v1h-3zM-3 58h6v1h-6zM12 58h31v1h-31zM51 58h15v1h-15zM133 58h3v1h-3zM-3 59h6v1h-6zM12 59h31v1h-31zM49 59h16v1h-16zM133 59h4v1h-4zM-3 60h6v1h-6zM13 60h29v1h-29zM48 60h17v1h-17zM132 60h3v1h-3zM-3 61h6v1h-6zM14 61h48v1h-48zM128 61h4v1h-4zM-3 62h6v1h-6zM10 62h47v1h-47zM108 62h16v1h-16zM-3 63h6v1h-6zM9 63h47v1h-47zM102 63h6v1h-6zM-3 64h6v1h-6zM9 64h49v1h-49zM101 64h9v1h-9zM-3 65h6v1h-6zM9 65h50v1h-50zM101 65h10v1h-10zM-3 66h6v1h-6zM9 66h18v1h-18zM43 66h17v1h-17zM99 66h11v1h-11zM-3 67h6v1h-6zM9 67h15v1h-15zM42 67h18v1h-18zM98 67h9v1h-9zM-3 68h6v1h-6zM9 68h6v1h-6zM17 68h5v1h-5zM42 68h19v1h-19zM97 68h7v1h-7zM-3 69h6v1h-6zM9 69h5v1h-5zM44 69h15v1h-15zM81 69h3v1h-3zM97 69h6v1h-6zM-3 70h6v1h-6zM9 70h14v1h-14zM48 70h9v1h-9zM97 70h5v1h-5zM-3 71h6v1h-6zM8 71h1v1h-1zM13 71h12v1h-12zM52 71h3v1h-3zM96 71h5v1h-5zM-3 72h6v1h-6zM8 72h1v1h-1zM16 72h13v1h-13zM96 72h4v1h-4zM-3 73h6v1h-6zM8 73h1v1h-1zM23 73h7v1h-7zM96 73h4v1h-4zM-3 74h6v1h-6zM8 74h1v1h-1zM19 74h10v1h-10zM96 74h5v1h-5zM-3 75h6v1h-6zM11 75h5v1h-5zM95 75h5v1h-5zM-3 76h6v1h-6zM93 76h5v1h-5zM-3 77h6v1h-6zM92 77h3v1h-3zM-3 78h6v1h-6zM91 78h4v1h-4zM-3 79h6v1h-6zM91 79h8v1h-8zM105 79h1v1h-1zM-3 80h6v1h-6zM90 80h18v1h-18zM-3 81h6v1h-6zM87 81h39v1h-39zM-3 82h6v1h-6zM87 82h40v1h-40zM-3 83h6v1h-6zM89 83h38v1h-38zM-3 84h6v1h-6zM90 84h36v1h-36zM-3 85h6v1h-6zM90 85h36v1h-36zM-3 86h6v1h-6zM95 86h30v1h-30zM-3 87h6v1h-6zM96 87h27v1h-27zM-3 88h6v1h-6zM96 88h15v1h-15zM114 88h5v1h-5zM-3 89h6v1h-6zM97 89h13v1h-13zM135 89h3v1h-3zM-3 90h6v1h-6zM98 90h13v1h-13zM-3 91h6v1h-6zM103 91h10v1h-10zM-3 92h6v1h-6zM105 92h10v1h-10zM-3 93h6v1h-6zM107 93h9v1h-9zM149 93h4v1h-4zM177 93h1v1h-1zM-3 94h6v1h-6zM109 94h11v1h-11zM140 94h2v1h-2zM-3 95h6v1h-6zM110 95h13v1h-13zM125 95h18v1h-18zM-3 96h6v1h-6zM112 96h32v1h-32zM-3 97h6v1h-6zM114 97h30v1h-30zM-3 98h6v1h-6zM114 98h29v1h-29zM-3 99h6v1h-6zM114 99h29v1h-29zM114 100h27v1h-27zM114 101h26v1h-26zM114 102h7v1h-7zM128 102h11v1h-11zM112 103h8v1h-8zM126 103h13v1h-13zM108 104h12v1h-12zM126 104h13v1h-13zM162 104h5v1h-5zM108 105h12v1h-12zM126 105h13v1h-13zM156 105h13v1h-13zM115 106h1v1h-1zM127 106h13v1h-13zM147 106h22v1h-22zM129 107h40v1h-40zM131 108h40v1h-40zM131 109h31v1h-31zM176 109h9v1h-9zM132 110h29v1h-29zM175 110h10v1h-10zM133 111h25v1h-25zM174 111h10v1h-10zM135 112h23v1h-23zM164 112h3v1h-3zM174 112h11v1h-11zM140 113h18v1h-18zM160 113h10v1h-10zM173 113h13v1h-13zM142 114h15v1h-15zM161 114h7v1h-7zM178 114h8v1h-8zM142 115h13v1h-13zM165 115h1v1h-1zM142 116h9v1h-9zM152 116h2v1h-2zM142 117h9v1h-9zM202 117h2v1h-2zM139 118h12v1h-12zM177 118h1v1h-1zM202 118h2v1h-2zM134 119h17v1h-17zM173 119h9v1h-9zM131 120h20v1h-20zM168 120h19v1h-19zM128 121h22v1h-22zM168 121h30v1h-30zM128 122h23v1h-23zM158 122h3v1h-3zM169 122h20v1h-20zM192 122h5v1h-5zM125 123h28v1h-28zM154 123h10v1h-10zM170 123h7v1h-7zM178 123h9v1h-9zM194 123h3v1h-3zM123 124h11v1h-11zM139 124h26v1h-26zM168 124h5v1h-5zM183 124h1v1h-1zM121 125h12v1h-12zM144 125h29v1h-29zM122 126h12v1h-12zM142 126h22v1h-22zM169 126h3v1h-3zM195 126h1v1h-1zM123 127h39v1h-39zM191 127h13v1h-13zM124 128h36v1h-36zM189 128h15v1h-15zM125 129h12v1h-12zM143 129h15v1h-15zM176 129h3v1h-3zM186 129h18v1h-18zM127 130h34v1h-34zM174 130h30v1h-30zM132 131h31v1h-31zM172 131h32v1h-32zM134 132h13v1h-13zM154 132h10v1h-10zM168 132h11v1h-11zM194 132h10v1h-10zM135 133h9v1h-9zM156 133h21v1h-21zM196 133h8v1h-8zM134 134h49v1h-49zM194 134h10v1h-10zM133 135h71v1h-71zM133 136h9v1h-9zM152 136h23v1h-23zM182 136h22v1h-22zM132 137h5v1h-5zM158 137h15v1h-15zM200 137h4v1h-4zM133 138h8v1h-8zM153 138h21v1h-21zM199 138h5v1h-5zM135 139h39v1h-39zM187 139h17v1h-17zM140 140h23v1h-23zM166 140h8v1h-8zM186 140h18v1h-18zM167 141h7v1h-7zM186 141h18v1h-18zM164 142h11v1h-11zM187 142h17v1h-17zM147 143h2v1h-2zM159 143h16v1h-16zM197 143h7v1h-7zM146 144h5v1h-5zM156 144h20v1h-20zM200 144h4v1h-4zM153 145h24v1h-24zM149 146h33v1h-33zM148 147h37v1h-37zM202 147h2v1h-2zM148 148h39v1h-39zM201 148h3v1h-3zM148 149h22v1h-22zM181 149h9v1h-9zM199 149h5v1h-5zM149 150h19v1h-19zM180 150h12v1h-12zM199 150h5v1h-5zM150 151h13v1h-13zM179 151h14v1h-14zM201 151h3v1h-3zM150 152h7v1h-7zM177 152h17v1h-17zM150 153h5v1h-5zM176 153h19v1h-19zM150 154h5v1h-5zM175 154h21v1h-21zM150 155h5v1h-5zM171 155h26v1h-26zM145 156h7v1h-7zM159 156h3v1h-3zM166 156h31v1h-31zM142 157h8v1h-8zM155 157h41v1h-41zM156 158h42v1h-42zM157 159h13v1h-13zM173 159h31v1h-31zM158 160h13v1h-13zM176 160h28v1h-28zM158 161h6v1h-6zM169 161h4v1h-4zM183 161h21v1h-21zM157 162h20v1h-20zM179 162h25v1h-25zM158 163h46v1h-46zM159 164h44v1h-44zM160 165h14v1h-14zM182 165h20v1h-20zM162 166h40v1h-40zM170 167h33v1h-33zM177 168h26v1h-26zM183 169h19v1h-19zM177 170h24v1h-24zM165 171h1v1h-1zM175 171h25v1h-25zM172 172h29v1h-29zM170 173h9v1h-9zM184 173h20v1h-20zM171 174h33v1h-33zM176 175h28v1h-28zM191 176h13v1h-13zM194 177h9v1h-9zM191 178h13v1h-13zM186 179h18v1h-18zM176 180h28v1h-28zM175 181h17v1h-17zM195 181h9v1h-9zM175 182h29v1h-29zM173 183h31v1h-31zM172 184h32v1h-32zM172 185h32v1h-32zM174 186h30v1h-30zM176 187h28v1h-28zM178 188h26v1h-26zM184 189h20v1h-20zM179 190h16v1h-16zM196 190h8v1h-8zM178 191h16v1h-16zM198 191h6v1h-6zM176 192h18v1h-18zM199 192h4v1h-4zM176 193h19v1h-19zM199 193h3v1h-3zM175 194h20v1h-20zM197 194h6v1h-6zM174 195h12v1h-12zM193 195h11v1h-11zM171 196h5v1h-5zM180 196h1v1h-1zM184 196h20v1h-20zM169 197h6v1h-6zM184 197h20v1h-20zM170 198h3v1h-3zM186 198h18v1h-18zM187 199h17v1h-17zM189 200h13v1h-13zM191 201h3v1h-3zM188 202h16v1h-16zM164 203h2v1h-2zM187 203h17v1h-17zM160 204h7v1h-7zM185 204h6v1h-6zM203 204h1v1h-1zM158 205h10v1h-10zM185 205h5v1h-5zM185 206h8v1h-8zM188 207h16v1h-16zM177 208h4v1h-4zM195 208h9v1h-9zM177 209h5v1h-5zM177 210h6v1h-6zM177 211h6v1h-6zM177 212h10v1h-10zM192 212h5v1h-5zM178 213h21v1h-21zM187 214h15v1h-15zM190 215h14v1h-14zM192 216h12v1h-12zM192 217h12v1h-12zM193 218h11v1h-11zM195 219h2v1h-2zM203 219h1v1h-1zM203 223h1v1h-1zM195 224h9v1h-9zM192 225h12v1h-12zM192 226h12v1h-12zM191 227h10v1h-10zM189 228h6v1h-6z"/><path fill="rgb(90,255,0)" d="M-3 -3h7v1h-7zM-3 -2h8v1h-8zM-3 -1h8v1h-8zM1 0h6v1h-6zM5 1h7v1h-7zM10 2h2v1h-2zM-3 9h5v1h-5zM-3 10h9v1h-9zM2 11h8v1h-8zM6 12h7v1h-7zM10 13h6v1h-6zM14 14h4v1h-4zM16 15h5v1h-5zM18 16h5v1h-5zM21 17h4v1h-4zM23 18h4v1h-4zM25 19h4v1h-4zM27 20h4v1h-4zM29 21h4v1h-4zM31 22h4v1h-4zM33 23h4v1h-4zM34 24h5v1h-5zM36 25h5v1h-5zM38 26h6v1h-6zM40 27h6v1h-6zM42 28h6v1h-6zM21 29h6v1h-6zM44 29h6v1h-6zM21 30h9v1h-9zM46 30h6v1h-6zM21 31h12v1h-12zM49 31h6v1h-6zM22 32h14v1h-14zM44 32h13v1h-13zM22 33h15v1h-15zM42 33h17v1h-17zM24 34h13v1h-13zM45 34h16v1h-16zM25 35h12v1h-12zM54 35h9v1h-9zM27 36h13v1h-13zM57 36h8v1h-8zM61 37h6v1h-6zM62 38h7v1h-7zM64 39h8v1h-8zM65 40h9v1h-9zM64 41h12v1h-12zM65 42h14v1h-14zM72 43h10v1h-10zM74 44h11v1h-11zM45 45h1v1h-1zM77 45h11v1h-11zM80 46h11v1h-11zM83 47h11v1h-11zM86 48h11v1h-11zM89 49h11v1h-11zM91 50h12v1h-12zM94 51h14v1h-14zM97 52h16v1h-16zM101 53h18v1h-18zM107 54h19v1h-19zM123 55h9v1h-9zM131 56h5v1h-5zM46 57h6v1h-6zM134 57h5v1h-5zM43 58h8v1h-8zM136 58h6v1h-6zM43 59h6v1h-6zM137 59h7v1h-7zM42 60h6v1h-6zM135 60h5v1h-5zM132 61h4v1h-4zM124 62h9v1h-9zM108 63h10v1h-10zM110 64h6v1h-6zM111 65h5v1h-5zM110 66h4v1h-4zM107 67h6v1h-6zM104 68h7v1h-7zM103 69h6v1h-6zM102 70h6v1h-6zM9 71h4v1h-4zM101 71h5v1h-5zM9 72h7v1h-7zM100 72h5v1h-5zM9 73h14v1h-14zM100 73h5v1h-5zM9 74h10v1h-10zM101 74h5v1h-5zM100 75h8v1h-8zM98 76h12v1h-12zM95 77h22v1h-22zM95 78h29v1h-29zM99 79h6v1h-6zM106 79h22v1h-22zM108 80h23v1h-23zM126 81h8v1h-8zM146 81h6v1h-6zM127 82h9v1h-9zM145 82h11v1h-11zM127 83h16v1h-16zM149 83h8v1h-8zM126 84h18v1h-18zM151 84h7v1h-7zM175 84h8v1h-8zM126 85h18v1h-18zM151 85h4v1h-4zM172 85h16v1h-16zM125 86h24v1h-24zM153 86h1v1h-1zM171 86h12v1h-12zM123 87h28v1h-28zM170 87h12v1h-12zM111 88h3v1h-3zM119 88h32v1h-32zM167 88h15v1h-15zM110 89h25v1h-25zM138 89h13v1h-13zM156 89h27v1h-27zM111 90h76v1h-76zM113 91h73v1h-73zM115 92h71v1h-71zM116 93h33v1h-33zM153 93h24v1h-24zM178 93h8v1h-8zM203 93h1v1h-1zM120 94h20v1h-20zM142 94h46v1h-46zM202 94h2v1h-2zM123 95h2v1h-2zM143 95h46v1h-46zM195 95h9v1h-9zM144 96h19v1h-19zM166 96h38v1h-38zM144 97h12v1h-12zM166 97h38v1h-38zM143 98h15v1h-15zM166 98h38v1h-38zM143 99h15v1h-15zM167 99h33v1h-33zM141 100h16v1h-16zM169 100h28v1h-28zM140 101h16v1h-16zM173 101h22v1h-22zM139 102h42v1h-42zM186 102h7v1h-7zM139 103h41v1h-41zM201 103h1v1h-1zM139 104h23v1h-23zM167 104h12v1h-12zM201 104h3v1h-3zM139 105h17v1h-17zM169 105h10v1h-10zM200 105h4v1h-4zM140 106h7v1h-7zM169 106h17v1h-17zM200 106h4v1h-4zM169 107h22v1h-22zM200 107h4v1h-4zM171 108h29v1h-29zM202 108h2v1h-2zM162 109h14v1h-14zM185 109h19v1h-19zM161 110h14v1h-14zM185 110h19v1h-19zM158 111h16v1h-16zM184 111h20v1h-20zM158 112h6v1h-6zM167 112h7v1h-7zM185 112h19v1h-19zM158 113h2v1h-2zM170 113h3v1h-3zM186 113h9v1h-9zM196 113h8v1h-8zM157 114h4v1h-4zM168 114h10v1h-10zM186 114h9v1h-9zM196 114h8v1h-8zM155 115h10v1h-10zM166 115h38v1h-38zM151 116h1v1h-1zM154 116h50v1h-50zM151 117h51v1h-51zM151 118h26v1h-26zM178 118h24v1h-24zM151 119h22v1h-22zM182 119h22v1h-22zM151 120h17v1h-17zM187 120h17v1h-17zM150 121h18v1h-18zM198 121h6v1h-6zM151 122h7v1h-7zM161 122h8v1h-8zM189 122h3v1h-3zM197 122h7v1h-7zM153 123h1v1h-1zM164 123h6v1h-6zM177 123h1v1h-1zM187 123h7v1h-7zM197 123h7v1h-7zM165 124h3v1h-3zM173 124h10v1h-10zM184 124h20v1h-20zM173 125h31v1h-31zM164 126h5v1h-5zM172 126h23v1h-23zM196 126h8v1h-8zM162 127h29v1h-29zM160 128h29v1h-29zM137 129h6v1h-6zM158 129h18v1h-18zM179 129h7v1h-7zM161 130h13v1h-13zM163 131h9v1h-9zM164 132h4v1h-4zM142 136h10v1h-10zM175 136h7v1h-7zM137 137h21v1h-21zM173 137h27v1h-27zM141 138h12v1h-12zM174 138h25v1h-25zM174 139h13v1h-13zM174 140h12v1h-12zM174 141h12v1h-12zM175 142h12v1h-12zM175 143h22v1h-22zM176 144h24v1h-24zM177 145h15v1h-15zM194 145h10v1h-10zM182 146h11v1h-11zM194 146h10v1h-10zM185 147h17v1h-17zM187 148h14v1h-14zM190 149h9v1h-9zM192 150h7v1h-7zM193 151h8v1h-8zM194 152h10v1h-10zM195 153h9v1h-9zM196 154h8v1h-8zM197 155h7v1h-7zM197 156h7v1h-7zM196 157h8v1h-8zM198 158h6v1h-6zM203 164h1v1h-1zM174 165h8v1h-8zM202 165h2v1h-2zM202 166h2v1h-2zM203 167h1v1h-1zM203 168h1v1h-1zM202 169h2v1h-2zM201 170h3v1h-3zM200 171h4v1h-4zM201 172h3v1h-3zM179 173h5v1h-5zM192 181h3v1h-3zM191 204h12v1h-12zM190 205h14v1h-14zM193 206h11v1h-11z"/><path fill="rgb(180,255,0)" d="M4 -3h9v1h-9zM5 -2h8v1h-8zM5 -1h8v1h-8zM0 0h1v1h-1zM7 0h6v1h-6zM0 1h5v1h-5zM12 1h1v1h-1zM1 2h9v1h-9zM12 2h1v1h-1zM2 3h11v1h-11zM3 4h10v1h-10zM4 5h9v1h-9zM5 6h8v1h-8zM-3 8h7v1h-7zM2 9h6v1h-6zM6 10h6v1h-6zM10 11h5v1h-5zM13 12h4v1h-4zM16 13h4v1h-4zM18 14h4v1h-4zM21 15h3v1h-3zM23 16h3v1h-3zM25 17h3v1h-3zM27 18h4v1h-4zM29 19h4v1h-4zM31 20h4v1h-4zM33 21h4v1h-4zM35 22h4v1h-4zM37 23h4v1h-4zM39 24h5v1h-5zM41 25h5v1h-5zM44 26h4v1h-4zM46 27h5v1h-5zM48 28h5v1h-5zM50 29h5v1h-5zM52 30h6v1h-6zM55 31h5v1h-5zM57 32h5v1h-5zM59 33h6v1h-6zM61 34h6v1h-6zM63 35h6v1h-6zM65 36h6v1h-6zM67 37h7v1h-7zM69 38h7v1h-7zM72 39h8v1h-8zM74 40h9v1h-9zM76 41h10v1h-10zM79 42h10v1h-10zM82 43h10v1h-10zM85 44h10v1h-10zM88 45h10v1h-10zM91 46h10v1h-10zM94 47h11v1h-11zM97 48h12v1h-12zM100 49h14v1h-14zM103 50h16v1h-16zM108 51h16v1h-16zM113 52h16v1h-16zM119 53h15v1h-15zM126 54h12v1h-12zM132 55h10v1h-10zM136 56h11v1h-11zM139 57h13v1h-13zM142 58h15v1h-15zM144 59h8v1h-8zM155 59h7v1h-7zM140 60h6v1h-6zM159 60h2v1h-2zM136 61h6v1h-6zM133 62h6v1h-6zM118 63h19v1h-19zM116 64h21v1h-21zM116 65h21v1h-21zM114 66h6v1h-6zM133 66h5v1h-5zM113 67h5v1h-5zM135 67h5v1h-5zM111 68h6v1h-6zM136 68h19v1h-19zM109 69h6v1h-6zM136 69h22v1h-22zM108 70h6v1h-6zM137 70h20v1h-20zM106 71h6v1h-6zM105 72h5v1h-5zM105 73h4v1h-4zM106 74h12v1h-12zM108 75h13v1h-13zM110 76h18v1h-18zM117 77h14v1h-14zM124 78h9v1h-9zM128 79h9v1h-9zM144 79h7v1h-7zM131 80h32v1h-32zM134 81h12v1h-12zM152 81h22v1h-22zM136 82h9v1h-9zM156 82h45v1h-45zM143 83h6v1h-6zM157 83h47v1h-47zM144 84h7v1h-7zM158 84h17v1h-17zM183 84h21v1h-21zM144 85h7v1h-7zM155 85h17v1h-17zM188 85h16v1h-16zM149 86h4v1h-4zM154 86h17v1h-17zM183 86h21v1h-21zM151 87h19v1h-19zM182 87h22v1h-22zM151 88h16v1h-16zM182 88h22v1h-22zM151 89h5v1h-5zM183 89h21v1h-21zM187 90h17v1h-17zM186 91h18v1h-18zM186 92h18v1h-18zM186 93h17v1h-17zM188 94h14v1h-14zM189 95h6v1h-6zM163 96h3v1h-3zM156 97h10v1h-10zM158 98h8v1h-8zM158 99h9v1h-9zM200 99h4v1h-4zM157 100h12v1h-12zM197 100h7v1h-7zM156 101h17v1h-17zM195 101h9v1h-9zM181 102h5v1h-5zM193 102h11v1h-11zM180 103h21v1h-21zM202 103h2v1h-2zM179 104h22v1h-22zM179 105h21v1h-21zM186 106h14v1h-14zM191 107h9v1h-9zM200 108h2v1h-2zM195 113h1v1h-1zM195 114h1v1h-1zM192 145h2v1h-2zM193 146h1v1h-1z"/><path fill="rgb(255,255,0)" d="M-3 6h4v1h-4zM-3 7h8v1h-8zM4 8h6v1h-6zM8 9h5v1h-5zM12 10h4v1h-4zM15 11h3v1h-3zM17 12h4v1h-4zM20 13h3v1h-3zM22 14h3v1h-3zM24 15h3v1h-3zM26 16h4v1h-4zM28 17h4v1h-4zM31 18h3v1h-3zM33 19h3v1h-3zM35 20h3v1h-3zM37 21h4v1h-4zM39 22h4v1h-4zM41 23h5v1h-5zM44 24h4v1h-4zM46 25h5v1h-5zM48 26h5v1h-5zM51 27h5v1h-5zM53 28h5v1h-5zM55 29h6v1h-6zM58 30h5v1h-5zM60 31h6v1h-6zM62 32h6v1h-6zM65 33h5v1h-5zM67 34h6v1h-6zM69 35h6v1h-6zM71 36h8v1h-8zM74 37h8v1h-8zM76 38h9v1h-9zM80 39h8v1h-8zM83 40h9v1h-9zM86 41h9v1h-9zM89 42h9v1h-9zM92 43h9v1h-9zM95 44h10v1h-10zM98 45h11v1h-11zM101 46h13v1h-13zM105 47h14v1h-14zM109 48h14v1h-14zM114 49h14v1h-14zM119 50h14v1h-14zM124 51h13v1h-13zM129 52h13v1h-13zM134 53h12v1h-12zM138 54h13v1h-13zM142 55h14v1h-14zM147 56h13v1h-13zM152 57h12v1h-12zM157 58h10v1h-10zM152 59h3v1h-3zM162 59h9v1h-9zM146 60h13v1h-13zM161 60h13v1h-13zM142 61h6v1h-6zM156 61h17v1h-17zM139 62h4v1h-4zM137 63h4v1h-4zM137 64h3v1h-3zM137 65h4v1h-4zM120 66h13v1h-13zM138 66h5v1h-5zM118 67h17v1h-17zM140 67h21v1h-21zM117 68h6v1h-6zM126 68h10v1h-10zM155 68h11v1h-11zM115 69h6v1h-6zM130 69h6v1h-6zM158 69h8v1h-8zM114 70h8v1h-8zM128 70h9v1h-9zM157 70h9v1h-9zM112 71h53v1h-53zM110 72h31v1h-31zM142 72h21v1h-21zM109 73h26v1h-26zM118 74h15v1h-15zM121 75h13v1h-13zM128 76h6v1h-6zM131 77h5v1h-5zM166 77h18v1h-18zM133 78h59v1h-59zM137 79h7v1h-7zM151 79h53v1h-53zM163 80h41v1h-41zM174 81h30v1h-30zM201 82h3v1h-3z"/><path fill="rgb(255,205,0)" d="M-3 5h4v1h-4zM1 6h4v1h-4zM5 7h5v1h-5zM10 8h3v1h-3zM13 9h3v1h-3zM16 10h2v1h-2zM18 11h3v1h-3zM21 12h2v1h-2zM23 13h2v1h-2zM25 14h2v1h-2zM27 15h3v1h-3zM30 16h2v1h-2zM32 17h2v1h-2zM34 18h2v1h-2zM36 19h3v1h-3zM38 20h3v1h-3zM41 21h3v1h-3zM43 22h4v1h-4zM46 23h3v1h-3zM48 24h4v1h-4zM51 25h4v1h-4zM53 26h4v1h-4zM56 27h4v1h-4zM58 28h4v1h-4zM61 29h4v1h-4zM63 30h4v1h-4zM66 31h4v1h-4zM68 32h4v1h-4zM70 33h5v1h-5zM73 34h5v1h-5zM75 35h6v1h-6zM79 36h6v1h-6zM82 37h6v1h-6zM85 38h6v1h-6zM88 39h7v1h-7zM92 40h6v1h-6zM95 41h6v1h-6zM98 42h7v1h-7zM101 43h8v1h-8zM105 44h9v1h-9zM109 45h9v1h-9zM114 46h9v1h-9zM119 47h9v1h-9zM123 48h9v1h-9zM128 49h9v1h-9zM133 50h8v1h-8zM137 51h8v1h-8zM142 52h8v1h-8zM146 53h9v1h-9zM151 54h9v1h-9zM156 55h8v1h-8zM160 56h7v1h-7zM164 57h6v1h-6zM167 58h6v1h-6zM171 59h5v1h-5zM174 60h5v1h-5zM148 61h8v1h-8zM173 61h10v1h-10zM143 62h8v1h-8zM154 62h19v1h-19zM141 63h3v1h-3zM140 64h3v1h-3zM141 65h3v1h-3zM143 66h25v1h-25zM161 67h13v1h-13zM123 68h3v1h-3zM166 68h11v1h-11zM121 69h9v1h-9zM166 69h11v1h-11zM122 70h6v1h-6zM166 70h11v1h-11zM165 71h12v1h-12zM141 72h1v1h-1zM163 72h13v1h-13zM135 73h42v1h-42zM133 74h5v1h-5zM160 74h17v1h-17zM134 75h3v1h-3zM161 75h18v1h-18zM134 76h4v1h-4zM160 76h32v1h-32zM136 77h30v1h-30zM184 77h20v1h-20zM192 78h12v1h-12z"/><path fill="rgb(255,145,0)" d="M-3 4h6v1h-6zM1 5h3v1h-3zM10 7h6v1h-6zM13 8h5v1h-5zM16 9h5v1h-5zM18 10h5v1h-5zM21 11h4v1h-4zM23 12h4v1h-4zM25 13h5v1h-5zM27 14h5v1h-5zM30 15h4v1h-4zM32 16h5v1h-5zM34 17h6v1h-6zM36 18h7v1h-7zM39 19h6v1h-6zM41 20h7v1h-7zM44 21h7v1h-7zM47 22h7v1h-7zM49 23h8v1h-8zM52 24h8v1h-8zM55 25h8v1h-8zM57 26h8v1h-8zM60 27h8v1h-8zM62 28h9v1h-9zM65 29h9v1h-9zM67 30h10v1h-10zM70 31h10v1h-10zM72 32h12v1h-12zM75 33h12v1h-12zM78 34h13v1h-13zM81 35h13v1h-13zM85 36h13v1h-13zM88 37h13v1h-13zM91 38h13v1h-13zM95 39h14v1h-14zM98 40h15v1h-15zM101 41h17v1h-17zM105 42h17v1h-17zM109 43h18v1h-18zM114 44h17v1h-17zM118 45h18v1h-18zM123 46h17v1h-17zM128 47h16v1h-16zM132 48h17v1h-17zM137 49h16v1h-16zM141 50h17v1h-17zM145 51h17v1h-17zM150 52h16v1h-16zM155 53h14v1h-14zM160 54h12v1h-12zM164 55h11v1h-11zM167 56h11v1h-11zM170 57h11v1h-11zM173 58h11v1h-11zM176 59h11v1h-11zM179 60h11v1h-11zM183 61h10v1h-10zM151 62h3v1h-3zM173 62h25v1h-25zM144 63h49v1h-49zM195 63h9v1h-9zM143 64h3v1h-3zM144 65h43v1h-43zM168 66h22v1h-22zM174 67h15v1h-15zM177 68h11v1h-11zM177 69h10v1h-10zM177 70h10v1h-10zM177 71h10v1h-10zM176 72h11v1h-11zM177 73h12v1h-12zM138 74h22v1h-22zM177 74h27v1h-27zM137 75h4v1h-4zM157 75h4v1h-4zM179 75h25v1h-25zM138 76h22v1h-22zM192 76h12v1h-12z"/><path fill="rgb(255,70,0)" d="M-3 3h5v1h-5zM13 6h2v1h-2zM16 7h2v1h-2zM18 8h2v1h-2zM21 9h1v1h-1zM23 10h2v1h-2zM25 11h2v1h-2zM27 12h2v1h-2zM30 13h2v1h-2zM32 14h2v1h-2zM34 15h2v1h-2zM37 16h2v1h-2zM40 17h3v1h-3zM43 18h3v1h-3zM45 19h4v1h-4zM48 20h4v1h-4zM51 21h4v1h-4zM54 22h4v1h-4zM57 23h4v1h-4zM60 24h4v1h-4zM63 25h3v1h-3zM65 26h4v1h-4zM68 27h4v1h-4zM71 28h4v1h-4zM74 29h5v1h-5zM77 30h5v1h-5zM80 31h6v1h-6zM84 32h5v1h-5zM87 33h6v1h-6zM91 34h5v1h-5zM94 35h6v1h-6zM98 36h5v1h-5zM101 37h6v1h-6zM104 38h8v1h-8zM109 39h7v1h-7zM113 40h8v1h-8zM118 41h7v1h-7zM122 42h8v1h-8zM127 43h7v1h-7zM131 44h7v1h-7zM136 45h6v1h-6zM140 46h7v1h-7zM144 47h7v1h-7zM149 48h7v1h-7zM153 49h7v1h-7zM158 50h6v1h-6zM162 51h5v1h-5zM166 52h4v1h-4zM169 53h4v1h-4zM172 54h4v1h-4zM175 55h4v1h-4zM178 56h4v1h-4zM181 57h5v1h-5zM184 58h5v1h-5zM187 59h5v1h-5zM190 60h5v1h-5zM193 61h7v1h-7zM198 62h6v1h-6zM193 63h2v1h-2zM146 64h58v1h-58zM187 65h17v1h-17zM190 66h14v1h-14zM189 67h15v1h-15zM188 68h16v1h-16zM187 69h3v1h-3zM187 70h3v1h-3zM187 71h3v1h-3zM187 72h5v1h-5zM189 73h15v1h-15zM141 75h16v1h-16z"/><path fill="rgb(255,0,0)" d="M-3 1h3v1h-3zM-3 2h4v1h-4zM13 4h3v1h-3zM13 5h5v1h-5zM15 6h6v1h-6zM18 7h5v1h-5zM20 8h5v1h-5zM22 9h6v1h-6zM25 10h5v1h-5zM27 11h6v1h-6zM29 12h6v1h-6zM32 13h6v1h-6zM34 14h8v1h-8zM36 15h10v1h-10zM39 16h10v1h-10zM43 17h10v1h-10zM46 18h10v1h-10zM49 19h10v1h-10zM52 20h11v1h-11zM55 21h11v1h-11zM58 22h11v1h-11zM61 23h12v1h-12zM64 24h12v1h-12zM66 25h14v1h-14zM69 26h14v1h-14zM72 27h15v1h-15zM75 28h16v1h-16zM79 29h16v1h-16zM82 30h16v1h-16zM86 31h16v1h-16zM89 32h17v1h-17zM93 33h17v1h-17zM96 34h19v1h-19zM100 35h19v1h-19zM103 36h20v1h-20zM107 37h21v1h-21zM112 38h20v1h-20zM116 39h20v1h-20zM121 40h19v1h-19zM125 41h19v1h-19zM130 42h18v1h-18zM134 43h19v1h-19zM138 44h19v1h-19zM142 45h20v1h-20zM147 46h18v1h-18zM151 47h17v1h-17zM156 48h15v1h-15zM160 49h14v1h-14zM164 50h13v1h-13zM167 51h13v1h-13zM170 52h13v1h-13zM173 53h13v1h-13zM176 54h13v1h-13zM179 55h13v1h-13zM182 56h14v1h-14zM186 57h14v1h-14zM189 58h15v1h-15zM192 59h12v1h-12zM195 60h9v1h-9zM200 61h4v1h-4zM190 69h14v1h-14zM190 70h14v1h-14zM190 71h14v1h-14zM192 72h12v1h-12z"/><path fill="rgb(255,0,170)" d="M-3 0h3v1h-3zM13 3h1v1h-1zM18 5h1v1h-1zM21 6h1v1h-1zM23 7h1v1h-1zM25 8h1v1h-1zM30 10h1v1h-1zM35 12h1v1h-1zM38 13h2v1h-2zM42 14h1v1h-1zM46 15h1v1h-1zM49 16h2v1h-2zM53 17h1v1h-1zM56 18h2v1h-2zM59 19h2v1h-2zM63 20h2v1h-2zM66 21h2v1h-2zM69 22h2v1h-2zM73 23h2v1h-2zM76 24h2v1h-2zM80 25h2v1h-2zM83 26h3v1h-3zM87 27h3v1h-3zM91 28h2v1h-2zM95 29h2v1h-2zM98 30h3v1h-3zM102 31h3v1h-3zM106 32h3v1h-3zM110 33h3v1h-3zM115 34h2v1h-2zM119 35h3v1h-3zM123 36h3v1h-3zM128 37h2v1h-2zM132 38h3v1h-3zM136 39h3v1h-3zM140 40h3v1h-3zM144 41h3v1h-3zM148 42h3v1h-3zM153 43h2v1h-2zM157 44h3v1h-3zM162 45h2v1h-2zM165 46h2v1h-2zM168 47h2v1h-2zM171 48h2v1h-2zM174 49h2v1h-2zM177 50h2v1h-2zM180 51h2v1h-2zM183 52h2v1h-2zM186 53h2v1h-2zM189 54h2v1h-2zM192 55h2v1h-2zM196 56h2v1h-2zM200 57h4v1h-4z"/><path fill="rgb(255,0,255)" d="M13 -3h191v1h-191zM13 -2h191v1h-191zM13 -1h191v1h-191zM13 0h191v1h-191zM13 1h191v1h-191zM13 2h191v1h-191zM14 3h190v1h-190zM16 4h188v1h-188zM19 5h185v1h-185zM22 6h182v1h-182zM24 7h180v1h-180zM26 8h178v1h-178zM28 9h176v1h-176zM31 10h173v1h-173zM33 11h171v1h-171zM36 12h168v1h-168zM40 13h164v1h-164zM43 14h161v1h-161zM47 15h157v1h-157zM51 16h153v1h-153zM54 17h150v1h-150zM58 18h146v1h-146zM61 19h143v1h-143zM65 20h139v1h-139zM68 21h136v1h-136zM71 22h133v1h-133zM75 23h129v1h-129zM78 24h126v1h-126zM82 25h122v1h-122zM86 26h118v1h-118zM90 27h114v1h-114zM93 28h111v1h-111zM97 29h107v1h-107zM101 30h103v1h-103zM105 31h99v1h-99zM109 32h95v1h-95zM113 33h91v1h-91zM117 34h87v1h-87zM122 35h82v1h-82zM126 36h78v1h-78zM130 37h74v1h-74zM135 38h69v1h-69zM139 39h65v1h-65zM143 40h61v1h-61zM147 41h57v1h-57zM151 42h53v1h-53zM155 43h49v1h-49zM160 44h44v1h-44zM164 45h40v1h-40zM167 46h37v1h-37zM170 47h34v1h-34zM173 48h31v1h-31zM176 49h28v1h-28zM179 50h25v1h-25zM182 51h22v1h-22zM185 52h19v1h-19zM188 53h16v1h-16zM191 54h13v1h-13zM194 55h10v1h-10zM198 56h6v1h-6z"/></g></g></g>
<line x1="66.1" y1="384.6" x2="266.6" y2="396" stroke="#6a2cf0" stroke-width="1.4"/>
<line x1="66.1" y1="384.5" x2="150.4" y2="609.8" stroke="#111" stroke-width="1"/>
<line x1="66.1" y1="384.5" x2="234.1" y2="609.8" stroke="#111" stroke-width="1"/>
<circle cx="87.0" cy="394.5" r="2.3" fill="#f01010"/>
<circle cx="87.1" cy="398.3" r="2.3" fill="#f01010"/>
<circle cx="87.2" cy="402.1" r="2.3" fill="#f01010"/>
<circle cx="87.3" cy="405.9" r="2.3" fill="#f01010"/>
<circle cx="87.4" cy="409.7" r="2.3" fill="#f01010"/>
<circle cx="87.5" cy="413.5" r="2.3" fill="#f01010"/>
<circle cx="87.7" cy="417.3" r="2.3" fill="#f01010"/>
<circle cx="87.8" cy="421.1" r="2.3" fill="#f01010"/>
<circle cx="87.9" cy="424.9" r="2.3" fill="#f01010"/>
<circle cx="88.0" cy="428.7" r="2.3" fill="#f01010"/>
<circle cx="88.1" cy="432.5" r="2.3" fill="#f01010"/>
<circle cx="88.2" cy="436.3" r="2.3" fill="#f01010"/>
<circle cx="147.6" cy="451.3" r="2.3" fill="#f01010"/>
<circle cx="145.7" cy="454.7" r="2.3" fill="#f01010"/>
<circle cx="143.7" cy="458.0" r="2.3" fill="#f01010"/>
<circle cx="141.8" cy="461.4" r="2.3" fill="#f01010"/>
<circle cx="139.8" cy="464.7" r="2.3" fill="#f01010"/>
<circle cx="137.9" cy="468.1" r="2.3" fill="#f01010"/>
<circle cx="135.9" cy="471.4" r="2.3" fill="#f01010"/>
<circle cx="134.0" cy="474.8" r="2.3" fill="#f01010"/>
<circle cx="132.0" cy="478.1" r="2.3" fill="#f01010"/>
<circle cx="130.1" cy="481.5" r="2.3" fill="#f01010"/>
<circle cx="128.2" cy="484.9" r="2.3" fill="#f01010"/>
<circle cx="126.2" cy="488.2" r="2.3" fill="#f01010"/>
<circle cx="124.3" cy="491.6" r="2.3" fill="#f01010"/>
<circle cx="122.3" cy="494.9" r="2.3" fill="#f01010"/>
<circle cx="120.4" cy="498.3" r="2.3" fill="#f01010"/>
<circle cx="118.4" cy="501.6" r="2.3" fill="#f01010"/>
<circle cx="116.5" cy="505.0" r="2.3" fill="#f01010"/>
<circle cx="114.5" cy="508.3" r="2.3" fill="#f01010"/>
<circle cx="112.6" cy="511.7" r="2.3" fill="#f01010"/>
<circle cx="158.0" cy="447.7" r="2.3" fill="#f01010"/>
<circle cx="169.0" cy="444.0" r="2.3" fill="#f01010"/>
<circle cx="179.0" cy="440.7" r="2.3" fill="#f01010"/>
<circle cx="138.8" cy="515.2" r="2.3" fill="#f01010"/>
<circle cx="138.6" cy="518.5" r="2.3" fill="#f01010"/>
<circle cx="133.0" cy="523.0" r="2.3" fill="#f01010"/>
<circle cx="130.5" cy="526.5" r="2.3" fill="#f01010"/>
<circle cx="128.2" cy="530.3" r="2.3" fill="#f01010"/>
<circle cx="126.0" cy="538.0" r="2.3" fill="#f01010"/>
<circle cx="125.9" cy="541.0" r="2.3" fill="#f01010"/>
<circle cx="125.9" cy="544.5" r="2.3" fill="#f01010"/>
<text x="5.6" y="643.2" font-family='"Liberation Serif",serif' font-weight="bold" font-size="14.5" letter-spacing="0.6">(B)</text>
<rect x="322.65" y="321" width="360.25" height="154.9" fill="none" stroke="#000" stroke-width="1.6"/>
<path d="M374.7 351.6V467.8M384.9 351.6V467.8M395.0 351.6V467.8M405.2 351.6V467.8M415.4 351.6V467.8M425.6 351.6V467.8M435.7 351.6V467.8M445.9 351.6V467.8M456.1 351.6V467.8M466.3 351.6V467.8M476.4 351.6V467.8M486.6 351.6V467.8M496.8 351.6V467.8M507.0 351.6V467.8M517.1 351.6V467.8M527.3 351.6V467.8M537.5 351.6V467.8M547.7 351.6V467.8M557.9 351.6V467.8M568.0 351.6V467.8M578.2 351.6V467.8M588.4 351.6V467.8M598.6 351.6V467.8M608.7 351.6V467.8M618.9 351.6V467.8M629.1 351.6V467.8M639.3 351.6V467.8M649.4 351.6V467.8M659.6 351.6V467.8M364.5 456.2H669.8M364.5 444.6H669.8M364.5 432.9H669.8M364.5 421.3H669.8M364.5 409.7H669.8M364.5 398.1H669.8M364.5 386.5H669.8M364.5 374.8H669.8M364.5 363.2H669.8" stroke="#8a8ad8" stroke-width="0.8" fill="none"/>
<rect x="364.5" y="351.6" width="305.3" height="116.2" fill="none" stroke="#444" stroke-width="0.9"/>
<text x="362.4" y="346.9" text-anchor="middle" font-family='"Liberation Sans",sans-serif' font-size="5.3" fill="#333">0</text>
<text x="372.6" y="346.9" text-anchor="middle" font-family='"Liberation Sans",sans-serif' font-size="5.3" fill="#333">2</text>
<text x="382.8" y="346.9" text-anchor="middle" font-family='"Liberation Sans",sans-serif' font-size="5.3" fill="#333">4</text>
<text x="392.9" y="346.9" text-anchor="middle" font-family='"Liberation Sans",sans-serif' font-size="5.3" fill="#333">6</text>
<text x="403.1" y="346.9" text-anchor="middle" font-family='"Liberation Sans",sans-serif' font-size="5.3" fill="#333">8</text>
<text x="413.3" y="346.9" text-anchor="middle" font-family='"Liberation Sans",sans-serif' font-size="5.3" fill="#333">10</text>
<text x="423.5" y="346.9" text-anchor="middle" font-family='"Liberation Sans",sans-serif' font-size="5.3" fill="#333">12</text>
<text x="433.6" y="346.9" text-anchor="middle" font-family='"Liberation Sans",sans-serif' font-size="5.3" fill="#333">14</text>
<text x="443.8" y="346.9" text-anchor="middle" font-family='"Liberation Sans",sans-serif' font-size="5.3" fill="#333">16</text>
<text x="454.0" y="346.9" text-anchor="middle" font-family='"Liberation Sans",sans-serif' font-size="5.3" fill="#333">18</text>
<text x="464.2" y="346.9" text-anchor="middle" font-family='"Liberation Sans",sans-serif' font-size="5.3" fill="#333">20</text>
<text x="474.3" y="346.9" text-anchor="middle" font-family='"Liberation Sans",sans-serif' font-size="5.3" fill="#333">22</text>
<text x="484.5" y="346.9" text-anchor="middle" font-family='"Liberation Sans",sans-serif' font-size="5.3" fill="#333">24</text>
<text x="494.7" y="346.9" text-anchor="middle" font-family='"Liberation Sans",sans-serif' font-size="5.3" fill="#333">26</text>
<text x="504.9" y="346.9" text-anchor="middle" font-family='"Liberation Sans",sans-serif' font-size="5.3" fill="#333">28</text>
<text x="515.0" y="346.9" text-anchor="middle" font-family='"Liberation Sans",sans-serif' font-size="5.3" fill="#333">30</text>
<text x="525.2" y="346.9" text-anchor="middle" font-family='"Liberation Sans",sans-serif' font-size="5.3" fill="#333">32</text>
<text x="535.4" y="346.9" text-anchor="middle" font-family='"Liberation Sans",sans-serif' font-size="5.3" fill="#333">34</text>
<text x="545.6" y="346.9" text-anchor="middle" font-family='"Liberation Sans",sans-serif' font-size="5.3" fill="#333">36</text>
<text x="555.8" y="346.9" text-anchor="middle" font-family='"Liberation Sans",sans-serif' font-size="5.3" fill="#333">38</text>
<text x="565.9" y="346.9" text-anchor="middle" font-family='"Liberation Sans",sans-serif' font-size="5.3" fill="#333">40</text>
<text x="576.1" y="346.9" text-anchor="middle" font-family='"Liberation Sans",sans-serif' font-size="5.3" fill="#333">42</text>
<text x="586.3" y="346.9" text-anchor="middle" font-family='"Liberation Sans",sans-serif' font-size="5.3" fill="#333">44</text>
<text x="596.5" y="346.9" text-anchor="middle" font-family='"Liberation Sans",sans-serif' font-size="5.3" fill="#333">46</text>
<text x="606.6" y="346.9" text-anchor="middle" font-family='"Liberation Sans",sans-serif' font-size="5.3" fill="#333">48</text>
<text x="616.8" y="346.9" text-anchor="middle" font-family='"Liberation Sans",sans-serif' font-size="5.3" fill="#333">50</text>
<text x="627.0" y="346.9" text-anchor="middle" font-family='"Liberation Sans",sans-serif' font-size="5.3" fill="#333">52</text>
<text x="637.2" y="346.9" text-anchor="middle" font-family='"Liberation Sans",sans-serif' font-size="5.3" fill="#333">54</text>
<text x="647.3" y="346.9" text-anchor="middle" font-family='"Liberation Sans",sans-serif' font-size="5.3" fill="#333">56</text>
<text x="657.5" y="346.9" text-anchor="middle" font-family='"Liberation Sans",sans-serif' font-size="5.3" fill="#333">58</text>
<text x="667.7" y="346.9" text-anchor="middle" font-family='"Liberation Sans",sans-serif' font-size="5.3" fill="#333">60</text>
<text x="356.2" y="469.6" text-anchor="end" font-family='"Liberation Sans",sans-serif' font-size="5.2" textLength="2.5" lengthAdjust="spacingAndGlyphs" fill="#333">0</text>
<text x="356.2" y="458.0" text-anchor="end" font-family='"Liberation Sans",sans-serif' font-size="5.2" textLength="5.0" lengthAdjust="spacingAndGlyphs" fill="#333">50</text>
<text x="356.2" y="446.4" text-anchor="end" font-family='"Liberation Sans",sans-serif' font-size="5.2" textLength="7.5" lengthAdjust="spacingAndGlyphs" fill="#333">100</text>
<text x="356.2" y="434.7" text-anchor="end" font-family='"Liberation Sans",sans-serif' font-size="5.2" textLength="7.5" lengthAdjust="spacingAndGlyphs" fill="#333">150</text>
<text x="356.2" y="423.1" text-anchor="end" font-family='"Liberation Sans",sans-serif' font-size="5.2" textLength="7.5" lengthAdjust="spacingAndGlyphs" fill="#333">200</text>
<text x="356.2" y="411.5" text-anchor="end" font-family='"Liberation Sans",sans-serif' font-size="5.2" textLength="7.5" lengthAdjust="spacingAndGlyphs" fill="#333">250</text>
<text x="356.2" y="399.9" text-anchor="end" font-family='"Liberation Sans",sans-serif' font-size="5.2" textLength="7.5" lengthAdjust="spacingAndGlyphs" fill="#333">300</text>
<text x="356.2" y="388.3" text-anchor="end" font-family='"Liberation Sans",sans-serif' font-size="5.2" textLength="7.5" lengthAdjust="spacingAndGlyphs" fill="#333">350</text>
<text x="356.2" y="376.6" text-anchor="end" font-family='"Liberation Sans",sans-serif' font-size="5.2" textLength="7.5" lengthAdjust="spacingAndGlyphs" fill="#333">400</text>
<text x="356.2" y="365.0" text-anchor="end" font-family='"Liberation Sans",sans-serif' font-size="5.2" textLength="7.5" lengthAdjust="spacingAndGlyphs" fill="#333">450</text>
<text x="356.2" y="353.4" text-anchor="end" font-family='"Liberation Sans",sans-serif' font-size="5.2" textLength="7.5" lengthAdjust="spacingAndGlyphs" fill="#333">500</text>
<text x="512" y="334.6" text-anchor="middle" font-family='"Liberation Sans",sans-serif' font-size="6" textLength="34" lengthAdjust="spacingAndGlyphs" fill="#222">Frequency (Hz)</text>
<text transform="translate(332.6,420.5) rotate(-90)" text-anchor="middle" font-family='"Liberation Sans",sans-serif' font-size="5.5" textLength="34" lengthAdjust="spacingAndGlyphs" fill="#222">Phase velocity (m/s)</text>
<path d="M385.9 360.4 387.9 356.7 389.9 356.2 390.7 356.7 391.2 365.5 391.7 356.7 395.0 356.2 396.0 356.7 396.6 369.0 397.1 356.7 400.6 356.7 401.1 367.9 401.6 356.7 405.2 356.7 405.7 367.4 406.2 356.7 409.3 357.2 410.3 355.1M407.2 368.7 419.6 376.3 434.2 373.8 448.6 351.8 457.9 383.5 469.3 381.4 474.6 362.8 481.4 365.6 491.9 351.7 498.4 356.8 512.7 375.0 518.6 376.4 524.2 368.5 529.7 351.6 543.5 354.9 550.0 385.5 563.9 357.0 578.7 365.4 590.3 354.8 605.0 371.6M407.2 381.1 414.7 359.2 420.6 353.5 425.4 357.4 436.2 351.6 447.9 358.4 455.4 377.4 464.9 357.8 474.3 372.2 479.0 385.2 483.4 374.2 496.9 351.7 509.8 359.3 520.3 351.6 524.9 354.3 539.7 354.6 552.2 382.8 566.8 358.6 574.9 364.8 587.6 352.8 600.1 376.4 613.8 351.8M407.2 352.6 415.1 368.2 429.5 358.5 443.9 365.6 451.5 357.8 457.5 352.4 463.3 371.5 478.5 353.9 483.1 385.8 493.1 360.6 499.9 367.6 513.2 362.3 522.0 352.1 536.3 351.8 545.9 378.4 551.4 373.4 566.1 369.0 579.0 352.8 588.0 353.6 601.5 357.2 610.6 386.4M407.2 385.2 416.4 363.5 428.6 363.2 436.0 360.5 441.7 359.7 456.8 384.4 467.9 363.9 475.7 352.5 482.9 375.7 496.6 359.2 509.5 375.4 521.4 370.5 533.9 359.2 545.9 356.8 555.4 375.1 567.2 357.2 581.9 369.9 592.4 351.6 602.6 356.0 614.2 362.6M407.2 369.8 420.2 358.8 431.5 373.7 444.9 358.8 458.4 379.9 470.1 385.2 484.9 364.6 494.9 354.0 508.4 383.2 517.8 371.6 529.9 373.4 535.9 375.6 546.5 370.5 555.2 368.8 568.0 369.3 580.1 351.8 586.0 361.8 597.3 355.2 609.1 369.1 613.6 362.9M407.2 352.0 412.8 357.8 418.9 354.6 423.4 362.7 431.7 368.3 442.4 355.6 456.6 351.6 465.2 356.7 473.8 353.0 487.2 359.6 491.7 368.4 496.8 365.6 504.7 367.0 519.5 377.4 528.2 377.2 539.5 359.4 545.2 367.6 555.6 384.2 570.5 368.2 578.5 381.0 582.5 352.8 592.9 368.4 598.6 369.0 612.6 359.6M407.2 355.4 414.6 385.0 422.9 384.4 437.2 367.6 444.2 385.5 453.8 360.9 461.4 385.6 471.0 356.9 480.4 353.1 491.5 361.9 498.8 375.7 512.1 351.7 522.2 356.6 536.7 375.7 543.5 356.4 549.3 385.9 556.7 368.1 566.1 369.7 576.9 373.9 582.3 374.7 589.7 365.2 597.6 357.2 607.6 362.6 615.7 374.0M407.2 351.8 414.1 362.3 428.5 380.8 438.6 351.7 451.4 361.4 461.9 372.4 473.1 363.3 487.4 359.9 495.8 379.0 502.1 357.2 515.5 352.2 528.9 371.8 537.8 356.9 550.6 381.9 556.3 363.1 566.5 363.8 574.3 353.7 584.9 377.1 589.7 355.4 603.0 376.2 614.5 351.7M407.2 385.4 422.5 372.1 427.1 378.5 433.6 369.7 448.4 372.6 453.9 357.1 468.3 353.6 479.2 360.9 485.1 368.7 489.6 352.8 497.9 352.3 502.7 366.8 515.0 380.3 520.6 361.5 528.2 367.8 537.8 383.3 546.0 352.1 557.9 353.6 569.0 364.1 583.3 366.0 594.3 356.3 604.6 356.1 617.0 364.6M407.2 355.6 415.5 373.6 421.5 372.6 432.9 352.5 444.5 352.6 450.0 367.6 456.7 380.2 466.2 358.0 479.1 351.8 491.3 352.0 497.1 384.0 508.8 355.3 514.2 385.0 525.7 377.5 531.3 368.8 539.3 355.6 547.1 368.4 555.1 360.0 560.7 378.0 572.0 376.8 581.0 379.0 590.8 367.5 601.3 373.8 609.8 352.7 614.3 354.8 618.8 380.8M407.2 374.7 411.3 362.8 425.3 368.6 434.2 362.7 439.4 353.7 445.3 359.6 453.6 380.4 459.4 356.1 466.6 353.9 473.9 355.6 483.3 351.8 497.8 359.4 512.3 371.5 523.9 362.9 538.6 353.0 550.2 357.1 561.8 373.3 567.7 354.7 572.0 355.5 577.0 360.5 591.9 359.3 599.5 362.8 606.7 373.4 618.9 353.9M407.2 370.8 421.8 369.7 430.7 385.2 434.9 352.1 447.7 360.8 452.2 365.8 467.4 364.6 475.4 352.6 480.2 381.3 489.8 383.2 494.5 355.8 499.1 360.3 503.9 356.1 512.5 357.5 517.1 351.9 532.1 354.2 541.9 360.5 551.9 352.5 559.5 352.8 569.6 382.4 580.4 379.2 586.8 351.7 596.9 363.4 607.4 359.7 618.5 373.1M407.2 357.5 416.3 377.8 422.9 353.0 430.5 352.5 443.2 377.5 450.8 353.2 455.8 355.8 460.8 361.4 471.3 355.8 476.1 372.0 480.7 354.7 487.9 359.6 493.1 361.1 500.7 374.3 511.0 381.2 522.4 374.7 532.9 361.9 546.1 370.1 560.9 373.3 572.8 356.4 585.9 359.8 591.5 352.2 597.4 356.3 609.1 356.9 613.9 374.9M407.2 351.8 411.9 353.2 419.9 379.4 434.6 368.3 441.3 361.4 449.4 358.2 453.6 367.2 467.0 373.2 472.1 365.1 478.1 372.4 487.2 383.3 500.1 353.0 507.7 382.1 517.0 361.6 526.0 375.0 540.5 365.1 555.5 367.6 560.7 377.2 569.5 352.0 584.5 351.8 595.0 363.3 609.0 360.2 615.4 356.7M407.2 366.3 415.3 374.3 422.1 358.9 428.9 385.5 442.4 378.9 453.4 360.4 459.1 378.0 468.6 351.9 474.6 352.7 486.7 381.4 493.0 376.4 500.7 371.3 514.4 368.7 527.5 359.7 531.6 364.4 542.3 354.4 550.7 357.8 555.1 357.7 563.4 363.1 575.4 360.4 590.5 377.3 604.9 371.7 616.4 365.3M407.2 359.2 418.0 371.1 427.9 356.9 432.8 352.5 440.9 367.0 453.4 372.7 460.9 382.8 468.1 372.7 473.0 374.4 484.5 384.2 498.7 371.5 512.1 373.7 523.0 354.9 532.9 381.2 539.6 385.1 549.8 360.2 553.9 360.1 559.9 370.0 574.1 381.9 585.0 360.0 590.3 371.5 600.6 372.7 608.8 380.7 615.3 357.5M407.2 368.7 421.4 354.0 432.5 375.0 439.1 352.1 449.5 378.0 463.4 373.3 472.1 361.3 482.1 381.6 489.6 356.8 500.4 384.7 506.6 351.8 512.0 366.3 522.8 354.3 529.0 367.6 540.3 371.6 552.5 352.1 562.0 378.2 576.8 357.9 590.4 369.7 604.8 355.4 616.7 378.5M407.2 352.7 413.5 353.8 418.6 353.7 429.6 352.8 442.1 373.6 455.3 376.7 467.4 382.6 482.2 368.8 497.0 352.8 502.3 352.2 508.6 359.6 517.8 371.2 530.2 352.4 538.8 365.6 547.1 353.0 557.8 359.6 569.6 363.8 584.4 383.6 589.3 374.7 601.4 357.2 606.8 363.2 614.8 373.7M407.2 359.8 414.6 363.9 426.4 376.0 437.0 357.2 444.8 378.8 454.7 352.0 463.5 355.6 475.0 352.3 482.1 352.6 491.5 385.7 501.6 360.0 516.2 352.6 524.2 377.0 528.3 375.0 536.5 351.7 543.3 362.4 551.7 364.6 556.4 355.2 571.3 361.9 580.7 352.5 587.9 384.1 599.6 364.2 604.3 360.2 617.1 361.6M407.2 381.5 418.5 369.3 423.0 351.7 435.7 360.9 449.6 377.8 463.9 359.7 479.1 374.5 493.2 353.6 506.0 361.2 520.9 386.2 527.4 361.1 534.5 362.8 541.8 370.6 547.3 354.0 556.5 352.3 564.8 381.2 578.8 354.6 583.1 377.9 597.9 367.8 603.5 355.6 617.9 383.2M407.2 354.4 416.1 356.4 428.6 359.5 441.4 353.7 451.2 385.2 463.2 352.5 468.5 369.6 476.8 359.4 486.2 367.1 501.1 355.7 511.5 356.3 521.7 373.4 527.2 363.2 539.2 351.6 551.9 361.0 561.6 368.2 574.6 352.1 584.2 351.9 592.6 358.7 596.9 357.3 606.0 370.1M407.2 359.5 417.2 372.6 431.8 383.9 446.9 357.4 452.9 383.0 457.8 362.1 470.1 365.0 478.5 382.6 486.0 365.9 499.3 353.4 507.3 363.7 517.7 354.9 526.9 352.1 531.9 358.6 537.6 384.8 544.6 356.6 557.5 373.8 564.5 377.9 575.6 360.0 586.7 355.8 593.7 380.2 602.7 381.2 608.7 353.4 613.4 373.8M407.2 351.6 411.8 377.7 421.4 380.0 425.9 367.4 431.3 372.9 442.2 368.3 448.8 383.8 454.1 352.2 465.8 352.6 470.6 362.5 482.0 381.0 494.1 352.2 505.4 378.6 510.8 374.4 517.8 357.3 521.8 374.6 531.7 381.5 541.0 353.7 547.5 356.3 562.1 354.8 567.2 358.9 572.1 361.3 583.2 369.9 589.2 353.4 598.8 371.5 607.9 366.7M407.2 353.5 414.3 363.7 424.4 381.4 434.7 370.4 443.4 375.8 456.9 357.1 462.1 356.2 470.2 380.9 477.2 369.0 488.5 384.2 493.9 375.1 501.7 352.8 512.8 378.6 523.4 352.0 538.4 359.9 549.6 373.1 556.6 360.7 564.3 352.6 569.1 372.8 577.8 379.9 582.6 357.4 588.7 383.5 601.6 381.2 611.3 352.8M407.2 355.4 411.6 366.4 418.9 352.8 428.7 383.0 443.4 362.7 448.6 375.1 454.0 365.3 459.0 385.8 469.1 361.7 476.2 365.9 491.2 361.4 497.6 364.5 512.0 359.8 523.1 382.3 530.8 377.1 540.8 353.4 545.5 383.3 554.8 361.9 569.1 366.8 578.8 356.9 591.2 356.1 600.5 374.6 611.4 353.3 617.7 371.8M407.2 352.7 422.5 353.3 428.4 352.5 437.5 368.6 451.2 353.9 463.1 352.8 473.6 356.0 481.7 352.0 493.8 353.1 506.4 358.4 517.1 369.4 526.7 380.1 541.0 356.8 548.9 380.2 554.4 361.1 563.1 385.2 568.6 370.1 581.2 373.3 585.3 383.6 592.8 379.1 604.3 361.1 617.7 371.0M407.2 373.4 417.0 372.5 427.9 376.4 433.8 363.7 437.9 376.1 450.6 378.3 455.1 365.3 464.5 353.0 470.9 385.1 484.5 355.7 497.8 369.9 506.2 369.6 512.9 356.6 517.0 370.1 527.6 373.9 537.3 361.6 544.8 373.6 553.1 367.7 565.6 361.9 577.4 352.1 584.4 378.5 590.1 352.1 594.3 375.0 599.6 362.4 608.6 376.7 618.0 364.7M407.2 376.3 419.9 368.8 433.3 368.4 445.4 379.0 456.4 351.7 470.4 385.9 476.7 352.2 484.6 352.7 492.8 352.5 499.3 351.6 508.2 357.3 520.4 360.0 526.3 384.1 540.4 371.5 546.9 360.5 556.0 360.7 560.4 362.3 573.1 371.7 586.8 371.3 599.4 379.9 613.7 376.2M407.2 370.3 418.7 380.5 430.7 361.9 436.9 358.1 443.8 371.2 456.5 354.5 466.5 378.5 474.7 352.6 485.6 359.2 491.2 357.0 495.4 353.6 504.2 352.8 508.4 365.8 523.2 378.2 530.9 382.6 535.8 353.6 540.0 352.1 550.8 374.6 560.2 376.7 569.3 382.3 580.2 365.3 586.2 361.3 595.2 377.6 601.8 357.2 615.0 352.3M407.2 355.2 418.8 367.6 423.9 373.4 432.5 357.9 446.2 375.6 453.7 371.0 459.2 364.6 464.2 369.5 478.5 369.3 483.0 364.4 492.3 361.9 498.1 356.7 507.2 352.3 518.8 355.8 526.1 352.6 533.6 382.9 540.9 352.6 548.9 383.6 553.9 358.6 560.3 371.2 569.6 352.7 583.3 358.2 595.1 362.2 608.9 352.1 615.5 356.9M407.2 377.6 416.9 358.7 426.7 378.7 437.1 362.2 448.6 368.4 457.2 361.3 462.7 361.7 476.6 357.5 484.8 367.9 495.5 354.2 504.5 373.5 509.1 352.9 521.6 381.6 526.4 352.4 537.5 356.9 548.9 351.8 558.1 353.9 565.9 371.7 575.7 379.1 589.2 368.6 602.7 354.2 612.1 357.9M407.2 352.9 421.2 359.5 434.1 383.5 448.7 360.1 462.3 386.3 467.9 374.1 480.1 362.4 487.2 354.1 495.9 383.0 504.5 356.1 515.5 361.7 526.4 362.3 533.7 351.8 546.9 370.2 553.7 363.9 564.3 364.1 578.5 375.6 586.0 358.5 596.9 353.9 611.4 351.9M407.2 356.6 417.2 351.9 423.8 385.9 436.7 355.2 445.9 351.8 451.3 354.5 466.4 357.7 473.2 352.2 478.5 386.2 490.9 382.4 504.3 375.7 511.2 354.0 518.3 352.2 524.4 372.9 533.9 351.6 541.4 378.9 555.0 373.3 567.3 381.9 577.6 359.9 588.1 356.8 592.5 356.2 601.7 353.1 606.7 355.9 614.9 384.2M407.2 378.3 419.6 367.5 427.3 360.2 434.9 369.2 448.6 376.1 456.0 353.6 460.1 367.2 466.8 351.6 474.2 355.4 480.6 370.5 491.2 356.8 503.4 354.9 517.8 353.0 528.5 372.2 540.8 363.5 554.6 369.0 566.4 352.4 572.6 362.7 582.8 352.6 595.1 358.7 604.5 364.7 618.0 357.4M407.2 368.0 418.6 357.7 425.8 362.8 436.6 369.6 442.2 362.0 452.6 354.6 457.8 382.8 462.1 363.9 469.4 351.8 476.5 353.9 485.1 381.9 490.0 358.9 501.9 368.8 506.2 355.4 513.4 381.1 522.4 356.2 531.9 363.4 537.6 370.6 549.8 363.1 559.9 375.2 574.6 368.3 579.2 364.1 590.7 358.2 602.4 359.4 613.4 368.4M407.2 382.6 419.2 372.4 431.2 355.5 442.1 368.6 446.9 374.4 453.5 363.6 463.4 373.0 476.1 362.8 490.7 361.9 501.1 386.0 508.8 372.6 523.5 352.5 536.3 369.9 546.4 376.1 560.1 353.6 569.6 368.4 581.5 384.3 594.6 377.9 599.4 361.3 613.7 383.7M407.2 358.3 419.9 365.1 431.5 369.3 445.2 372.6 460.2 363.7 469.8 370.2 480.1 352.0 494.9 357.9 504.6 351.9 510.8 382.8 518.0 357.3 531.1 355.7 542.7 366.5 556.8 363.1 564.5 356.2 572.7 351.6 578.1 353.6 585.7 375.1 600.3 359.0 607.2 357.1 618.3 363.1M407.2 364.8 414.3 353.5 427.2 352.8 436.2 375.0 446.3 380.1 453.9 383.7 458.5 381.1 467.3 351.6 474.3 385.9 486.4 373.7 499.5 351.6 507.0 362.7 521.3 381.8 527.0 385.8 537.3 357.5 542.3 361.3 552.2 362.2 559.8 383.8 569.1 357.5 581.9 355.8 590.7 352.8 597.5 386.3 608.5 364.8M407.2 370.8 417.1 359.3 422.9 351.8 428.3 360.6 432.5 370.9 440.3 355.5 447.9 363.7 454.3 379.0 463.8 352.2 468.8 380.9 479.4 357.1 491.4 351.9 505.4 383.2 516.9 352.0 525.8 378.3 536.5 354.9 543.2 352.2 553.1 354.3 562.2 381.1 576.3 363.6 589.2 353.3 603.8 379.7 613.3 380.7M407.2 385.4 414.9 382.6 428.4 383.1 440.6 352.3 447.8 370.1 462.0 371.2 466.5 358.7 474.5 354.1 481.1 364.5 489.3 356.4 498.0 383.7 508.7 374.3 523.2 351.8 537.2 352.6 543.4 373.8 555.9 368.4 565.3 373.0 574.2 354.6 580.7 352.9 585.2 384.0 599.9 358.8 608.6 356.7M407.2 363.6 413.2 380.6 427.7 351.9 436.9 355.2 448.1 359.1 455.5 357.4 466.4 364.0 475.9 371.2 485.3 383.7 494.3 376.2 508.8 368.7 519.4 376.1 531.5 354.6 540.2 353.8 544.5 371.5 552.3 356.1 556.6 351.7 568.2 359.1 577.2 371.0 591.4 372.1 597.9 385.9 604.1 367.0 615.3 357.0M407.2 368.2 419.3 353.4 432.6 357.0 443.6 373.7 451.3 356.4 459.1 385.3 470.5 362.9 480.9 370.1 487.9 352.3 493.2 367.1 503.9 385.3 515.0 379.1 530.1 363.8 538.9 362.9 547.1 374.7 557.6 353.1 572.4 364.9 584.8 365.7 595.5 366.8 600.9 353.2 613.1 358.8 618.6 377.3M407.2 374.9 415.6 353.3 428.2 355.1 439.8 371.9 446.9 351.6 457.6 376.1 468.2 385.6 474.9 373.4 483.8 367.0 491.3 355.5 501.5 368.1 515.7 368.0 525.4 369.9 536.5 360.7 543.5 371.2 551.9 351.9 557.9 359.1 569.7 370.1 579.2 377.3 587.0 358.9 599.4 371.1 608.3 380.8 612.6 365.3M407.2 380.3 413.5 376.9 423.5 383.1 431.3 370.5 442.5 386.0 450.4 360.1 455.8 371.3 460.7 378.9 466.4 354.5 481.1 363.9 493.6 358.7 500.4 359.4 515.5 354.5 529.7 380.5 541.4 356.4 553.6 381.6 564.3 355.2 575.2 384.2 585.9 353.6 592.3 369.0 596.9 351.6 605.1 356.2 614.7 352.3M407.2 371.0 414.9 367.1 424.8 376.0 435.4 369.4 445.7 377.6 450.9 352.9 464.6 378.2 468.8 381.1 479.7 379.2 491.6 359.6 497.0 374.9 509.0 362.8 516.1 359.3 530.6 362.6 537.1 385.7 552.1 354.2 558.3 373.3 566.8 363.0 578.5 356.6 589.2 354.8 595.8 365.6 604.6 381.1 610.3 382.2 617.3 358.6M407.2 357.8 422.3 359.2 435.7 385.2 447.6 354.4 456.5 354.0 463.3 358.4 469.3 371.1 479.2 357.1 486.1 353.5 491.5 361.7 496.4 364.8 503.3 375.3 510.4 379.2 525.0 382.8 531.6 382.8 541.0 380.6 550.3 365.5 557.2 374.6 565.4 380.6 577.4 361.4 581.8 356.5 590.6 359.5 601.2 351.6 610.5 381.0M407.2 371.5 419.0 367.9 434.3 376.1 443.5 363.8 458.1 365.9 468.8 357.5 480.3 363.5 495.0 386.4 510.2 383.9 514.8 352.3 522.6 377.8 532.9 356.1 538.1 356.0 543.6 353.5 556.0 354.6 562.0 368.6 567.5 378.1 578.9 380.3 591.1 373.4 598.1 361.2 606.4 360.2M407.2 361.6 420.3 369.1 425.3 355.0 435.8 376.0 442.5 356.0 450.8 362.4 459.5 382.6 470.4 356.7 478.3 364.2 484.2 360.2 489.0 370.1 502.8 381.3 513.5 359.9 523.9 366.0 529.9 365.4 539.6 354.7 548.6 378.3 559.8 358.2 566.6 369.0 576.8 357.3 586.2 360.6 597.3 380.3 605.5 365.4 615.9 370.6M407.2 355.9 421.6 353.5 433.3 356.2 442.9 362.2 449.6 354.2 464.4 351.9 470.1 373.7 478.3 354.6 491.1 385.5 497.5 372.3 506.0 386.3 516.7 381.1 528.2 353.3 537.3 372.3 543.0 352.5 558.2 382.5 569.6 352.2 581.5 385.9 594.3 372.7 603.3 369.1 617.7 363.9M407.2 353.5 422.0 372.4 436.5 353.6 441.8 371.3 450.6 362.6 457.3 374.8 470.1 373.2 479.0 363.6 487.5 362.7 495.2 362.8 510.1 376.6 515.6 370.7 528.9 358.7 542.9 383.4 547.8 368.8 556.1 362.7 566.3 379.4 577.5 380.8 584.3 376.4 592.8 354.3 605.8 366.9 612.4 381.0M407.2 370.9 422.3 358.1 432.5 365.7 439.8 365.2 454.7 371.9 461.7 371.3 472.7 359.4 484.2 359.6 497.1 360.0 510.3 357.2 516.3 358.2 521.8 380.1 537.0 361.0 543.8 380.5 557.4 355.8 564.9 363.8 570.4 355.0 579.0 353.0 584.6 368.0 592.1 382.1 606.9 370.7 614.1 374.7M407.2 379.9 416.1 371.7 428.5 372.1 441.0 358.6 446.8 359.4 461.6 351.8 468.8 357.6 477.8 379.9 483.8 352.8 488.1 358.5 500.3 362.2 511.6 364.4 519.7 360.7 524.2 384.0 536.5 352.7 542.8 375.8 552.6 374.2 565.1 353.5 578.4 354.7 584.0 374.1 597.2 357.4 605.6 373.5 612.9 361.9M410.3 386.5H618.9M410.3 351.6H618.9" stroke="#ff0a0a" stroke-width="0.5" fill="none" stroke-linejoin="bevel"/>
<defs><marker id="mk" markerWidth="3" markerHeight="3" refX="1.5" refY="1.5" markerUnits="userSpaceOnUse"><circle cx="1.5" cy="1.5" r="1.3" fill="#f6f6f6" stroke="#889" stroke-width="0.35"/></marker><marker id="md" markerWidth="3" markerHeight="3" refX="1.5" refY="1.5" markerUnits="userSpaceOnUse"><path d="M1.5 0.3L2.7 1.5L1.5 2.7L0.3 1.5z" fill="#b8b8e0" stroke="#556" stroke-width="0.3"/></marker></defs>
<polyline points="384.9,386.5 385.8,392.0 386.7,396.7 387.6,400.8 388.5,404.3 389.4,407.3 390.3,409.9 391.3,412.1 392.2,414.1 393.1,415.7 394.0,417.2 394.9,418.4 395.8,419.4 396.8,420.3 397.7,421.1 398.6,421.8 399.5,422.4 400.4,422.9 401.3,423.3 402.3,423.7 403.2,424.0 404.1,424.3 405.0,424.5 405.9,424.7" fill="none" stroke="#6a6aa8" stroke-width="0.9" marker-mid="url(#md)"/>
<polyline points="385.1,388.6 386.0,393.9 386.9,398.4 387.9,402.3 388.8,405.7 389.7,408.6 390.6,411.1 391.5,413.2 392.4,415.1 393.4,416.7 394.3,418.0 395.2,419.2 396.1,420.2 397.0,421.1 397.9,421.8 398.8,422.5 399.8,423.0 400.7,423.5 401.6,423.9 402.5,424.3 403.4,424.6 404.3,424.9 405.3,425.1 406.2,425.3" fill="none" stroke="#6a6aa8" stroke-width="0.9" marker-mid="url(#md)"/>
<polyline points="385.4,390.6 386.3,395.7 387.2,400.1 388.1,403.8 389.0,407.0 389.9,409.8 390.9,412.2 391.8,414.3 392.7,416.0 393.6,417.6 394.5,418.9 395.4,420.0 396.4,421.0 397.3,421.8 398.2,422.5 399.1,423.2 400.0,423.7 400.9,424.2 401.8,424.5 402.8,424.9 403.7,425.2 404.6,425.4 405.5,425.6" fill="none" stroke="#6a6aa8" stroke-width="0.9" marker-mid="url(#md)"/>
<polyline points="385.6,392.6 386.5,397.5 387.4,401.7 388.4,405.3 389.3,408.4 390.2,411.0 391.1,413.3 392.0,415.3 392.9,417.0 393.9,418.5 394.8,419.7 395.7,420.8 396.6,421.7 397.5,422.5 398.4,423.2 399.4,423.8 400.3,424.3 401.2,424.8 402.1,425.2 403.0,425.5 403.9,425.8 404.9,426.0 405.8,426.2" fill="none" stroke="#6a6aa8" stroke-width="0.9" marker-mid="url(#md)"/>
<polyline points="385.9,394.6 386.8,399.2 387.7,403.2 388.6,406.7 389.5,409.7 390.5,412.2 391.4,414.4 392.3,416.3 393.2,417.9 394.1,419.3 395.0,420.6 395.9,421.6 396.9,422.5 397.8,423.3 398.7,423.9 399.6,424.5 400.5,425.0 401.4,425.4 402.4,425.8 403.3,426.1 404.2,426.3 405.1,426.6 406.0,426.8" fill="none" stroke="#6a6aa8" stroke-width="0.9" marker-mid="url(#md)"/>
<polyline points="386.1,396.4 387.0,400.9 388.0,404.8 388.9,408.1 389.8,410.9 390.7,413.4 391.6,415.5 392.5,417.3 393.5,418.9 394.4,420.2 395.3,421.4 396.2,422.4 397.1,423.2 398.0,424.0 398.9,424.6 399.9,425.1 400.8,425.6 401.7,426.0 402.6,426.4 403.5,426.7 404.4,426.9 405.4,427.1" fill="none" stroke="#6a6aa8" stroke-width="0.9" marker-mid="url(#md)"/>
<polyline points="405.2,420.2 410.3,419.9 415.4,419.7 420.5,419.5 425.6,419.2 430.6,419.0 435.7,418.8 440.8,418.5 445.9,417.9 451.0,417.2 456.1,416.6 461.2,415.9 466.3,415.3 471.4,414.4 476.4,413.5 481.5,412.6 486.6,411.7 491.7,410.9 496.8,410.1 501.9,409.4 507.0,408.6 512.1,407.8 517.1,407.8 522.2,407.8 527.3,407.8 532.4,408.3 537.5,408.8 542.6,409.2 547.7,409.7 552.8,410.1 557.9,410.5 562.9,410.9 568.0,411.3" fill="none" stroke="#5aa05a" stroke-width="1.1" marker-mid="url(#mk)" marker-start="url(#mk)" marker-end="url(#mk)"/>
<polyline points="405.2,420.6 410.3,420.5 415.4,420.4 420.5,420.2 425.6,420.1 430.6,420.0 435.7,419.8 440.8,419.7 445.9,419.3 451.0,418.9 456.1,418.4 461.2,418.0 466.3,417.6 471.4,416.9 476.4,416.1 481.5,415.4 486.6,414.6 491.7,413.9 496.8,413.1 501.9,412.4 507.0,411.6 512.1,410.9 517.1,410.7 522.2,410.5 527.3,410.3 532.4,410.2 537.5,410.5 542.6,410.9 547.7,411.2 552.8,411.6 557.9,411.7 562.9,411.9 568.0,412.0" fill="none" stroke="#7cc87c" stroke-width="1.1" marker-mid="url(#mk)" marker-start="url(#mk)" marker-end="url(#mk)"/>
<polyline points="405.2,421.3 410.3,421.0 415.4,420.6 420.5,420.3 425.6,419.9 430.6,419.6 435.7,419.2 440.8,418.9 445.9,418.5 451.0,418.2 456.1,417.8 461.2,417.5 466.3,417.1 471.4,417.0 476.4,417.0 481.5,416.9 486.6,416.8 491.7,416.7 496.8,416.6 501.9,416.5 507.0,416.4 512.1,416.3 517.1,416.2 522.2,416.2 527.3,416.2 532.4,416.2 537.5,416.2 542.6,416.2 547.7,416.2 552.8,416.2 557.9,416.2 562.9,416.2 568.0,416.2 573.1,416.3 578.2,416.4 583.3,416.5 588.4,416.6 593.5,416.7 598.6,416.8 603.7,416.9 608.7,417.0 613.8,417.0 618.9,417.1" fill="none" stroke="#c8e060" stroke-width="1.1" marker-mid="url(#mk)" marker-start="url(#mk)" marker-end="url(#mk)"/>
<polyline points="405.2,421.8 410.3,421.6 415.4,421.3 420.5,421.1 425.6,420.9 430.6,420.6 435.7,420.4 440.8,420.2 445.9,419.9 451.0,419.7 456.1,419.5 461.2,419.2 466.3,419.0 471.4,418.9 476.4,418.9 481.5,418.9 486.6,418.8 491.7,418.8 496.8,418.7 501.9,418.7 507.0,418.6 512.1,418.6 517.1,418.5 522.2,418.5 527.3,418.5 532.4,418.5 537.5,418.5 542.6,418.5 547.7,418.5 552.8,418.5 557.9,418.5 562.9,418.5 568.0,418.5 573.1,418.6 578.2,418.6 583.3,418.7 588.4,418.7 593.5,418.8 598.6,418.8 603.7,418.9 608.7,418.9 613.8,418.9 618.9,419.0" fill="none" stroke="#e0e870" stroke-width="1.1" marker-mid="url(#mk)" marker-start="url(#mk)" marker-end="url(#mk)"/>
<polyline points="405.2,420.1 410.3,420.3 415.4,420.4 420.5,420.6 425.6,420.7 430.6,420.9 435.7,421.0 440.8,421.1 445.9,421.2 451.0,421.4 456.1,421.5 461.2,421.6 466.3,421.7 471.4,421.7 476.4,421.8 481.5,421.9 486.6,421.9 491.7,422.0 496.8,422.0 501.9,422.1 507.0,422.1 512.1,422.1 517.1,422.1 522.2,422.1 527.3,422.1 532.4,422.1 537.5,422.0 542.6,422.0 547.7,421.9 552.8,421.9 557.9,421.8 562.9,421.8 568.0,421.7 573.1,421.6 578.2,421.5 583.3,421.4 588.4,421.3 593.5,421.2 598.6,421.1 603.7,421.0 608.7,420.9 613.8,420.8 618.9,420.7" fill="none" stroke="#66bb6a" stroke-width="1.1" marker-mid="url(#mk)" marker-start="url(#mk)" marker-end="url(#mk)"/>
<polyline points="405.2,419.5 410.3,419.7 415.4,419.9 420.5,420.2 425.6,420.4 430.6,420.6 435.7,420.7 440.8,420.9 445.9,421.1 451.0,421.2 456.1,421.3 461.2,421.5 466.3,421.6 471.4,421.7 476.4,421.8 481.5,421.9 486.6,422.0 491.7,422.0 496.8,422.1 501.9,422.1 507.0,422.2 512.1,422.2 517.1,422.2 522.2,422.3 527.3,422.3 532.4,422.3 537.5,422.3 542.6,422.2 547.7,422.2 552.8,422.2 557.9,422.1 562.9,422.1 568.0,422.1 573.1,422.0 578.2,421.9 583.3,421.9 588.4,421.8 593.5,421.7 598.6,421.7 603.7,421.6 608.7,421.5 613.8,421.4 618.9,421.4" fill="none" stroke="#aed581" stroke-width="1.1" marker-mid="url(#mk)" marker-start="url(#mk)" marker-end="url(#mk)"/>
<polyline points="405.2,420.5 410.3,420.6 415.4,420.7 420.5,420.8 425.6,420.8 430.6,420.9 435.7,420.9 440.8,421.0 445.9,421.0 451.0,421.0 456.1,421.1 461.2,421.1 466.3,421.1 471.4,421.2 476.4,421.2 481.5,421.2 486.6,421.2 491.7,421.2 496.8,421.3 501.9,421.3 507.0,421.3 512.1,421.3 517.1,421.4 522.2,421.4 527.3,421.4 532.4,421.5 537.5,421.5 542.6,421.5 547.7,421.6 552.8,421.6 557.9,421.6 562.9,421.7 568.0,421.7 573.1,421.8 578.2,421.8 583.3,421.9 588.4,421.9 593.5,422.0 598.6,422.0 603.7,422.1 608.7,422.1 613.8,422.2 618.9,422.3" fill="none" stroke="#c5e1a5" stroke-width="1.1" marker-mid="url(#mk)" marker-start="url(#mk)" marker-end="url(#mk)"/>
<polyline points="405.2,421.1 410.3,421.5 415.4,421.8 420.5,422.1 425.6,422.4 430.6,422.7 435.7,422.9 440.8,423.2 445.9,423.4 451.0,423.6 456.1,423.8 461.2,424.0 466.3,424.1 471.4,424.3 476.4,424.4 481.5,424.5 486.6,424.6 491.7,424.7 496.8,424.8 501.9,424.9 507.0,425.0 512.1,425.0 517.1,425.1 522.2,425.1 527.3,425.2 532.4,425.2 537.5,425.2 542.6,425.2 547.7,425.2 552.8,425.2 557.9,425.2 562.9,425.2 568.0,425.2 573.1,425.2 578.2,425.1 583.3,425.1 588.4,425.1 593.5,425.0 598.6,425.0 603.7,425.0 608.7,424.9 613.8,424.9 618.9,424.8" fill="none" stroke="#43a047" stroke-width="1.1" marker-mid="url(#mk)" marker-start="url(#mk)" marker-end="url(#mk)"/>
<polyline points="405.2,421.6 410.3,421.9 415.4,422.1 420.5,422.3 425.6,422.5 430.6,422.7 435.7,422.8 440.8,422.9 445.9,423.1 451.0,423.2 456.1,423.3 461.2,423.3 466.3,423.4 471.4,423.5 476.4,423.6 481.5,423.6 486.6,423.7 491.7,423.8 496.8,423.8 501.9,423.9 507.0,423.9 512.1,424.0 517.1,424.1 522.2,424.1 527.3,424.2 532.4,424.2 537.5,424.3 542.6,424.4 547.7,424.5 552.8,424.5 557.9,424.6 562.9,424.7 568.0,424.8 573.1,424.8 578.2,424.9 583.3,425.0 588.4,425.1 593.5,425.2 598.6,425.3 603.7,425.3 608.7,425.4 613.8,425.5 618.9,425.6" fill="none" stroke="#9ccc65" stroke-width="1.1" marker-mid="url(#mk)" marker-start="url(#mk)" marker-end="url(#mk)"/>
<polyline points="405.2,421.8 410.3,422.2 415.4,422.6 420.5,423.0 425.6,423.3 430.6,423.6 435.7,423.9 440.8,424.1 445.9,424.4 451.0,424.6 456.1,424.8 461.2,425.0 466.3,425.2 471.4,425.3 476.4,425.5 481.5,425.6 486.6,425.7 491.7,425.8 496.8,425.9 501.9,426.0 507.0,426.1 512.1,426.2 517.1,426.2 522.2,426.3 527.3,426.3 532.4,426.4 537.5,426.4 542.6,426.4 547.7,426.4 552.8,426.5 557.9,426.5 562.9,426.5 568.0,426.4 573.1,426.4 578.2,426.4 583.3,426.4 588.4,426.4 593.5,426.4 598.6,426.3 603.7,426.3 608.7,426.3 613.8,426.2 618.9,426.2" fill="none" stroke="#9ccc65" stroke-width="1.1" marker-mid="url(#mk)" marker-start="url(#mk)" marker-end="url(#mk)"/>
<polyline points="405.2,421.0 410.3,421.6 415.4,422.1 420.5,422.6 425.6,423.0 430.6,423.4 435.7,423.8 440.8,424.2 445.9,424.5 451.0,424.8 456.1,425.1 461.2,425.4 466.3,425.6 471.4,425.9 476.4,426.1 481.5,426.3 486.6,426.4 491.7,426.6 496.8,426.7 501.9,426.8 507.0,426.9 512.1,427.0 517.1,427.1 522.2,427.2 527.3,427.2 532.4,427.3 537.5,427.3 542.6,427.3 547.7,427.3 552.8,427.3 557.9,427.3 562.9,427.3 568.0,427.3 573.1,427.3 578.2,427.2 583.3,427.2 588.4,427.2 593.5,427.1 598.6,427.1 603.7,427.0 608.7,426.9 613.8,426.9 618.9,426.8" fill="none" stroke="#43a047" stroke-width="1.1" marker-mid="url(#mk)" marker-start="url(#mk)" marker-end="url(#mk)"/>
<polyline points="405.2,422.4 410.3,423.1 415.4,423.8 420.5,424.4 425.6,425.0 430.6,425.5 435.7,426.0 440.8,426.4 445.9,426.9 451.0,427.3 456.1,427.6 461.2,428.0 466.3,428.3 471.4,428.6 476.4,428.8 481.5,429.1 486.6,429.3 491.7,429.5 496.8,429.7 501.9,429.8 507.0,430.0 512.1,430.1 517.1,430.2 522.2,430.2 527.3,430.3 532.4,430.3 537.5,430.3 542.6,430.4 547.7,430.4 552.8,430.3 557.9,430.3 562.9,430.3 568.0,430.2 573.1,430.1 578.2,430.1 583.3,430.0 588.4,429.9 593.5,429.8 598.6,429.7 603.7,429.6 608.7,429.5 613.8,429.3 618.9,429.2" fill="none" stroke="#4db6ac" stroke-width="1.1" marker-mid="url(#mk)" marker-start="url(#mk)" marker-end="url(#mk)"/>
<polyline points="405.2,423.0 410.3,423.5 415.4,424.0 420.5,424.4 425.6,424.8 430.6,425.1 435.7,425.4 440.8,425.7 445.9,426.0 451.0,426.2 456.1,426.4 461.2,426.6 466.3,426.8 471.4,427.0 476.4,427.1 481.5,427.3 486.6,427.4 491.7,427.6 496.8,427.7 501.9,427.8 507.0,427.9 512.1,428.0 517.1,428.1 522.2,428.2 527.3,428.3 532.4,428.4 537.5,428.5 542.6,428.6 547.7,428.7 552.8,428.8 557.9,428.9 562.9,429.0 568.0,429.1 573.1,429.1 578.2,429.2 583.3,429.3 588.4,429.4 593.5,429.5 598.6,429.6 603.7,429.7 608.7,429.8 613.8,429.9 618.9,430.0" fill="none" stroke="#26a69a" stroke-width="1.1" marker-mid="url(#mk)" marker-start="url(#mk)" marker-end="url(#mk)"/>
<polyline points="405.2,422.7 410.3,423.5 415.4,424.2 420.5,424.9 425.6,425.6 430.6,426.2 435.7,426.7 440.8,427.2 445.9,427.7 451.0,428.2 456.1,428.6 461.2,429.0 466.3,429.3 471.4,429.6 476.4,429.9 481.5,430.2 486.6,430.4 491.7,430.7 496.8,430.9 501.9,431.0 507.0,431.2 512.1,431.3 517.1,431.4 522.2,431.5 527.3,431.6 532.4,431.7 537.5,431.7 542.6,431.7 547.7,431.8 552.8,431.8 557.9,431.8 562.9,431.7 568.0,431.7 573.1,431.7 578.2,431.6 583.3,431.6 588.4,431.5 593.5,431.4 598.6,431.3 603.7,431.2 608.7,431.2 613.8,431.1 618.9,431.0" fill="none" stroke="#1e88e5" stroke-width="1.1" marker-mid="url(#mk)" marker-start="url(#mk)" marker-end="url(#mk)"/>
<polyline points="405.2,423.1 410.3,423.9 415.4,424.6 420.5,425.2 425.6,425.8 430.6,426.3 435.7,426.8 440.8,427.3 445.9,427.7 451.0,428.1 456.1,428.5 461.2,428.8 466.3,429.1 471.4,429.4 476.4,429.6 481.5,429.9 486.6,430.1 491.7,430.3 496.8,430.5 501.9,430.6 507.0,430.8 512.1,430.9 517.1,431.1 522.2,431.2 527.3,431.3 532.4,431.4 537.5,431.5 542.6,431.6 547.7,431.7 552.8,431.7 557.9,431.8 562.9,431.9 568.0,431.9 573.1,432.0 578.2,432.0 583.3,432.1 588.4,432.1 593.5,432.2 598.6,432.2 603.7,432.2 608.7,432.2 613.8,432.3 618.9,432.3" fill="none" stroke="#64b5f6" stroke-width="1.1" marker-mid="url(#mk)" marker-start="url(#mk)" marker-end="url(#mk)"/>
<polyline points="405.2,423.0 410.3,423.8 415.4,424.6 420.5,425.3 425.6,425.9 430.6,426.5 435.7,427.1 440.8,427.6 445.9,428.1 451.0,428.5 456.1,428.9 461.2,429.2 466.3,429.6 471.4,429.9 476.4,430.2 481.5,430.4 486.6,430.7 491.7,430.9 496.8,431.1 501.9,431.3 507.0,431.4 512.1,431.6 517.1,431.7 522.2,431.8 527.3,431.9 532.4,432.0 537.5,432.1 542.6,432.2 547.7,432.2 552.8,432.3 557.9,432.3 562.9,432.4 568.0,432.4 573.1,432.4 578.2,432.4 583.3,432.4 588.4,432.5 593.5,432.5 598.6,432.4 603.7,432.4 608.7,432.4 613.8,432.4 618.9,432.4" fill="none" stroke="#1e88e5" stroke-width="1.1" marker-mid="url(#mk)" marker-start="url(#mk)" marker-end="url(#mk)"/>
<polyline points="405.2,424.3 410.3,425.5 415.4,426.6 420.5,427.6 425.6,428.5 430.6,429.2 435.7,429.9 440.8,430.5 445.9,431.1 451.0,431.6 456.1,432.0 461.2,432.4 466.3,432.7 471.4,433.0 476.4,433.3 481.5,433.5 486.6,433.7 491.7,433.9 496.8,434.0 501.9,434.1 507.0,434.3 512.1,434.3 517.1,434.4 522.2,434.5 527.3,434.5 532.4,434.5 537.5,434.5 542.6,434.5 547.7,434.5 552.8,434.5 557.9,434.4 562.9,434.4 568.0,434.3 573.1,434.3 578.2,434.2 583.3,434.1 588.4,434.1 593.5,434.0 598.6,433.9 603.7,433.8 608.7,433.7 613.8,433.6 618.9,433.5" fill="none" stroke="#1e88e5" stroke-width="1.1" marker-mid="url(#mk)" marker-start="url(#mk)" marker-end="url(#mk)"/>
<polyline points="405.2,423.6 410.3,424.9 415.4,426.0 420.5,427.0 425.6,427.8 430.6,428.6 435.7,429.2 440.8,429.8 445.9,430.3 451.0,430.7 456.1,431.1 461.2,431.5 466.3,431.8 471.4,432.0 476.4,432.3 481.5,432.5 486.6,432.6 491.7,432.8 496.8,432.9 501.9,433.1 507.0,433.2 512.1,433.3 517.1,433.3 522.2,433.4 527.3,433.5 532.4,433.5 537.5,433.6 542.6,433.6 547.7,433.6 552.8,433.7 557.9,433.7 562.9,433.7 568.0,433.7 573.1,433.8 578.2,433.8 583.3,433.8 588.4,433.8 593.5,433.8 598.6,433.8 603.7,433.8 608.7,433.8 613.8,433.8 618.9,433.8" fill="none" stroke="#64b5f6" stroke-width="1.1" marker-mid="url(#mk)" marker-start="url(#mk)" marker-end="url(#mk)"/>
<polyline points="405.2,424.8 410.3,426.1 415.4,427.3 420.5,428.3 425.6,429.1 430.6,429.9 435.7,430.5 440.8,431.1 445.9,431.6 451.0,432.1 456.1,432.4 461.2,432.8 466.3,433.1 471.4,433.3 476.4,433.5 481.5,433.7 486.6,433.9 491.7,434.1 496.8,434.2 501.9,434.3 507.0,434.4 512.1,434.5 517.1,434.6 522.2,434.7 527.3,434.8 532.4,434.8 537.5,434.9 542.6,435.0 547.7,435.0 552.8,435.1 557.9,435.1 562.9,435.2 568.0,435.2 573.1,435.3 578.2,435.3 583.3,435.4 588.4,435.4 593.5,435.5 598.6,435.5 603.7,435.6 608.7,435.6 613.8,435.7 618.9,435.7" fill="none" stroke="#d81b60" stroke-width="1.1" marker-mid="url(#mk)" marker-start="url(#mk)" marker-end="url(#mk)"/>
<polyline points="405.2,425.1 410.3,426.4 415.4,427.5 420.5,428.5 425.6,429.4 430.6,430.1 435.7,430.8 440.8,431.4 445.9,431.9 451.0,432.3 456.1,432.7 461.2,433.0 466.3,433.3 471.4,433.6 476.4,433.8 481.5,434.0 486.6,434.2 491.7,434.3 496.8,434.4 501.9,434.6 507.0,434.7 512.1,434.8 517.1,434.9 522.2,434.9 527.3,435.0 532.4,435.1 537.5,435.1 542.6,435.2 547.7,435.2 552.8,435.3 557.9,435.3 562.9,435.4 568.0,435.4 573.1,435.5 578.2,435.5 583.3,435.6 588.4,435.6 593.5,435.6 598.6,435.7 603.7,435.7 608.7,435.8 613.8,435.8 618.9,435.8" fill="none" stroke="#c2185b" stroke-width="1.1" marker-mid="url(#mk)" marker-start="url(#mk)" marker-end="url(#mk)"/>
<polyline points="405.2,424.5 410.3,425.9 415.4,427.2 420.5,428.3 425.6,429.3 430.6,430.1 435.7,430.9 440.8,431.5 445.9,432.1 451.0,432.6 456.1,433.1 461.2,433.5 466.3,433.8 471.4,434.1 476.4,434.4 481.5,434.6 486.6,434.8 491.7,435.0 496.8,435.2 501.9,435.3 507.0,435.4 512.1,435.5 517.1,435.6 522.2,435.7 527.3,435.8 532.4,435.8 537.5,435.9 542.6,435.9 547.7,435.9 552.8,436.0 557.9,436.0 562.9,436.0 568.0,436.0 573.1,436.0 578.2,436.0 583.3,436.0 588.4,436.0 593.5,436.0 598.6,436.0 603.7,436.0 608.7,436.0 613.8,436.0 618.9,436.0" fill="none" stroke="#8e24aa" stroke-width="1.1" marker-mid="url(#mk)" marker-start="url(#mk)" marker-end="url(#mk)"/>
<polyline points="405.2,424.8 410.3,426.6 415.4,428.3 420.5,429.7 425.6,431.0 430.6,432.1 435.7,433.0 440.8,433.9 445.9,434.6 451.0,435.3 456.1,435.9 461.2,436.4 466.3,436.8 471.4,437.2 476.4,437.6 481.5,437.9 486.6,438.1 491.7,438.4 496.8,438.6 501.9,438.8 507.0,438.9 512.1,439.0 517.1,439.2 522.2,439.3 527.3,439.3 532.4,439.4 537.5,439.5 542.6,439.5 547.7,439.6 552.8,439.6 557.9,439.7 562.9,439.7 568.0,439.7 573.1,439.7 578.2,439.8 583.3,439.8 588.4,439.8 593.5,439.8 598.6,439.8 603.7,439.8 608.7,439.8 613.8,439.8 618.9,439.8" fill="none" stroke="#283593" stroke-width="1.1" marker-mid="url(#mk)" marker-start="url(#mk)" marker-end="url(#mk)"/>
<polyline points="405.2,425.7 410.3,427.8 415.4,429.7 420.5,431.4 425.6,432.8 430.6,434.1 435.7,435.3 440.8,436.3 445.9,437.2 451.0,438.0 456.1,438.7 461.2,439.3 466.3,439.9 471.4,440.4 476.4,440.8 481.5,441.2 486.6,441.5 491.7,441.8 496.8,442.0 501.9,442.2 507.0,442.4 512.1,442.6 517.1,442.7 522.2,442.8 527.3,442.9 532.4,442.9 537.5,443.0 542.6,443.0 547.7,443.0 552.8,443.0 557.9,443.0 562.9,442.9 568.0,442.9 573.1,442.8 578.2,442.8 583.3,442.7 588.4,442.6 593.5,442.5 598.6,442.4 603.7,442.3 608.7,442.2 613.8,442.1 618.9,442.0" fill="none" stroke="#ffe082" stroke-width="1.1" marker-mid="url(#mk)" marker-start="url(#mk)" marker-end="url(#mk)"/>
<polyline points="405.2,426.1 410.3,428.2 415.4,430.0 420.5,431.6 425.6,433.0 430.6,434.2 435.7,435.3 440.8,436.3 445.9,437.1 451.0,437.9 456.1,438.5 461.2,439.1 466.3,439.6 471.4,440.1 476.4,440.5 481.5,440.8 486.6,441.1 491.7,441.4 496.8,441.6 501.9,441.8 507.0,442.0 512.1,442.1 517.1,442.2 522.2,442.4 527.3,442.4 532.4,442.5 537.5,442.6 542.6,442.6 547.7,442.7 552.8,442.7 557.9,442.7 562.9,442.7 568.0,442.7 573.1,442.7 578.2,442.7 583.3,442.7 588.4,442.7 593.5,442.7 598.6,442.7 603.7,442.6 608.7,442.6 613.8,442.6 618.9,442.6" fill="none" stroke="#fdd835" stroke-width="1.1" marker-mid="url(#mk)" marker-start="url(#mk)" marker-end="url(#mk)"/>
<polyline points="405.2,426.4 410.3,428.5 415.4,430.3 420.5,431.9 425.6,433.3 430.6,434.5 435.7,435.6 440.8,436.5 445.9,437.4 451.0,438.1 456.1,438.7 461.2,439.3 466.3,439.8 471.4,440.2 476.4,440.6 481.5,440.9 486.6,441.2 491.7,441.4 496.8,441.7 501.9,441.9 507.0,442.0 512.1,442.2 517.1,442.3 522.2,442.4 527.3,442.5 532.4,442.6 537.5,442.7 542.6,442.8 547.7,442.9 552.8,442.9 557.9,443.0 562.9,443.0 568.0,443.1 573.1,443.1 578.2,443.1 583.3,443.2 588.4,443.2 593.5,443.2 598.6,443.2 603.7,443.3 608.7,443.3 613.8,443.3 618.9,443.3" fill="none" stroke="#fdd835" stroke-width="1.1" marker-mid="url(#mk)" marker-start="url(#mk)" marker-end="url(#mk)"/>
<polyline points="405.2,426.9 410.3,429.1 415.4,431.1 420.5,432.8 425.6,434.3 430.6,435.7 435.7,436.9 440.8,437.9 445.9,438.8 451.0,439.6 456.1,440.4 461.2,441.0 466.3,441.6 471.4,442.0 476.4,442.5 481.5,442.9 486.6,443.2 491.7,443.5 496.8,443.7 501.9,444.0 507.0,444.1 512.1,444.3 517.1,444.4 522.2,444.5 527.3,444.6 532.4,444.7 537.5,444.7 542.6,444.8 547.7,444.8 552.8,444.8 557.9,444.8 562.9,444.8 568.0,444.8 573.1,444.7 578.2,444.7 583.3,444.6 588.4,444.6 593.5,444.5 598.6,444.5 603.7,444.4 608.7,444.3 613.8,444.2 618.9,444.2" fill="none" stroke="#fb8c00" stroke-width="1.1" marker-mid="url(#mk)" marker-start="url(#mk)" marker-end="url(#mk)"/>
<polyline points="405.2,426.8 410.3,429.0 415.4,430.9 420.5,432.6 425.6,434.1 430.6,435.4 435.7,436.5 440.8,437.5 445.9,438.4 451.0,439.1 456.1,439.8 461.2,440.4 466.3,440.9 471.4,441.3 476.4,441.7 481.5,442.0 486.6,442.3 491.7,442.6 496.8,442.8 501.9,443.0 507.0,443.2 512.1,443.4 517.1,443.5 522.2,443.7 527.3,443.8 532.4,443.9 537.5,444.0 542.6,444.1 547.7,444.2 552.8,444.3 557.9,444.4 562.9,444.5 568.0,444.5 573.1,444.6 578.2,444.7 583.3,444.8 588.4,444.8 593.5,444.9 598.6,445.0 603.7,445.1 608.7,445.1 613.8,445.2 618.9,445.3" fill="none" stroke="#ffe082" stroke-width="1.1" marker-mid="url(#mk)" marker-start="url(#mk)" marker-end="url(#mk)"/>
<polyline points="405.2,427.9 410.3,430.3 415.4,432.4 420.5,434.2 425.6,435.9 430.6,437.3 435.7,438.6 440.8,439.7 445.9,440.7 451.0,441.6 456.1,442.4 461.2,443.1 466.3,443.7 471.4,444.2 476.4,444.7 481.5,445.1 486.6,445.5 491.7,445.8 496.8,446.1 501.9,446.3 507.0,446.5 512.1,446.7 517.1,446.8 522.2,446.9 527.3,447.0 532.4,447.1 537.5,447.1 542.6,447.2 547.7,447.2 552.8,447.2 557.9,447.1 562.9,447.1 568.0,447.1 573.1,447.0 578.2,447.0 583.3,446.9 588.4,446.8 593.5,446.7 598.6,446.6 603.7,446.5 608.7,446.4 613.8,446.3 618.9,446.2" fill="none" stroke="#fdd835" stroke-width="1.1" marker-mid="url(#mk)" marker-start="url(#mk)" marker-end="url(#mk)"/>
<text x="324.3" y="470.6" font-family='"Liberation Serif",serif' font-weight="bold" font-size="16" letter-spacing="0.2">(C)</text>
<rect x="322.65" y="482.9" width="360.25" height="165.6" fill="none" stroke="#000" stroke-width="1.65"/>
<filter id="blD" x="-2%" y="-2%" width="104%" height="104%"><feGaussianBlur stdDeviation="0.5"/></filter><clipPath id="cpD"><rect x="347.5" y="496.0" width="296.0" height="118.0"/></clipPath><g clip-path="url(#cpD)"><g filter="url(#blD)"><g transform="translate(347.5,496.0) scale(1.0000,1.0000)" shape-rendering="crispEdges"><path fill="#ff0000" d="M278 0h4v1h-4zM107 1h1v1h-1zM277 1h5v1h-5zM107 2h1v1h-1zM277 2h5v1h-5zM278 3h4v1h-4z"/><path fill="#ff3800" d="M103 0h9v1h-9zM275 0h3v1h-3zM282 0h3v1h-3zM103 1h4v1h-4zM108 1h4v1h-4zM275 1h2v1h-2zM282 1h3v1h-3zM103 2h4v1h-4zM108 2h4v1h-4zM275 2h2v1h-2zM282 2h3v1h-3zM103 3h8v1h-8zM275 3h3v1h-3zM282 3h3v1h-3zM104 4h7v1h-7zM275 4h9v1h-9zM104 5h7v1h-7zM276 5h8v1h-8zM105 6h5v1h-5zM277 6h5v1h-5z"/><path fill="#ff7000" d="M34 0h69v1h-69zM112 0h3v1h-3zM272 0h3v1h-3zM285 0h3v1h-3zM34 1h69v1h-69zM112 1h3v1h-3zM272 1h3v1h-3zM285 1h3v1h-3zM34 2h69v1h-69zM112 2h3v1h-3zM272 2h3v1h-3zM285 2h3v1h-3zM34 3h69v1h-69zM111 3h4v1h-4zM272 3h3v1h-3zM285 3h3v1h-3zM34 4h70v1h-70zM111 4h3v1h-3zM272 4h3v1h-3zM284 4h3v1h-3zM34 5h70v1h-70zM111 5h3v1h-3zM273 5h3v1h-3zM284 5h3v1h-3zM34 6h71v1h-71zM110 6h4v1h-4zM274 6h3v1h-3zM282 6h4v1h-4zM36 7h78v1h-78zM274 7h11v1h-11zM39 8h74v1h-74zM276 8h8v1h-8zM42 9h53v1h-53zM101 9h11v1h-11zM45 10h46v1h-46zM103 10h8v1h-8zM48 11h38v1h-38zM52 12h28v1h-28z"/><path fill="#ffa000" d="M0 0h34v1h-34zM115 0h3v1h-3zM268 0h4v1h-4zM288 0h4v1h-4zM0 1h34v1h-34zM115 1h3v1h-3zM268 1h4v1h-4zM288 1h4v1h-4zM0 2h34v1h-34zM115 2h3v1h-3zM268 2h4v1h-4zM288 2h4v1h-4zM0 3h34v1h-34zM115 3h3v1h-3zM268 3h4v1h-4zM288 3h4v1h-4zM0 4h2v1h-2zM6 4h28v1h-28zM114 4h5v1h-5zM244 4h7v1h-7zM268 4h4v1h-4zM287 4h5v1h-5zM9 5h25v1h-25zM114 5h5v1h-5zM243 5h10v1h-10zM268 5h5v1h-5zM287 5h5v1h-5zM10 6h24v1h-24zM114 6h5v1h-5zM242 6h12v1h-12zM269 6h5v1h-5zM286 6h5v1h-5zM11 7h25v1h-25zM114 7h6v1h-6zM242 7h12v1h-12zM269 7h5v1h-5zM285 7h6v1h-6zM11 8h28v1h-28zM113 8h7v1h-7zM241 8h13v1h-13zM270 8h6v1h-6zM284 8h6v1h-6zM12 9h30v1h-30zM95 9h6v1h-6zM112 9h9v1h-9zM242 9h12v1h-12zM271 9h18v1h-18zM12 10h33v1h-33zM91 10h12v1h-12zM111 10h10v1h-10zM242 10h12v1h-12zM272 10h15v1h-15zM11 11h37v1h-37zM86 11h35v1h-35zM242 11h12v1h-12zM274 11h11v1h-11zM11 12h41v1h-41zM80 12h41v1h-41zM243 12h10v1h-10zM278 12h3v1h-3zM11 13h107v1h-107zM13 14h17v1h-17zM34 14h80v1h-80zM41 15h67v1h-67zM47 16h18v1h-18zM84 16h18v1h-18zM51 17h6v1h-6zM89 17h9v1h-9z"/><path fill="#ffc800" d="M118 0h4v1h-4zM181 0h41v1h-41zM230 0h38v1h-38zM292 0h4v1h-4zM118 1h4v1h-4zM184 1h37v1h-37zM231 1h37v1h-37zM292 1h4v1h-4zM118 2h4v1h-4zM186 2h34v1h-34zM232 2h36v1h-36zM292 2h4v1h-4zM118 3h4v1h-4zM187 3h32v1h-32zM233 3h35v1h-35zM292 3h4v1h-4zM2 4h4v1h-4zM119 4h4v1h-4zM189 4h30v1h-30zM233 4h11v1h-11zM251 4h17v1h-17zM292 4h4v1h-4zM0 5h9v1h-9zM119 5h4v1h-4zM138 5h3v1h-3zM189 5h29v1h-29zM234 5h9v1h-9zM253 5h15v1h-15zM292 5h4v1h-4zM0 6h10v1h-10zM119 6h5v1h-5zM136 6h6v1h-6zM190 6h28v1h-28zM234 6h8v1h-8zM254 6h15v1h-15zM291 6h5v1h-5zM0 7h11v1h-11zM120 7h6v1h-6zM134 7h10v1h-10zM191 7h27v1h-27zM234 7h8v1h-8zM254 7h15v1h-15zM291 7h5v1h-5zM0 8h11v1h-11zM120 8h8v1h-8zM132 8h13v1h-13zM191 8h26v1h-26zM235 8h6v1h-6zM254 8h16v1h-16zM290 8h6v1h-6zM0 9h3v1h-3zM5 9h7v1h-7zM121 9h25v1h-25zM192 9h25v1h-25zM235 9h7v1h-7zM254 9h17v1h-17zM289 9h7v1h-7zM0 10h12v1h-12zM121 10h26v1h-26zM192 10h25v1h-25zM235 10h7v1h-7zM254 10h18v1h-18zM287 10h9v1h-9zM0 11h11v1h-11zM121 11h27v1h-27zM192 11h25v1h-25zM235 11h7v1h-7zM254 11h20v1h-20zM285 11h11v1h-11zM0 12h11v1h-11zM121 12h29v1h-29zM193 12h24v1h-24zM235 12h8v1h-8zM253 12h25v1h-25zM281 12h15v1h-15zM0 13h11v1h-11zM118 13h30v1h-30zM168 13h2v1h-2zM195 13h22v1h-22zM236 13h60v1h-60zM0 14h13v1h-13zM30 14h4v1h-4zM114 14h32v1h-32zM200 14h17v1h-17zM238 14h58v1h-58zM0 15h41v1h-41zM108 15h20v1h-20zM134 15h10v1h-10zM207 15h8v1h-8zM241 15h28v1h-28zM0 16h47v1h-47zM65 16h19v1h-19zM102 16h18v1h-18zM136 16h7v1h-7zM257 16h8v1h-8zM0 17h28v1h-28zM36 17h15v1h-15zM57 17h32v1h-32zM98 17h16v1h-16zM137 17h5v1h-5zM260 17h2v1h-2zM0 18h22v1h-22zM41 18h68v1h-68zM138 18h4v1h-4zM46 19h18v1h-18zM82 19h22v1h-22zM138 19h3v1h-3zM49 20h10v1h-10zM87 20h14v1h-14zM139 20h1v1h-1zM175 20h3v1h-3zM52 21h4v1h-4zM89 21h10v1h-10zM175 21h4v1h-4zM91 22h6v1h-6zM175 22h4v1h-4zM176 23h3v1h-3z"/><path fill="#ffee00" d="M122 0h59v1h-59zM222 0h8v1h-8zM122 1h62v1h-62zM221 1h10v1h-10zM122 2h64v1h-64zM220 2h12v1h-12zM122 3h65v1h-65zM219 3h14v1h-14zM123 4h66v1h-66zM219 4h14v1h-14zM123 5h15v1h-15zM141 5h48v1h-48zM218 5h7v1h-7zM227 5h7v1h-7zM124 6h12v1h-12zM142 6h48v1h-48zM218 6h6v1h-6zM228 6h6v1h-6zM126 7h8v1h-8zM144 7h47v1h-47zM218 7h5v1h-5zM229 7h5v1h-5zM128 8h4v1h-4zM145 8h35v1h-35zM184 8h7v1h-7zM217 8h6v1h-6zM230 8h5v1h-5zM3 9h2v1h-2zM146 9h33v1h-33zM186 9h6v1h-6zM217 9h5v1h-5zM230 9h5v1h-5zM147 10h32v1h-32zM186 10h6v1h-6zM217 10h5v1h-5zM230 10h5v1h-5zM148 11h31v1h-31zM186 11h6v1h-6zM217 11h5v1h-5zM230 11h5v1h-5zM150 12h30v1h-30zM186 12h7v1h-7zM217 12h6v1h-6zM229 12h6v1h-6zM148 13h20v1h-20zM170 13h10v1h-10zM186 13h9v1h-9zM217 13h6v1h-6zM229 13h7v1h-7zM146 14h36v1h-36zM186 14h14v1h-14zM217 14h6v1h-6zM230 14h8v1h-8zM128 15h6v1h-6zM144 15h39v1h-39zM187 15h20v1h-20zM215 15h8v1h-8zM230 15h11v1h-11zM269 15h27v1h-27zM120 16h16v1h-16zM143 16h42v1h-42zM187 16h36v1h-36zM231 16h26v1h-26zM265 16h31v1h-31zM28 17h8v1h-8zM114 17h23v1h-23zM142 17h9v1h-9zM157 17h29v1h-29zM192 17h31v1h-31zM231 17h29v1h-29zM262 17h34v1h-34zM22 18h19v1h-19zM109 18h29v1h-29zM142 18h8v1h-8zM159 18h27v1h-27zM197 18h26v1h-26zM233 18h51v1h-51zM287 18h9v1h-9zM0 19h46v1h-46zM64 19h18v1h-18zM104 19h34v1h-34zM141 19h8v1h-8zM161 19h25v1h-25zM201 19h22v1h-22zM235 19h4v1h-4zM252 19h27v1h-27zM292 19h4v1h-4zM0 20h49v1h-49zM59 20h28v1h-28zM101 20h15v1h-15zM126 20h13v1h-13zM140 20h8v1h-8zM163 20h12v1h-12zM178 20h8v1h-8zM203 20h20v1h-20zM254 20h21v1h-21zM0 21h26v1h-26zM38 21h14v1h-14zM56 21h33v1h-33zM99 21h13v1h-13zM130 21h17v1h-17zM165 21h10v1h-10zM179 21h7v1h-7zM204 21h18v1h-18zM255 21h17v1h-17zM0 22h21v1h-21zM42 22h49v1h-49zM97 22h12v1h-12zM131 22h16v1h-16zM166 22h9v1h-9zM179 22h7v1h-7zM206 22h16v1h-16zM256 22h14v1h-14zM45 23h19v1h-19zM82 23h23v1h-23zM132 23h14v1h-14zM168 23h8v1h-8zM179 23h6v1h-6zM207 23h15v1h-15zM256 23h12v1h-12zM48 24h12v1h-12zM85 24h18v1h-18zM133 24h13v1h-13zM169 24h16v1h-16zM209 24h12v1h-12zM257 24h10v1h-10zM50 25h8v1h-8zM87 25h14v1h-14zM134 25h11v1h-11zM170 25h14v1h-14zM210 25h10v1h-10zM258 25h7v1h-7zM51 26h5v1h-5zM89 26h10v1h-10zM136 26h8v1h-8zM171 26h12v1h-12zM212 26h6v1h-6zM260 26h3v1h-3zM90 27h8v1h-8zM137 27h6v1h-6zM172 27h10v1h-10zM93 28h3v1h-3zM139 28h2v1h-2zM173 28h8v1h-8zM175 29h5v1h-5z"/><path fill="#e8ff00" d="M225 5h2v1h-2zM224 6h4v1h-4zM223 7h6v1h-6zM180 8h4v1h-4zM223 8h7v1h-7zM179 9h7v1h-7zM222 9h8v1h-8zM179 10h7v1h-7zM222 10h8v1h-8zM179 11h7v1h-7zM222 11h8v1h-8zM180 12h6v1h-6zM223 12h6v1h-6zM180 13h6v1h-6zM223 13h6v1h-6zM182 14h4v1h-4zM223 14h7v1h-7zM183 15h4v1h-4zM223 15h7v1h-7zM185 16h2v1h-2zM223 16h8v1h-8zM151 17h6v1h-6zM186 17h6v1h-6zM223 17h8v1h-8zM150 18h9v1h-9zM186 18h11v1h-11zM223 18h10v1h-10zM284 18h3v1h-3zM149 19h12v1h-12zM186 19h15v1h-15zM223 19h12v1h-12zM239 19h13v1h-13zM279 19h13v1h-13zM116 20h10v1h-10zM148 20h15v1h-15zM186 20h17v1h-17zM223 20h31v1h-31zM275 20h21v1h-21zM26 21h12v1h-12zM112 21h18v1h-18zM147 21h18v1h-18zM186 21h18v1h-18zM222 21h33v1h-33zM272 21h24v1h-24zM21 22h21v1h-21zM109 22h22v1h-22zM147 22h19v1h-19zM186 22h20v1h-20zM222 22h34v1h-34zM270 22h26v1h-26zM0 23h45v1h-45zM64 23h18v1h-18zM105 23h27v1h-27zM146 23h22v1h-22zM185 23h22v1h-22zM222 23h34v1h-34zM268 23h28v1h-28zM0 24h48v1h-48zM60 24h25v1h-25zM103 24h30v1h-30zM146 24h23v1h-23zM185 24h24v1h-24zM221 24h36v1h-36zM267 24h29v1h-29zM0 25h50v1h-50zM58 25h29v1h-29zM101 25h33v1h-33zM145 25h25v1h-25zM184 25h26v1h-26zM220 25h38v1h-38zM265 25h31v1h-31zM0 26h51v1h-51zM56 26h33v1h-33zM99 26h37v1h-37zM144 26h27v1h-27zM183 26h29v1h-29zM218 26h42v1h-42zM263 26h33v1h-33zM0 27h90v1h-90zM98 27h39v1h-39zM143 27h29v1h-29zM182 27h114v1h-114zM0 28h29v1h-29zM36 28h57v1h-57zM96 28h17v1h-17zM124 28h15v1h-15zM141 28h10v1h-10zM157 28h16v1h-16zM181 28h61v1h-61zM251 28h33v1h-33zM286 28h10v1h-10zM0 29h26v1h-26zM38 29h72v1h-72zM127 29h22v1h-22zM159 29h16v1h-16zM180 29h9v1h-9zM200 29h39v1h-39zM253 29h25v1h-25zM292 29h4v1h-4zM0 30h24v1h-24zM41 30h27v1h-27zM77 30h29v1h-29zM130 30h18v1h-18zM163 30h24v1h-24zM204 30h26v1h-26zM255 30h17v1h-17zM0 31h21v1h-21zM43 31h19v1h-19zM85 31h18v1h-18zM132 31h14v1h-14zM167 31h19v1h-19zM207 31h17v1h-17zM256 31h12v1h-12zM46 32h13v1h-13zM87 32h14v1h-14zM134 32h11v1h-11zM170 32h14v1h-14zM210 32h11v1h-11zM258 32h7v1h-7zM48 33h10v1h-10zM89 33h10v1h-10zM136 33h8v1h-8zM171 33h12v1h-12zM213 33h4v1h-4zM261 33h1v1h-1zM50 34h6v1h-6zM92 34h4v1h-4zM138 34h4v1h-4zM173 34h9v1h-9zM175 35h5v1h-5z"/><path fill="#c0ff00" d="M29 28h7v1h-7zM113 28h11v1h-11zM151 28h6v1h-6zM242 28h9v1h-9zM284 28h2v1h-2zM26 29h12v1h-12zM110 29h17v1h-17zM149 29h10v1h-10zM189 29h11v1h-11zM239 29h14v1h-14zM278 29h14v1h-14zM24 30h17v1h-17zM68 30h9v1h-9zM106 30h24v1h-24zM148 30h15v1h-15zM187 30h17v1h-17zM230 30h25v1h-25zM272 30h24v1h-24zM21 31h22v1h-22zM62 31h23v1h-23zM103 31h29v1h-29zM146 31h21v1h-21zM186 31h21v1h-21zM224 31h32v1h-32zM268 31h28v1h-28zM0 32h46v1h-46zM59 32h28v1h-28zM101 32h33v1h-33zM145 32h25v1h-25zM184 32h26v1h-26zM221 32h37v1h-37zM265 32h31v1h-31zM0 33h48v1h-48zM58 33h31v1h-31zM99 33h37v1h-37zM144 33h27v1h-27zM183 33h30v1h-30zM217 33h44v1h-44zM262 33h34v1h-34zM0 34h50v1h-50zM56 34h36v1h-36zM96 34h42v1h-42zM142 34h31v1h-31zM182 34h114v1h-114zM0 35h175v1h-175zM180 35h116v1h-116zM0 36h115v1h-115zM122 36h29v1h-29zM156 36h88v1h-88zM250 36h46v1h-46zM0 37h112v1h-112zM125 37h25v1h-25zM158 37h33v1h-33zM198 37h43v1h-43zM253 37h28v1h-28zM290 37h6v1h-6zM0 38h109v1h-109zM128 38h21v1h-21zM160 38h29v1h-29zM202 38h35v1h-35zM254 38h22v1h-22zM294 38h2v1h-2zM0 39h67v1h-67zM81 39h25v1h-25zM130 39h17v1h-17zM164 39h23v1h-23zM205 39h23v1h-23zM255 39h16v1h-16zM0 40h64v1h-64zM84 40h20v1h-20zM132 40h15v1h-15zM167 40h19v1h-19zM207 40h17v1h-17zM256 40h12v1h-12zM0 41h62v1h-62zM86 41h16v1h-16zM133 41h13v1h-13zM169 41h16v1h-16zM209 41h13v1h-13zM257 41h10v1h-10zM0 42h61v1h-61zM88 42h13v1h-13zM135 42h10v1h-10zM170 42h14v1h-14zM211 42h9v1h-9zM258 42h7v1h-7zM0 43h60v1h-60zM89 43h10v1h-10zM136 43h8v1h-8zM171 43h12v1h-12zM213 43h4v1h-4zM261 43h1v1h-1zM0 44h31v1h-31zM33 44h26v1h-26zM92 44h5v1h-5zM138 44h4v1h-4zM173 44h9v1h-9zM0 45h29v1h-29zM36 45h22v1h-22zM175 45h5v1h-5zM0 46h27v1h-27zM38 46h18v1h-18zM0 47h25v1h-25zM40 47h14v1h-14zM0 48h21v1h-21zM48 48h3v1h-3z"/><path fill="#90ff00" d="M115 36h7v1h-7zM151 36h5v1h-5zM244 36h6v1h-6zM112 37h13v1h-13zM150 37h8v1h-8zM191 37h7v1h-7zM241 37h12v1h-12zM281 37h9v1h-9zM109 38h19v1h-19zM149 38h11v1h-11zM189 38h13v1h-13zM237 38h17v1h-17zM276 38h18v1h-18zM67 39h14v1h-14zM106 39h24v1h-24zM147 39h17v1h-17zM187 39h18v1h-18zM228 39h27v1h-27zM271 39h25v1h-25zM64 40h20v1h-20zM104 40h28v1h-28zM147 40h20v1h-20zM186 40h21v1h-21zM224 40h32v1h-32zM268 40h28v1h-28zM62 41h24v1h-24zM102 41h31v1h-31zM146 41h23v1h-23zM185 41h24v1h-24zM222 41h35v1h-35zM267 41h29v1h-29zM61 42h27v1h-27zM101 42h34v1h-34zM145 42h25v1h-25zM184 42h27v1h-27zM220 42h38v1h-38zM265 42h31v1h-31zM60 43h29v1h-29zM99 43h37v1h-37zM144 43h27v1h-27zM183 43h30v1h-30zM217 43h44v1h-44zM262 43h34v1h-34zM31 44h2v1h-2zM59 44h33v1h-33zM97 44h41v1h-41zM142 44h31v1h-31zM182 44h114v1h-114zM29 45h7v1h-7zM58 45h117v1h-117zM180 45h116v1h-116zM27 46h11v1h-11zM56 46h240v1h-240zM25 47h15v1h-15zM54 47h242v1h-242zM21 48h27v1h-27zM51 48h245v1h-245zM0 49h296v1h-296zM0 50h296v1h-296zM0 51h296v1h-296zM0 52h296v1h-296zM0 53h66v1h-66zM80 53h26v1h-26zM119 53h177v1h-177zM0 54h62v1h-62zM89 54h10v1h-10zM123 54h28v1h-28zM156 54h8v1h-8zM166 54h24v1h-24zM193 54h103v1h-103zM0 55h59v1h-59zM127 55h23v1h-23zM158 55h4v1h-4zM168 55h20v1h-20zM195 55h31v1h-31zM232 55h19v1h-19zM255 55h17v1h-17zM274 55h22v1h-22zM0 56h58v1h-58zM133 56h15v1h-15zM169 56h9v1h-9zM181 56h6v1h-6zM197 56h27v1h-27zM234 56h12v1h-12zM258 56h9v1h-9zM280 56h16v1h-16zM0 57h56v1h-56zM136 57h11v1h-11zM170 57h6v1h-6zM184 57h1v1h-1zM199 57h24v1h-24zM237 57h4v1h-4zM260 57h5v1h-5zM289 57h7v1h-7zM0 58h55v1h-55zM140 58h4v1h-4zM172 58h2v1h-2zM205 58h16v1h-16zM0 59h54v1h-54zM213 59h4v1h-4zM0 60h53v1h-53zM0 61h52v1h-52zM0 62h51v1h-51zM0 63h51v1h-51zM0 64h50v1h-50zM0 65h49v1h-49zM0 66h47v1h-47zM0 67h45v1h-45zM0 68h43v1h-43zM0 69h40v1h-40z"/><path fill="#50ff00" d="M66 53h14v1h-14zM106 53h13v1h-13zM62 54h27v1h-27zM99 54h24v1h-24zM151 54h5v1h-5zM164 54h2v1h-2zM190 54h3v1h-3zM59 55h68v1h-68zM150 55h8v1h-8zM162 55h6v1h-6zM188 55h7v1h-7zM226 55h6v1h-6zM251 55h4v1h-4zM272 55h2v1h-2zM58 56h75v1h-75zM148 56h21v1h-21zM178 56h3v1h-3zM187 56h10v1h-10zM224 56h10v1h-10zM246 56h12v1h-12zM267 56h13v1h-13zM56 57h80v1h-80zM147 57h23v1h-23zM176 57h8v1h-8zM185 57h14v1h-14zM223 57h14v1h-14zM241 57h19v1h-19zM265 57h24v1h-24zM55 58h85v1h-85zM144 58h28v1h-28zM174 58h31v1h-31zM221 58h75v1h-75zM54 59h159v1h-159zM217 59h79v1h-79zM53 60h243v1h-243zM52 61h244v1h-244zM51 62h245v1h-245zM51 63h245v1h-245zM50 64h246v1h-246zM49 65h247v1h-247zM47 66h249v1h-249zM45 67h251v1h-251zM43 68h25v1h-25zM77 68h219v1h-219zM40 69h26v1h-26zM78 69h218v1h-218zM0 70h66v1h-66zM79 70h217v1h-217zM0 71h65v1h-65zM80 71h216v1h-216zM0 72h64v1h-64zM111 72h185v1h-185zM0 73h63v1h-63zM113 73h183v1h-183zM0 74h61v1h-61zM113 74h183v1h-183zM0 75h60v1h-60zM114 75h182v1h-182zM0 76h60v1h-60zM115 76h49v1h-49zM167 76h129v1h-129zM0 77h59v1h-59zM116 77h48v1h-48zM167 77h129v1h-129zM0 78h59v1h-59zM117 78h46v1h-46zM168 78h10v1h-10zM180 78h47v1h-47zM230 78h66v1h-66zM0 79h58v1h-58zM119 79h44v1h-44zM168 79h9v1h-9zM181 79h9v1h-9zM192 79h34v1h-34zM231 79h65v1h-65zM0 80h58v1h-58zM120 80h42v1h-42zM168 80h9v1h-9zM181 80h8v1h-8zM193 80h33v1h-33zM232 80h64v1h-64zM0 81h57v1h-57zM121 81h31v1h-31zM155 81h7v1h-7zM169 81h7v1h-7zM182 81h7v1h-7zM194 81h31v1h-31zM232 81h22v1h-22zM257 81h13v1h-13zM273 81h23v1h-23zM0 82h56v1h-56zM124 82h27v1h-27zM156 82h5v1h-5zM169 82h7v1h-7zM182 82h6v1h-6zM194 82h31v1h-31zM233 82h20v1h-20zM258 82h10v1h-10zM275 82h21v1h-21zM0 83h56v1h-56zM135 83h15v1h-15zM157 83h4v1h-4zM170 83h5v1h-5zM183 83h4v1h-4zM195 83h29v1h-29zM233 83h19v1h-19zM260 83h7v1h-7zM277 83h19v1h-19zM0 84h55v1h-55zM138 84h11v1h-11zM158 84h2v1h-2zM170 84h5v1h-5zM184 84h2v1h-2zM195 84h28v1h-28zM234 84h17v1h-17zM261 84h4v1h-4zM278 84h18v1h-18zM0 85h55v1h-55zM140 85h8v1h-8zM171 85h3v1h-3zM196 85h27v1h-27zM235 85h16v1h-16zM279 85h17v1h-17zM0 86h54v1h-54zM143 86h3v1h-3zM197 86h25v1h-25zM236 86h14v1h-14zM281 86h15v1h-15zM0 87h54v1h-54zM198 87h22v1h-22zM237 87h11v1h-11zM283 87h13v1h-13zM0 88h53v1h-53zM241 88h3v1h-3zM289 88h7v1h-7zM0 89h52v1h-52zM0 90h52v1h-52zM0 91h51v1h-51zM0 92h50v1h-50zM0 93h50v1h-50zM0 94h49v1h-49z"/><path fill="#10f000" d="M68 68h9v1h-9zM66 69h12v1h-12zM66 70h13v1h-13zM65 71h15v1h-15zM64 72h47v1h-47zM63 73h50v1h-50zM61 74h52v1h-52zM60 75h54v1h-54zM60 76h55v1h-55zM164 76h3v1h-3zM59 77h9v1h-9zM77 77h39v1h-39zM164 77h3v1h-3zM59 78h8v1h-8zM78 78h39v1h-39zM163 78h5v1h-5zM178 78h2v1h-2zM227 78h3v1h-3zM58 79h8v1h-8zM78 79h41v1h-41zM163 79h5v1h-5zM177 79h4v1h-4zM190 79h2v1h-2zM226 79h5v1h-5zM58 80h6v1h-6zM79 80h41v1h-41zM162 80h6v1h-6zM177 80h4v1h-4zM189 80h4v1h-4zM226 80h6v1h-6zM57 81h5v1h-5zM110 81h11v1h-11zM152 81h3v1h-3zM162 81h7v1h-7zM176 81h6v1h-6zM189 81h5v1h-5zM225 81h7v1h-7zM254 81h3v1h-3zM270 81h3v1h-3zM56 82h4v1h-4zM112 82h12v1h-12zM151 82h5v1h-5zM161 82h8v1h-8zM176 82h6v1h-6zM188 82h6v1h-6zM225 82h8v1h-8zM253 82h5v1h-5zM268 82h7v1h-7zM56 83h3v1h-3zM113 83h22v1h-22zM150 83h7v1h-7zM161 83h9v1h-9zM175 83h8v1h-8zM187 83h8v1h-8zM224 83h9v1h-9zM252 83h8v1h-8zM267 83h10v1h-10zM55 84h3v1h-3zM114 84h24v1h-24zM149 84h9v1h-9zM160 84h10v1h-10zM175 84h9v1h-9zM186 84h9v1h-9zM223 84h11v1h-11zM251 84h10v1h-10zM265 84h13v1h-13zM55 85h2v1h-2zM115 85h25v1h-25zM148 85h17v1h-17zM166 85h5v1h-5zM174 85h22v1h-22zM223 85h12v1h-12zM251 85h28v1h-28zM54 86h3v1h-3zM116 86h27v1h-27zM146 86h18v1h-18zM167 86h30v1h-30zM222 86h14v1h-14zM250 86h31v1h-31zM54 87h2v1h-2zM117 87h47v1h-47zM167 87h11v1h-11zM180 87h18v1h-18zM220 87h8v1h-8zM230 87h7v1h-7zM248 87h35v1h-35zM53 88h3v1h-3zM118 88h45v1h-45zM168 88h9v1h-9zM181 88h46v1h-46zM231 88h10v1h-10zM244 88h45v1h-45zM52 89h3v1h-3zM119 89h44v1h-44zM168 89h9v1h-9zM181 89h9v1h-9zM192 89h34v1h-34zM231 89h65v1h-65zM52 90h2v1h-2zM121 90h41v1h-41zM169 90h7v1h-7zM182 90h7v1h-7zM193 90h33v1h-33zM232 90h64v1h-64zM51 91h3v1h-3zM123 91h29v1h-29zM155 91h7v1h-7zM169 91h7v1h-7zM182 91h6v1h-6zM194 91h31v1h-31zM233 91h21v1h-21zM258 91h11v1h-11zM274 91h22v1h-22zM50 92h3v1h-3zM126 92h24v1h-24zM156 92h5v1h-5zM169 92h6v1h-6zM183 92h4v1h-4zM194 92h30v1h-30zM233 92h20v1h-20zM259 92h8v1h-8zM276 92h20v1h-20zM50 93h2v1h-2zM136 93h14v1h-14zM157 93h4v1h-4zM170 93h5v1h-5zM183 93h4v1h-4zM195 93h29v1h-29zM234 93h18v1h-18zM260 93h6v1h-6zM277 93h19v1h-19zM49 94h3v1h-3zM138 94h11v1h-11zM158 94h2v1h-2zM170 94h5v1h-5zM184 94h2v1h-2zM196 94h27v1h-27zM234 94h17v1h-17zM261 94h4v1h-4zM278 94h18v1h-18zM0 95h51v1h-51zM140 95h8v1h-8zM171 95h3v1h-3zM196 95h27v1h-27zM235 95h16v1h-16zM279 95h17v1h-17zM0 96h51v1h-51zM141 96h6v1h-6zM172 96h1v1h-1zM197 96h25v1h-25zM235 96h15v1h-15zM280 96h16v1h-16zM0 97h50v1h-50zM198 97h23v1h-23zM236 97h13v1h-13zM281 97h15v1h-15zM0 98h49v1h-49zM200 98h20v1h-20zM237 98h11v1h-11zM284 98h12v1h-12z"/><path fill="#00d030" d="M68 77h9v1h-9zM67 78h11v1h-11zM66 79h12v1h-12zM64 80h4v1h-4zM77 80h2v1h-2zM62 81h5v1h-5zM78 81h32v1h-32zM60 82h5v1h-5zM78 82h34v1h-34zM59 83h5v1h-5zM79 83h34v1h-34zM58 84h3v1h-3zM111 84h3v1h-3zM57 85h3v1h-3zM112 85h3v1h-3zM165 85h1v1h-1zM57 86h2v1h-2zM113 86h3v1h-3zM164 86h3v1h-3zM56 87h2v1h-2zM114 87h3v1h-3zM164 87h3v1h-3zM178 87h2v1h-2zM228 87h2v1h-2zM56 88h1v1h-1zM115 88h3v1h-3zM163 88h2v1h-2zM166 88h2v1h-2zM177 88h4v1h-4zM227 88h4v1h-4zM55 89h2v1h-2zM116 89h3v1h-3zM163 89h1v1h-1zM167 89h1v1h-1zM177 89h4v1h-4zM190 89h2v1h-2zM226 89h5v1h-5zM54 90h2v1h-2zM117 90h4v1h-4zM162 90h1v1h-1zM167 90h2v1h-2zM176 90h2v1h-2zM180 90h2v1h-2zM189 90h4v1h-4zM226 90h2v1h-2zM230 90h2v1h-2zM54 91h1v1h-1zM119 91h4v1h-4zM152 91h3v1h-3zM162 91h1v1h-1zM168 91h1v1h-1zM176 91h1v1h-1zM181 91h1v1h-1zM188 91h6v1h-6zM225 91h2v1h-2zM231 91h2v1h-2zM254 91h4v1h-4zM269 91h5v1h-5zM53 92h1v1h-1zM120 92h6v1h-6zM150 92h6v1h-6zM161 92h2v1h-2zM168 92h1v1h-1zM175 92h2v1h-2zM181 92h2v1h-2zM187 92h3v1h-3zM192 92h2v1h-2zM224 92h2v1h-2zM231 92h2v1h-2zM253 92h6v1h-6zM267 92h9v1h-9zM52 93h2v1h-2zM121 93h15v1h-15zM150 93h7v1h-7zM161 93h1v1h-1zM169 93h1v1h-1zM175 93h1v1h-1zM182 93h1v1h-1zM187 93h2v1h-2zM193 93h2v1h-2zM224 93h1v1h-1zM232 93h2v1h-2zM252 93h8v1h-8zM266 93h11v1h-11zM52 94h1v1h-1zM123 94h15v1h-15zM149 94h3v1h-3zM155 94h3v1h-3zM160 94h2v1h-2zM169 94h1v1h-1zM175 94h1v1h-1zM182 94h2v1h-2zM186 94h2v1h-2zM194 94h2v1h-2zM223 94h2v1h-2zM232 94h2v1h-2zM251 94h3v1h-3zM258 94h3v1h-3zM265 94h4v1h-4zM274 94h4v1h-4zM51 95h2v1h-2zM124 95h16v1h-16zM148 95h3v1h-3zM156 95h5v1h-5zM169 95h2v1h-2zM174 95h2v1h-2zM183 95h5v1h-5zM194 95h2v1h-2zM223 95h2v1h-2zM233 95h2v1h-2zM251 95h2v1h-2zM259 95h9v1h-9zM275 95h4v1h-4zM51 96h1v1h-1zM134 96h7v1h-7zM147 96h3v1h-3zM157 96h4v1h-4zM170 96h2v1h-2zM173 96h2v1h-2zM183 96h4v1h-4zM195 96h2v1h-2zM222 96h2v1h-2zM233 96h2v1h-2zM250 96h3v1h-3zM260 96h7v1h-7zM276 96h4v1h-4zM50 97h2v1h-2zM137 97h12v1h-12zM158 97h2v1h-2zM170 97h5v1h-5zM184 97h2v1h-2zM195 97h3v1h-3zM221 97h3v1h-3zM234 97h2v1h-2zM249 97h3v1h-3zM261 97h4v1h-4zM277 97h4v1h-4zM49 98h2v1h-2zM139 98h9v1h-9zM171 98h3v1h-3zM196 98h4v1h-4zM220 98h3v1h-3zM234 98h3v1h-3zM248 98h3v1h-3zM279 98h5v1h-5zM0 99h51v1h-51zM141 99h6v1h-6zM172 99h1v1h-1zM197 99h25v1h-25zM235 99h15v1h-15zM280 99h16v1h-16zM0 100h50v1h-50zM199 100h22v1h-22zM236 100h13v1h-13zM281 100h15v1h-15zM0 101h49v1h-49zM210 101h9v1h-9zM238 101h9v1h-9zM284 101h12v1h-12z"/><path fill="#00a060" d="M68 80h9v1h-9zM67 81h11v1h-11zM65 82h13v1h-13zM64 83h15v1h-15zM61 84h50v1h-50zM60 85h8v1h-8zM77 85h35v1h-35zM59 86h8v1h-8zM78 86h35v1h-35zM58 87h8v1h-8zM78 87h36v1h-36zM57 88h7v1h-7zM79 88h36v1h-36zM165 88h1v1h-1zM57 89h4v1h-4zM111 89h5v1h-5zM164 89h3v1h-3zM56 90h3v1h-3zM114 90h3v1h-3zM163 90h4v1h-4zM178 90h2v1h-2zM228 90h2v1h-2zM55 91h2v1h-2zM116 91h3v1h-3zM163 91h5v1h-5zM177 91h4v1h-4zM227 91h4v1h-4zM54 92h2v1h-2zM117 92h3v1h-3zM163 92h5v1h-5zM177 92h4v1h-4zM190 92h2v1h-2zM226 92h5v1h-5zM54 93h2v1h-2zM119 93h2v1h-2zM162 93h3v1h-3zM166 93h3v1h-3zM176 93h6v1h-6zM189 93h4v1h-4zM225 93h7v1h-7zM53 94h2v1h-2zM119 94h4v1h-4zM152 94h3v1h-3zM162 94h2v1h-2zM167 94h2v1h-2zM176 94h6v1h-6zM188 94h6v1h-6zM225 94h7v1h-7zM254 94h4v1h-4zM269 94h5v1h-5zM53 95h2v1h-2zM120 95h4v1h-4zM151 95h5v1h-5zM161 95h3v1h-3zM167 95h2v1h-2zM176 95h7v1h-7zM188 95h6v1h-6zM225 95h8v1h-8zM253 95h6v1h-6zM268 95h7v1h-7zM52 96h3v1h-3zM120 96h14v1h-14zM150 96h7v1h-7zM161 96h3v1h-3zM167 96h3v1h-3zM175 96h3v1h-3zM180 96h3v1h-3zM187 96h8v1h-8zM224 96h9v1h-9zM253 96h7v1h-7zM267 96h9v1h-9zM52 97h2v1h-2zM121 97h16v1h-16zM149 97h9v1h-9zM160 97h3v1h-3zM168 97h2v1h-2zM175 97h3v1h-3zM180 97h4v1h-4zM186 97h9v1h-9zM224 97h4v1h-4zM230 97h4v1h-4zM252 97h9v1h-9zM265 97h12v1h-12zM51 98h3v1h-3zM121 98h18v1h-18zM148 98h15v1h-15zM168 98h3v1h-3zM174 98h3v1h-3zM181 98h9v1h-9zM192 98h4v1h-4zM223 98h4v1h-4zM230 98h4v1h-4zM251 98h28v1h-28zM51 99h3v1h-3zM122 99h19v1h-19zM147 99h16v1h-16zM169 99h3v1h-3zM173 99h4v1h-4zM182 99h7v1h-7zM193 99h4v1h-4zM222 99h4v1h-4zM231 99h4v1h-4zM250 99h30v1h-30zM50 100h3v1h-3zM123 100h39v1h-39zM169 100h7v1h-7zM182 100h6v1h-6zM194 100h5v1h-5zM221 100h5v1h-5zM232 100h4v1h-4zM249 100h32v1h-32zM49 101h4v1h-4zM124 101h28v1h-28zM154 101h8v1h-8zM170 101h5v1h-5zM183 101h4v1h-4zM195 101h15v1h-15zM219 101h6v1h-6zM232 101h6v1h-6zM247 101h7v1h-7zM259 101h7v1h-7zM274 101h10v1h-10zM0 102h52v1h-52zM126 102h25v1h-25zM156 102h5v1h-5zM171 102h4v1h-4zM196 102h28v1h-28zM233 102h20v1h-20zM275 102h21v1h-21zM0 103h52v1h-52zM134 103h16v1h-16zM157 103h4v1h-4zM172 103h2v1h-2zM198 103h26v1h-26zM233 103h19v1h-19zM277 103h19v1h-19zM0 104h51v1h-51zM137 104h12v1h-12zM158 104h1v1h-1zM203 104h20v1h-20zM234 104h18v1h-18zM278 104h18v1h-18zM0 105h51v1h-51zM140 105h8v1h-8zM211 105h11v1h-11zM235 105h16v1h-16zM279 105h17v1h-17zM0 106h50v1h-50zM142 106h4v1h-4zM217 106h3v1h-3zM236 106h14v1h-14zM280 106h16v1h-16zM0 107h49v1h-49zM239 107h9v1h-9zM282 107h14v1h-14zM0 108h44v1h-44zM286 108h10v1h-10z"/><path fill="#008080" d="M68 85h9v1h-9zM67 86h11v1h-11zM66 87h12v1h-12zM64 88h15v1h-15zM61 89h50v1h-50zM59 90h55v1h-55zM57 91h8v1h-8zM79 91h37v1h-37zM56 92h4v1h-4zM113 92h4v1h-4zM56 93h3v1h-3zM115 93h4v1h-4zM165 93h1v1h-1zM55 94h3v1h-3zM116 94h3v1h-3zM164 94h3v1h-3zM55 95h2v1h-2zM116 95h4v1h-4zM164 95h3v1h-3zM55 96h2v1h-2zM117 96h3v1h-3zM164 96h3v1h-3zM178 96h2v1h-2zM54 97h3v1h-3zM117 97h4v1h-4zM163 97h5v1h-5zM178 97h2v1h-2zM228 97h2v1h-2zM54 98h3v1h-3zM117 98h4v1h-4zM163 98h5v1h-5zM177 98h4v1h-4zM190 98h2v1h-2zM227 98h3v1h-3zM54 99h2v1h-2zM118 99h4v1h-4zM163 99h6v1h-6zM177 99h5v1h-5zM189 99h4v1h-4zM226 99h5v1h-5zM53 100h3v1h-3zM118 100h5v1h-5zM162 100h7v1h-7zM176 100h6v1h-6zM188 100h6v1h-6zM226 100h6v1h-6zM53 101h3v1h-3zM119 101h5v1h-5zM152 101h2v1h-2zM162 101h8v1h-8zM175 101h8v1h-8zM187 101h8v1h-8zM225 101h7v1h-7zM254 101h5v1h-5zM266 101h8v1h-8zM52 102h3v1h-3zM120 102h6v1h-6zM151 102h5v1h-5zM161 102h10v1h-10zM175 102h21v1h-21zM224 102h9v1h-9zM253 102h22v1h-22zM52 103h3v1h-3zM120 103h14v1h-14zM150 103h7v1h-7zM161 103h4v1h-4zM168 103h4v1h-4zM174 103h16v1h-16zM192 103h6v1h-6zM224 103h9v1h-9zM252 103h25v1h-25zM51 104h4v1h-4zM121 104h16v1h-16zM149 104h9v1h-9zM159 104h5v1h-5zM169 104h9v1h-9zM181 104h8v1h-8zM194 104h9v1h-9zM223 104h11v1h-11zM252 104h26v1h-26zM51 105h3v1h-3zM122 105h18v1h-18zM148 105h16v1h-16zM169 105h8v1h-8zM182 105h5v1h-5zM195 105h16v1h-16zM222 105h13v1h-13zM251 105h28v1h-28zM50 106h4v1h-4zM123 106h19v1h-19zM146 106h17v1h-17zM170 106h6v1h-6zM183 106h3v1h-3zM196 106h21v1h-21zM220 106h16v1h-16zM250 106h12v1h-12zM269 106h11v1h-11zM49 107h5v1h-5zM124 107h39v1h-39zM171 107h4v1h-4zM198 107h41v1h-41zM248 107h9v1h-9zM270 107h12v1h-12zM44 108h9v1h-9zM125 108h37v1h-37zM172 108h2v1h-2zM201 108h55v1h-55zM271 108h15v1h-15zM0 109h53v1h-53zM126 109h36v1h-36zM206 109h49v1h-49zM272 109h24v1h-24zM0 110h52v1h-52zM126 110h36v1h-36zM209 110h17v1h-17zM231 110h23v1h-23zM273 110h23v1h-23zM0 111h51v1h-51zM127 111h34v1h-34zM212 111h13v1h-13zM233 111h21v1h-21zM274 111h22v1h-22zM0 112h50v1h-50zM128 112h33v1h-33zM215 112h9v1h-9zM240 112h14v1h-14zM274 112h22v1h-22zM0 113h48v1h-48zM128 113h33v1h-33zM217 113h6v1h-6zM242 113h11v1h-11zM274 113h22v1h-22zM0 114h46v1h-46zM129 114h31v1h-31zM219 114h2v1h-2zM243 114h10v1h-10zM275 114h21v1h-21zM0 115h10v1h-10zM33 115h11v1h-11zM129 115h24v1h-24zM155 115h5v1h-5zM244 115h9v1h-9zM275 115h21v1h-21zM0 116h3v1h-3zM130 116h22v1h-22zM157 116h2v1h-2zM244 116h8v1h-8zM276 116h20v1h-20zM131 117h20v1h-20zM245 117h7v1h-7zM276 117h20v1h-20z"/><path fill="#006098" d="M65 91h14v1h-14zM60 92h53v1h-53zM59 93h56v1h-56zM58 94h58v1h-58zM57 95h59v1h-59zM57 96h60v1h-60zM57 97h60v1h-60zM57 98h60v1h-60zM56 99h62v1h-62zM56 100h62v1h-62zM56 101h63v1h-63zM55 102h65v1h-65zM55 103h65v1h-65zM165 103h3v1h-3zM190 103h2v1h-2zM55 104h66v1h-66zM164 104h5v1h-5zM178 104h3v1h-3zM189 104h5v1h-5zM54 105h68v1h-68zM164 105h5v1h-5zM177 105h5v1h-5zM187 105h8v1h-8zM54 106h69v1h-69zM163 106h7v1h-7zM176 106h7v1h-7zM186 106h10v1h-10zM262 106h7v1h-7zM54 107h70v1h-70zM163 107h8v1h-8zM175 107h23v1h-23zM257 107h13v1h-13zM53 108h72v1h-72zM162 108h10v1h-10zM174 108h27v1h-27zM256 108h15v1h-15zM53 109h73v1h-73zM162 109h44v1h-44zM255 109h17v1h-17zM52 110h74v1h-74zM162 110h47v1h-47zM226 110h5v1h-5zM254 110h19v1h-19zM51 111h76v1h-76zM161 111h51v1h-51zM225 111h8v1h-8zM254 111h20v1h-20zM50 112h78v1h-78zM161 112h54v1h-54zM224 112h16v1h-16zM254 112h20v1h-20zM48 113h80v1h-80zM161 113h56v1h-56zM223 113h19v1h-19zM253 113h21v1h-21zM46 114h83v1h-83zM160 114h59v1h-59zM221 114h22v1h-22zM253 114h22v1h-22zM10 115h23v1h-23zM44 115h85v1h-85zM153 115h2v1h-2zM160 115h84v1h-84zM253 115h22v1h-22zM3 116h127v1h-127zM152 116h5v1h-5zM159 116h85v1h-85zM252 116h24v1h-24zM0 117h131v1h-131zM151 117h94v1h-94zM252 117h24v1h-24z"/></g></g></g>
<text x="355.5" y="491.2" font-family='"Liberation Sans",sans-serif' font-size="7.6" textLength="70" lengthAdjust="spacingAndGlyphs" fill="#000">S-wave velocity cross-section</text>
<text x="340.0" y="497.1" text-anchor="end" font-family='"Liberation Sans",sans-serif' font-size="6" textLength="5.8" lengthAdjust="spacingAndGlyphs" fill="#222">-0</text>
<text x="340.0" y="504.4" text-anchor="end" font-family='"Liberation Sans",sans-serif' font-size="6" textLength="2.9" lengthAdjust="spacingAndGlyphs" fill="#222">2</text>
<text x="340.0" y="511.8" text-anchor="end" font-family='"Liberation Sans",sans-serif' font-size="6" textLength="2.9" lengthAdjust="spacingAndGlyphs" fill="#222">4</text>
<text x="340.0" y="519.1" text-anchor="end" font-family='"Liberation Sans",sans-serif' font-size="6" textLength="2.9" lengthAdjust="spacingAndGlyphs" fill="#222">6</text>
<text x="340.0" y="526.5" text-anchor="end" font-family='"Liberation Sans",sans-serif' font-size="6" textLength="2.9" lengthAdjust="spacingAndGlyphs" fill="#222">8</text>
<text x="340.0" y="533.8" text-anchor="end" font-family='"Liberation Sans",sans-serif' font-size="6" textLength="5.8" lengthAdjust="spacingAndGlyphs" fill="#222">10</text>
<text x="340.0" y="541.2" text-anchor="end" font-family='"Liberation Sans",sans-serif' font-size="6" textLength="5.8" lengthAdjust="spacingAndGlyphs" fill="#222">12</text>
<text x="340.0" y="548.5" text-anchor="end" font-family='"Liberation Sans",sans-serif' font-size="6" textLength="5.8" lengthAdjust="spacingAndGlyphs" fill="#222">14</text>
<text x="340.0" y="555.9" text-anchor="end" font-family='"Liberation Sans",sans-serif' font-size="6" textLength="5.8" lengthAdjust="spacingAndGlyphs" fill="#222">16</text>
<text x="340.0" y="563.2" text-anchor="end" font-family='"Liberation Sans",sans-serif' font-size="6" textLength="5.8" lengthAdjust="spacingAndGlyphs" fill="#222">18</text>
<text x="340.0" y="570.5" text-anchor="end" font-family='"Liberation Sans",sans-serif' font-size="6" textLength="5.8" lengthAdjust="spacingAndGlyphs" fill="#222">20</text>
<text x="340.0" y="577.9" text-anchor="end" font-family='"Liberation Sans",sans-serif' font-size="6" textLength="5.8" lengthAdjust="spacingAndGlyphs" fill="#222">22</text>
<text x="340.0" y="585.2" text-anchor="end" font-family='"Liberation Sans",sans-serif' font-size="6" textLength="5.8" lengthAdjust="spacingAndGlyphs" fill="#222">24</text>
<text x="340.0" y="592.6" text-anchor="end" font-family='"Liberation Sans",sans-serif' font-size="6" textLength="5.8" lengthAdjust="spacingAndGlyphs" fill="#222">26</text>
<text x="340.0" y="599.9" text-anchor="end" font-family='"Liberation Sans",sans-serif' font-size="6" textLength="5.8" lengthAdjust="spacingAndGlyphs" fill="#222">28</text>
<text x="340.0" y="607.3" text-anchor="end" font-family='"Liberation Sans",sans-serif' font-size="6" textLength="5.8" lengthAdjust="spacingAndGlyphs" fill="#222">30</text>
<text x="340.0" y="614.6" text-anchor="end" font-family='"Liberation Sans",sans-serif' font-size="6" textLength="5.8" lengthAdjust="spacingAndGlyphs" fill="#222">32</text>
<text x="348.0" y="627.4" text-anchor="middle" font-family='"Liberation Sans",sans-serif' font-size="6" textLength="2.8" lengthAdjust="spacingAndGlyphs" fill="#222">0</text>
<text x="361.4" y="627.4" text-anchor="middle" font-family='"Liberation Sans",sans-serif' font-size="6" textLength="2.8" lengthAdjust="spacingAndGlyphs" fill="#222">5</text>
<text x="374.9" y="627.4" text-anchor="middle" font-family='"Liberation Sans",sans-serif' font-size="6" textLength="5.6" lengthAdjust="spacingAndGlyphs" fill="#222">10</text>
<text x="388.4" y="627.4" text-anchor="middle" font-family='"Liberation Sans",sans-serif' font-size="6" textLength="5.6" lengthAdjust="spacingAndGlyphs" fill="#222">15</text>
<text x="401.8" y="627.4" text-anchor="middle" font-family='"Liberation Sans",sans-serif' font-size="6" textLength="5.6" lengthAdjust="spacingAndGlyphs" fill="#222">20</text>
<text x="415.2" y="627.4" text-anchor="middle" font-family='"Liberation Sans",sans-serif' font-size="6" textLength="5.6" lengthAdjust="spacingAndGlyphs" fill="#222">25</text>
<text x="428.7" y="627.4" text-anchor="middle" font-family='"Liberation Sans",sans-serif' font-size="6" textLength="5.6" lengthAdjust="spacingAndGlyphs" fill="#222">30</text>
<text x="442.1" y="627.4" text-anchor="middle" font-family='"Liberation Sans",sans-serif' font-size="6" textLength="5.6" lengthAdjust="spacingAndGlyphs" fill="#222">35</text>
<text x="455.6" y="627.4" text-anchor="middle" font-family='"Liberation Sans",sans-serif' font-size="6" textLength="5.6" lengthAdjust="spacingAndGlyphs" fill="#222">40</text>
<text x="469.1" y="627.4" text-anchor="middle" font-family='"Liberation Sans",sans-serif' font-size="6" textLength="5.6" lengthAdjust="spacingAndGlyphs" fill="#222">45</text>
<text x="482.5" y="627.4" text-anchor="middle" font-family='"Liberation Sans",sans-serif' font-size="6" textLength="5.6" lengthAdjust="spacingAndGlyphs" fill="#222">50</text>
<text x="495.9" y="627.4" text-anchor="middle" font-family='"Liberation Sans",sans-serif' font-size="6" textLength="5.6" lengthAdjust="spacingAndGlyphs" fill="#222">55</text>
<text x="509.4" y="627.4" text-anchor="middle" font-family='"Liberation Sans",sans-serif' font-size="6" textLength="5.6" lengthAdjust="spacingAndGlyphs" fill="#222">60</text>
<text x="522.9" y="627.4" text-anchor="middle" font-family='"Liberation Sans",sans-serif' font-size="6" textLength="5.6" lengthAdjust="spacingAndGlyphs" fill="#222">65</text>
<text x="536.3" y="627.4" text-anchor="middle" font-family='"Liberation Sans",sans-serif' font-size="6" textLength="5.6" lengthAdjust="spacingAndGlyphs" fill="#222">70</text>
<text x="549.8" y="627.4" text-anchor="middle" font-family='"Liberation Sans",sans-serif' font-size="6" textLength="5.6" lengthAdjust="spacingAndGlyphs" fill="#222">75</text>
<text x="563.2" y="627.4" text-anchor="middle" font-family='"Liberation Sans",sans-serif' font-size="6" textLength="5.6" lengthAdjust="spacingAndGlyphs" fill="#222">80</text>
<text x="576.6" y="627.4" text-anchor="middle" font-family='"Liberation Sans",sans-serif' font-size="6" textLength="5.6" lengthAdjust="spacingAndGlyphs" fill="#222">85</text>
<text x="590.1" y="627.4" text-anchor="middle" font-family='"Liberation Sans",sans-serif' font-size="6" textLength="5.6" lengthAdjust="spacingAndGlyphs" fill="#222">90</text>
<text x="603.5" y="627.4" text-anchor="middle" font-family='"Liberation Sans",sans-serif' font-size="6" textLength="5.6" lengthAdjust="spacingAndGlyphs" fill="#222">95</text>
<text x="617.0" y="627.4" text-anchor="middle" font-family='"Liberation Sans",sans-serif' font-size="6" textLength="8.4" lengthAdjust="spacingAndGlyphs" fill="#222">100</text>
<text x="630.5" y="627.4" text-anchor="middle" font-family='"Liberation Sans",sans-serif' font-size="6" textLength="8.4" lengthAdjust="spacingAndGlyphs" fill="#222">105</text>
<text x="643.9" y="627.4" text-anchor="middle" font-family='"Liberation Sans",sans-serif' font-size="6" textLength="8.4" lengthAdjust="spacingAndGlyphs" fill="#222">110</text>
<path d="M346.6 496.5h1.6M346.6 503.8h1.6M346.6 511.2h1.6M346.6 518.5h1.6M346.6 525.9h1.6M346.6 533.2h1.6M346.6 540.6h1.6M346.6 547.9h1.6M346.6 555.3h1.6M346.6 562.6h1.6M346.6 569.9h1.6M346.6 577.3h1.6M346.6 584.6h1.6M346.6 592.0h1.6M346.6 599.3h1.6M346.6 606.7h1.6M346.6 614.0h1.6M347.5 614v1.6M360.9 614v1.6M374.4 614v1.6M387.9 614v1.6M401.3 614v1.6M414.8 614v1.6M428.2 614v1.6M441.6 614v1.6M455.1 614v1.6M468.6 614v1.6M482.0 614v1.6M495.4 614v1.6M508.9 614v1.6M522.4 614v1.6M535.8 614v1.6M549.2 614v1.6M562.7 614v1.6M576.1 614v1.6M589.6 614v1.6M603.0 614v1.6M616.5 614v1.6M630.0 614v1.6M643.4 614v1.6M643.5 496.5h1.6M643.5 503.8h1.6M643.5 511.2h1.6M643.5 518.5h1.6M643.5 525.9h1.6M643.5 533.2h1.6M643.5 540.6h1.6M643.5 547.9h1.6M643.5 555.3h1.6M643.5 562.6h1.6M643.5 569.9h1.6M643.5 577.3h1.6M643.5 584.6h1.6M643.5 592.0h1.6M643.5 599.3h1.6M643.5 606.7h1.6M643.5 614.0h1.6M347.5 496.3H643.5M348.0 496.3v-1.5M361.4 496.3v-1.5M374.9 496.3v-1.5M388.4 496.3v-1.5M401.8 496.3v-1.5M415.2 496.3v-1.5M428.7 496.3v-1.5M442.1 496.3v-1.5M455.6 496.3v-1.5M469.1 496.3v-1.5M482.5 496.3v-1.5M495.9 496.3v-1.5M509.4 496.3v-1.5M522.9 496.3v-1.5M536.3 496.3v-1.5M549.8 496.3v-1.5M563.2 496.3v-1.5M576.6 496.3v-1.5M590.1 496.3v-1.5M603.5 496.3v-1.5M617.0 496.3v-1.5M630.5 496.3v-1.5M643.9 496.3v-1.5" stroke="#555" stroke-width="0.6"/>
<text x="499.3" y="643.8" text-anchor="middle" font-family='"Liberation Sans",sans-serif' font-size="6.6" textLength="27" lengthAdjust="spacingAndGlyphs" fill="#222">Distance (m)</text>
<text transform="translate(330.6,560.5) rotate(-90)" text-anchor="middle" font-family='"Liberation Sans",sans-serif' font-size="6.4" textLength="24" lengthAdjust="spacingAndGlyphs" fill="#222">Depth (m)</text>
<rect x="653.2" y="609.73" width="5.2" height="4.97" fill="#c000ff"/>
<rect x="653.2" y="605.06" width="5.2" height="4.97" fill="#ff00ff"/>
<rect x="653.2" y="600.39" width="5.2" height="4.97" fill="#ff0090"/>
<rect x="653.2" y="595.72" width="5.2" height="4.97" fill="#ff0000"/>
<rect x="653.2" y="591.05" width="5.2" height="4.97" fill="#ff3800"/>
<rect x="653.2" y="586.38" width="5.2" height="4.97" fill="#ff7000"/>
<rect x="653.2" y="581.71" width="5.2" height="4.97" fill="#ffa000"/>
<rect x="653.2" y="577.04" width="5.2" height="4.97" fill="#ffc800"/>
<rect x="653.2" y="572.37" width="5.2" height="4.97" fill="#ffee00"/>
<rect x="653.2" y="567.70" width="5.2" height="4.97" fill="#e8ff00"/>
<rect x="653.2" y="563.03" width="5.2" height="4.97" fill="#c0ff00"/>
<rect x="653.2" y="558.36" width="5.2" height="4.97" fill="#90ff00"/>
<rect x="653.2" y="553.69" width="5.2" height="4.97" fill="#50ff00"/>
<rect x="653.2" y="549.02" width="5.2" height="4.97" fill="#10f000"/>
<rect x="653.2" y="544.35" width="5.2" height="4.97" fill="#00d030"/>
<rect x="653.2" y="539.68" width="5.2" height="4.97" fill="#00a060"/>
<rect x="653.2" y="535.01" width="5.2" height="4.97" fill="#008080"/>
<rect x="653.2" y="530.34" width="5.2" height="4.97" fill="#006098"/>
<rect x="653.2" y="525.67" width="5.2" height="4.97" fill="#0050b0"/>
<rect x="653.2" y="521.00" width="5.2" height="4.97" fill="#1a3cd8"/>
<text x="660.2" y="527.1" font-family='"Liberation Sans",sans-serif' font-size="6" textLength="7.6" lengthAdjust="spacingAndGlyphs" fill="#333">445</text>
<text x="660.2" y="536.4" font-family='"Liberation Sans",sans-serif' font-size="6" textLength="7.6" lengthAdjust="spacingAndGlyphs" fill="#333">377</text>
<text x="660.2" y="545.7" font-family='"Liberation Sans",sans-serif' font-size="6" textLength="7.6" lengthAdjust="spacingAndGlyphs" fill="#333">320</text>
<text x="660.2" y="555.0" font-family='"Liberation Sans",sans-serif' font-size="6" textLength="7.6" lengthAdjust="spacingAndGlyphs" fill="#333">271</text>
<text x="660.2" y="564.3" font-family='"Liberation Sans",sans-serif' font-size="6" textLength="7.6" lengthAdjust="spacingAndGlyphs" fill="#333">230</text>
<text x="660.2" y="573.6" font-family='"Liberation Sans",sans-serif' font-size="6" textLength="7.6" lengthAdjust="spacingAndGlyphs" fill="#333">195</text>
<text x="660.2" y="582.8" font-family='"Liberation Sans",sans-serif' font-size="6" textLength="7.6" lengthAdjust="spacingAndGlyphs" fill="#333">165</text>
<text x="660.2" y="592.1" font-family='"Liberation Sans",sans-serif' font-size="6" textLength="7.6" lengthAdjust="spacingAndGlyphs" fill="#333">140</text>
<text x="660.2" y="601.4" font-family='"Liberation Sans",sans-serif' font-size="6" textLength="7.6" lengthAdjust="spacingAndGlyphs" fill="#333">119</text>
<text x="660.2" y="610.7" font-family='"Liberation Sans",sans-serif' font-size="6" textLength="7.6" lengthAdjust="spacingAndGlyphs" fill="#333">100</text>
<text x="649" y="513.2" font-family='"Liberation Sans",sans-serif' font-size="6.4" textLength="29" lengthAdjust="spacingAndGlyphs" fill="#222">S-wave velocity</text>
<text x="660" y="623.8" font-family='"Liberation Sans",sans-serif' font-size="5.2" textLength="10" lengthAdjust="spacingAndGlyphs" fill="#333">(m/s)</text>
<rect x="348.7" y="495.4" width="8.6" height="6.4" fill="#fff"/>
<text x="353.0" y="500.6" text-anchor="middle" font-family='"Liberation Sans",sans-serif' font-size="5.8" textLength="7.4" lengthAdjust="spacingAndGlyphs" fill="#222">119</text>
<rect x="379.2" y="495.4" width="8.6" height="6.4" fill="#fff"/>
<text x="383.5" y="500.6" text-anchor="middle" font-family='"Liberation Sans",sans-serif' font-size="5.8" textLength="7.4" lengthAdjust="spacingAndGlyphs" fill="#222">152</text>
<rect x="404.7" y="495.4" width="8.6" height="6.4" fill="#fff"/>
<text x="409.0" y="500.6" text-anchor="middle" font-family='"Liberation Sans",sans-serif' font-size="5.8" textLength="7.4" lengthAdjust="spacingAndGlyphs" fill="#222">145</text>
<rect x="443.7" y="495.4" width="8.6" height="6.4" fill="#fff"/>
<text x="448.0" y="500.6" text-anchor="middle" font-family='"Liberation Sans",sans-serif' font-size="5.8" textLength="7.4" lengthAdjust="spacingAndGlyphs" fill="#222">129</text>
<rect x="464.7" y="497.0" width="8.6" height="6.4" fill="#fff"/>
<text x="469.0" y="502.2" text-anchor="middle" font-family='"Liberation Sans",sans-serif' font-size="5.8" textLength="7.4" lengthAdjust="spacingAndGlyphs" fill="#222">179</text>
<rect x="488.9" y="495.8" width="8.6" height="6.4" fill="#fff"/>
<text x="493.2" y="501.0" text-anchor="middle" font-family='"Liberation Sans",sans-serif' font-size="5.8" textLength="7.4" lengthAdjust="spacingAndGlyphs" fill="#222">195</text>
<rect x="517.4" y="495.8" width="8.6" height="6.4" fill="#fff"/>
<text x="521.7" y="501.0" text-anchor="middle" font-family='"Liberation Sans",sans-serif' font-size="5.8" textLength="7.4" lengthAdjust="spacingAndGlyphs" fill="#222">165</text>
<rect x="575.6" y="496.3" width="8.6" height="6.4" fill="#fff"/>
<text x="579.9" y="501.5" text-anchor="middle" font-family='"Liberation Sans",sans-serif' font-size="5.8" textLength="7.4" lengthAdjust="spacingAndGlyphs" fill="#222">212</text>
<rect x="631.0" y="495.4" width="8.6" height="6.4" fill="#fff"/>
<text x="635.3" y="500.6" text-anchor="middle" font-family='"Liberation Sans",sans-serif' font-size="5.8" textLength="7.4" lengthAdjust="spacingAndGlyphs" fill="#222">109</text>
<rect x="453.8" y="535.9" width="8.6" height="6.4" fill="#fff"/>
<text x="458.1" y="541.1" text-anchor="middle" font-family='"Liberation Sans",sans-serif' font-size="5.8" textLength="7.4" lengthAdjust="spacingAndGlyphs" fill="#222">250</text>
<rect x="481.0" y="553.1" width="8.6" height="6.4" fill="#fff"/>
<text x="485.3" y="558.3" text-anchor="middle" font-family='"Liberation Sans",sans-serif' font-size="5.8" textLength="7.4" lengthAdjust="spacingAndGlyphs" fill="#222">271</text>
<rect x="411.3" y="573.5" width="8.6" height="6.4" fill="#fff"/>
<text x="415.6" y="578.7" text-anchor="middle" font-family='"Liberation Sans",sans-serif' font-size="5.8" textLength="7.4" lengthAdjust="spacingAndGlyphs" fill="#222">320</text>
<rect x="433.0" y="585.9" width="8.6" height="6.4" fill="#fff"/>
<text x="437.3" y="591.1" text-anchor="middle" font-family='"Liberation Sans",sans-serif' font-size="5.8" textLength="7.4" lengthAdjust="spacingAndGlyphs" fill="#222">377</text>
<rect x="567.7" y="523.7" width="8.6" height="6.4" fill="#fff"/>
<text x="572.0" y="528.9" text-anchor="middle" font-family='"Liberation Sans",sans-serif' font-size="5.8" textLength="7.4" lengthAdjust="spacingAndGlyphs" fill="#222">230</text>
<rect x="577.4" y="553.6" width="8.6" height="6.4" fill="#fff"/>
<text x="581.7" y="558.8" text-anchor="middle" font-family='"Liberation Sans",sans-serif' font-size="5.8" textLength="7.4" lengthAdjust="spacingAndGlyphs" fill="#222">294</text>
<rect x="512.7" y="583.7" width="8.6" height="6.4" fill="#fff"/>
<text x="517.0" y="588.9" text-anchor="middle" font-family='"Liberation Sans",sans-serif' font-size="5.8" textLength="7.4" lengthAdjust="spacingAndGlyphs" fill="#222">347</text>
<text x="325.2" y="642.8" font-family='"Liberation Serif",serif' font-weight="bold" font-size="16" letter-spacing="0.3">(D)</text>
</svg>
</body></html>
